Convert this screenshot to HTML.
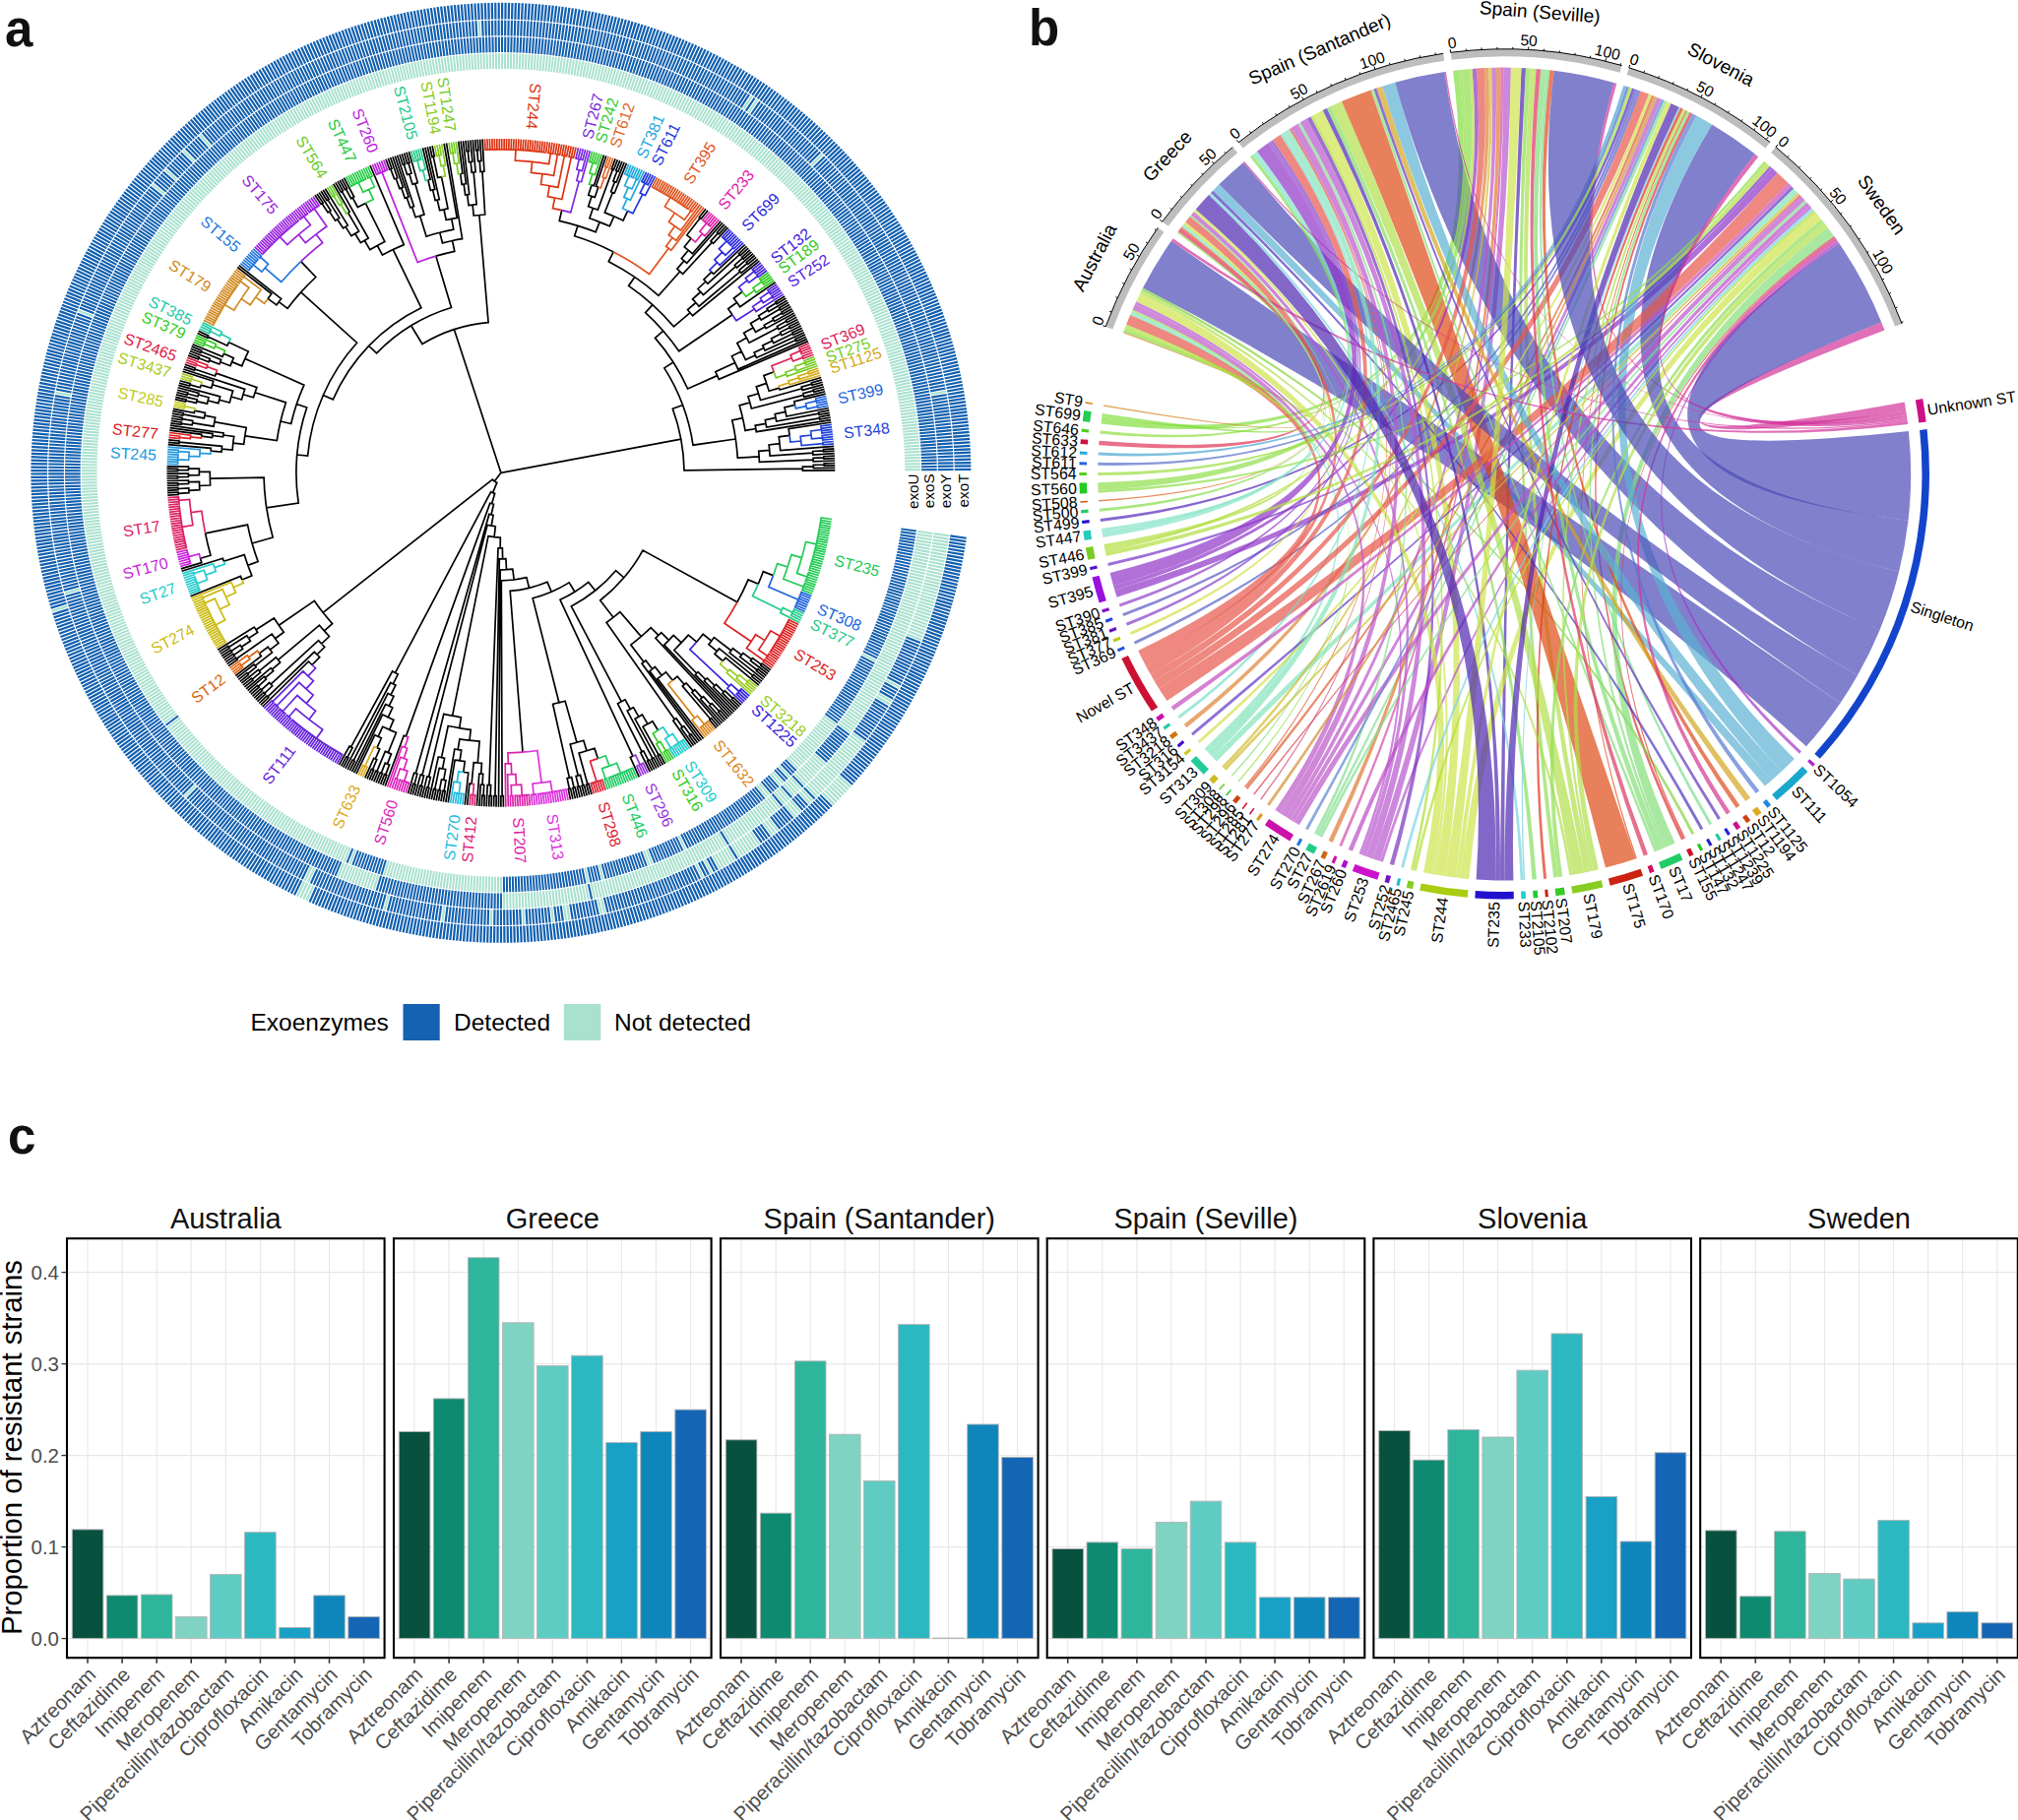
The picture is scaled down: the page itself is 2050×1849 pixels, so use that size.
<!DOCTYPE html>
<html><head><meta charset="utf-8"><title>Figure</title>
<style>html,body{margin:0;padding:0;background:#fff}svg{display:block}</style></head>
<body><svg width="2050" height="1849" viewBox="0 0 2050 1849">
<rect width="2050" height="1849" fill="#fff"/>
<g fill="none"><path d="M927.15 478.27A418.25 418.25 0 0 0 560.16 65.2" stroke="#a9e1cf" stroke-width="15.7" stroke-dasharray="1.995 1.028"/><path d="M559.14 65.08A418.25 418.25 0 0 0 103.46 377.58" stroke="#a9e1cf" stroke-width="15.7" stroke-dasharray="1.995 1.028"/><path d="M103.21 378.58A418.25 418.25 0 0 0 173.65 730.37" stroke="#a9e1cf" stroke-width="15.7" stroke-dasharray="1.995 1.028"/><path d="M174.26 731.2A418.25 418.25 0 0 0 175.46 732.79" stroke="#1260b0" stroke-width="15.7" stroke-dasharray="1.995 1.028"/><path d="M176.08 733.61A418.25 418.25 0 0 0 353.53 868.62" stroke="#a9e1cf" stroke-width="15.7" stroke-dasharray="1.995 1.028"/><path d="M354.48 869A418.25 418.25 0 0 0 356.34 869.73" stroke="#1260b0" stroke-width="15.7" stroke-dasharray="1.995 1.028"/><path d="M357.3 870.11A418.25 418.25 0 0 0 359.16 870.83" stroke="#a9e1cf" stroke-width="15.7" stroke-dasharray="1.995 1.028"/><path d="M360.12 871.19A418.25 418.25 0 0 0 390.65 881.48" stroke="#1260b0" stroke-width="15.7" stroke-dasharray="1.995 1.028"/><path d="M391.63 881.77A418.25 418.25 0 0 0 509.93 898.55" stroke="#a9e1cf" stroke-width="15.7" stroke-dasharray="1.995 1.028"/><path d="M510.96 898.54A418.25 418.25 0 0 0 593.98 889.81" stroke="#1260b0" stroke-width="15.7" stroke-dasharray="1.995 1.028"/><path d="M594.98 889.6A418.25 418.25 0 0 0 596.94 889.18" stroke="#a9e1cf" stroke-width="15.7" stroke-dasharray="1.995 1.028"/><path d="M597.94 888.96A418.25 418.25 0 0 0 608.72 886.46" stroke="#1260b0" stroke-width="15.7" stroke-dasharray="1.995 1.028"/><path d="M609.72 886.22A418.25 418.25 0 0 0 611.65 885.73" stroke="#a9e1cf" stroke-width="15.7" stroke-dasharray="1.995 1.028"/><path d="M612.65 885.48A418.25 418.25 0 0 0 654.92 872.23" stroke="#1260b0" stroke-width="15.7" stroke-dasharray="1.995 1.028"/><path d="M655.88 871.87A418.25 418.25 0 0 0 660.57 870.08" stroke="#a9e1cf" stroke-width="15.7" stroke-dasharray="1.995 1.028"/><path d="M661.52 869.71A418.25 418.25 0 0 0 691.04 856.81" stroke="#1260b0" stroke-width="15.7" stroke-dasharray="1.995 1.028"/><path d="M691.97 856.36A418.25 418.25 0 0 0 693.76 855.48" stroke="#a9e1cf" stroke-width="15.7" stroke-dasharray="1.995 1.028"/><path d="M694.68 855.02A418.25 418.25 0 0 0 772.5 805.03" stroke="#1260b0" stroke-width="15.7" stroke-dasharray="1.995 1.028"/><path d="M773.3 804.38A418.25 418.25 0 0 0 777.17 801.18" stroke="#a9e1cf" stroke-width="15.7" stroke-dasharray="1.995 1.028"/><path d="M777.96 800.52A418.25 418.25 0 0 0 786.33 793.29" stroke="#1260b0" stroke-width="15.7" stroke-dasharray="1.995 1.028"/><path d="M787.1 792.61A418.25 418.25 0 0 0 790.83 789.25" stroke="#a9e1cf" stroke-width="15.7" stroke-dasharray="1.995 1.028"/><path d="M791.58 788.56A418.25 418.25 0 0 0 795.26 785.14" stroke="#1260b0" stroke-width="15.7" stroke-dasharray="1.995 1.028"/><path d="M796.01 784.44A418.25 418.25 0 0 0 797.46 783.07" stroke="#a9e1cf" stroke-width="15.7" stroke-dasharray="1.995 1.028"/><path d="M798.2 782.36A418.25 418.25 0 0 0 803.96 776.74" stroke="#1260b0" stroke-width="15.7" stroke-dasharray="1.995 1.028"/><path d="M804.68 776.01A418.25 418.25 0 0 0 843.58 731.14" stroke="#a9e1cf" stroke-width="15.7" stroke-dasharray="1.995 1.028"/><path d="M844.2 730.32A418.25 418.25 0 0 0 881.85 669.61" stroke="#1260b0" stroke-width="15.7" stroke-dasharray="1.995 1.028"/><path d="M882.32 668.7A418.25 418.25 0 0 0 883.21 666.91" stroke="#a9e1cf" stroke-width="15.7" stroke-dasharray="1.995 1.028"/><path d="M883.67 665.99A418.25 418.25 0 0 0 923.22 537.52" stroke="#1260b0" stroke-width="15.7" stroke-dasharray="1.995 1.028"/><path d="M943.94 478.19A435.05 435.05 0 0 0 562.22 48.53" stroke="#1260b0" stroke-width="15.7" stroke-dasharray="2.075 1.069"/><path d="M561.16 48.4A435.05 435.05 0 0 0 87.17 373.46" stroke="#1260b0" stroke-width="15.7" stroke-dasharray="2.075 1.069"/><path d="M86.91 374.5A435.05 435.05 0 0 0 344.37 883.04" stroke="#1260b0" stroke-width="15.7" stroke-dasharray="2.075 1.069"/><path d="M345.36 883.44A435.05 435.05 0 0 0 382.88 896.7" stroke="#a9e1cf" stroke-width="15.7" stroke-dasharray="2.075 1.069"/><path d="M383.91 897.01A435.05 435.05 0 0 0 509.97 915.35" stroke="#1260b0" stroke-width="15.7" stroke-dasharray="2.075 1.069"/><path d="M511.04 915.34A435.05 435.05 0 0 0 597.4 906.25" stroke="#a9e1cf" stroke-width="15.7" stroke-dasharray="2.075 1.069"/><path d="M598.44 906.04A435.05 435.05 0 0 0 600.47 905.6" stroke="#1260b0" stroke-width="15.7" stroke-dasharray="2.075 1.069"/><path d="M601.52 905.38A435.05 435.05 0 0 0 734.27 852.43" stroke="#a9e1cf" stroke-width="15.7" stroke-dasharray="2.075 1.069"/><path d="M735.18 851.87A435.05 435.05 0 0 0 736.95 850.79" stroke="#1260b0" stroke-width="15.7" stroke-dasharray="2.075 1.069"/><path d="M737.86 850.23A435.05 435.05 0 0 0 787.94 814.07" stroke="#a9e1cf" stroke-width="15.7" stroke-dasharray="2.075 1.069"/><path d="M788.76 813.38A435.05 435.05 0 0 0 790.35 812.05" stroke="#1260b0" stroke-width="15.7" stroke-dasharray="2.075 1.069"/><path d="M791.16 811.35A435.05 435.05 0 0 0 797.47 805.87" stroke="#a9e1cf" stroke-width="15.7" stroke-dasharray="2.075 1.069"/><path d="M798.27 805.16A435.05 435.05 0 0 0 799.82 803.77" stroke="#1260b0" stroke-width="15.7" stroke-dasharray="2.075 1.069"/><path d="M800.61 803.06A435.05 435.05 0 0 0 809.05 795.23" stroke="#a9e1cf" stroke-width="15.7" stroke-dasharray="2.075 1.069"/><path d="M809.82 794.49A435.05 435.05 0 0 0 811.32 793.05" stroke="#1260b0" stroke-width="15.7" stroke-dasharray="2.075 1.069"/><path d="M812.09 792.31A435.05 435.05 0 0 0 833.11 770.39" stroke="#a9e1cf" stroke-width="15.7" stroke-dasharray="2.075 1.069"/><path d="M833.82 769.6A435.05 435.05 0 0 0 857.02 741.22" stroke="#1260b0" stroke-width="15.7" stroke-dasharray="2.075 1.069"/><path d="M857.66 740.36A435.05 435.05 0 0 0 939.86 539.82" stroke="#a9e1cf" stroke-width="15.7" stroke-dasharray="2.075 1.069"/><path d="M960.74 478.11A451.85 451.85 0 0 0 953.78 401.25" stroke="#1260b0" stroke-width="15.7" stroke-dasharray="2.155 1.110"/><path d="M953.59 400.16A451.85 451.85 0 0 0 953.2 398.04" stroke="#a9e1cf" stroke-width="15.7" stroke-dasharray="2.155 1.110"/><path d="M953 396.95A451.85 451.85 0 0 0 831.47 163.89" stroke="#1260b0" stroke-width="15.7" stroke-dasharray="2.155 1.110"/><path d="M830.7 163.1A451.85 451.85 0 0 0 829.18 161.57" stroke="#a9e1cf" stroke-width="15.7" stroke-dasharray="2.155 1.110"/><path d="M828.39 160.78A451.85 451.85 0 0 0 766.68 109.2" stroke="#1260b0" stroke-width="15.7" stroke-dasharray="2.155 1.110"/><path d="M765.77 108.57A451.85 451.85 0 0 0 764 107.35" stroke="#a9e1cf" stroke-width="15.7" stroke-dasharray="2.155 1.110"/><path d="M763.08 106.72A451.85 451.85 0 0 0 761.29 105.51" stroke="#1260b0" stroke-width="15.7" stroke-dasharray="2.155 1.110"/><path d="M760.37 104.89A451.85 451.85 0 0 0 758.58 103.7" stroke="#a9e1cf" stroke-width="15.7" stroke-dasharray="2.155 1.110"/><path d="M757.65 103.09A451.85 451.85 0 0 0 489.31 28.87" stroke="#1260b0" stroke-width="15.7" stroke-dasharray="2.155 1.110"/><path d="M488.2 28.92A451.85 451.85 0 0 0 486.05 29.03" stroke="#a9e1cf" stroke-width="15.7" stroke-dasharray="2.155 1.110"/><path d="M484.94 29.09A451.85 451.85 0 0 0 210.02 141.42" stroke="#1260b0" stroke-width="15.7" stroke-dasharray="2.155 1.110"/><path d="M209.18 142.16A451.85 451.85 0 0 0 207.57 143.59" stroke="#a9e1cf" stroke-width="15.7" stroke-dasharray="2.155 1.110"/><path d="M206.75 144.34A451.85 451.85 0 0 0 193.26 156.97" stroke="#1260b0" stroke-width="15.7" stroke-dasharray="2.155 1.110"/><path d="M192.47 157.75A451.85 451.85 0 0 0 190.93 159.26" stroke="#a9e1cf" stroke-width="15.7" stroke-dasharray="2.155 1.110"/><path d="M190.14 160.05A451.85 451.85 0 0 0 175.1 175.75" stroke="#1260b0" stroke-width="15.7" stroke-dasharray="2.155 1.110"/><path d="M174.36 176.58A451.85 451.85 0 0 0 172.91 178.18" stroke="#a9e1cf" stroke-width="15.7" stroke-dasharray="2.155 1.110"/><path d="M172.17 179A451.85 451.85 0 0 0 162.21 190.51" stroke="#1260b0" stroke-width="15.7" stroke-dasharray="2.155 1.110"/><path d="M161.5 191.36A451.85 451.85 0 0 0 160.13 193.03" stroke="#a9e1cf" stroke-width="15.7" stroke-dasharray="2.155 1.110"/><path d="M159.42 193.88A451.85 451.85 0 0 0 87.79 316.49" stroke="#1260b0" stroke-width="15.7" stroke-dasharray="2.155 1.110"/><path d="M87.39 317.52A451.85 451.85 0 0 0 86.62 319.53" stroke="#a9e1cf" stroke-width="15.7" stroke-dasharray="2.155 1.110"/><path d="M86.22 320.57A451.85 451.85 0 0 0 64.6 398.04" stroke="#1260b0" stroke-width="15.7" stroke-dasharray="2.155 1.110"/><path d="M64.4 399.13A451.85 451.85 0 0 0 64.02 401.25" stroke="#a9e1cf" stroke-width="15.7" stroke-dasharray="2.155 1.110"/><path d="M63.82 402.35A451.85 451.85 0 0 0 72.83 598.66" stroke="#1260b0" stroke-width="15.7" stroke-dasharray="2.155 1.110"/><path d="M73.12 599.74A451.85 451.85 0 0 0 73.7 601.81" stroke="#a9e1cf" stroke-width="15.7" stroke-dasharray="2.155 1.110"/><path d="M74 602.88A451.85 451.85 0 0 0 191.73 802.12" stroke="#1260b0" stroke-width="15.7" stroke-dasharray="2.155 1.110"/><path d="M192.52 802.9A451.85 451.85 0 0 0 194.06 804.41" stroke="#a9e1cf" stroke-width="15.7" stroke-dasharray="2.155 1.110"/><path d="M194.86 805.18A451.85 451.85 0 0 0 311.19 886.6" stroke="#1260b0" stroke-width="15.7" stroke-dasharray="2.155 1.110"/><path d="M312.19 887.08A451.85 451.85 0 0 0 317.08 889.41" stroke="#a9e1cf" stroke-width="15.7" stroke-dasharray="2.155 1.110"/><path d="M318.09 889.89A451.85 451.85 0 0 0 390.57 916.38" stroke="#1260b0" stroke-width="15.7" stroke-dasharray="2.155 1.110"/><path d="M391.65 916.67A451.85 451.85 0 0 0 393.73 917.23" stroke="#a9e1cf" stroke-width="15.7" stroke-dasharray="2.155 1.110"/><path d="M394.8 917.51A451.85 451.85 0 0 0 448.15 928.05" stroke="#1260b0" stroke-width="15.7" stroke-dasharray="2.155 1.110"/><path d="M449.25 928.2A451.85 451.85 0 0 0 451.39 928.47" stroke="#a9e1cf" stroke-width="15.7" stroke-dasharray="2.155 1.110"/><path d="M452.49 928.61A451.85 451.85 0 0 0 496.95 931.99" stroke="#1260b0" stroke-width="15.7" stroke-dasharray="2.155 1.110"/><path d="M498.06 932.02A451.85 451.85 0 0 0 500.22 932.07" stroke="#a9e1cf" stroke-width="15.7" stroke-dasharray="2.155 1.110"/><path d="M501.33 932.09A451.85 451.85 0 0 0 529.6 931.68" stroke="#1260b0" stroke-width="15.7" stroke-dasharray="2.155 1.110"/><path d="M530.71 931.62A451.85 451.85 0 0 0 532.86 931.51" stroke="#a9e1cf" stroke-width="15.7" stroke-dasharray="2.155 1.110"/><path d="M533.97 931.45A451.85 451.85 0 0 0 558.9 929.38" stroke="#1260b0" stroke-width="15.7" stroke-dasharray="2.155 1.110"/><path d="M560 929.25A451.85 451.85 0 0 0 562.14 929" stroke="#a9e1cf" stroke-width="15.7" stroke-dasharray="2.155 1.110"/><path d="M563.25 928.87A451.85 451.85 0 0 0 571.86 927.74" stroke="#1260b0" stroke-width="15.7" stroke-dasharray="2.155 1.110"/><path d="M572.96 927.59A451.85 451.85 0 0 0 578.32 926.79" stroke="#a9e1cf" stroke-width="15.7" stroke-dasharray="2.155 1.110"/><path d="M579.42 926.61A451.85 451.85 0 0 0 607.2 921.33" stroke="#1260b0" stroke-width="15.7" stroke-dasharray="2.155 1.110"/><path d="M608.28 921.09A451.85 451.85 0 0 0 613.56 919.86" stroke="#a9e1cf" stroke-width="15.7" stroke-dasharray="2.155 1.110"/><path d="M614.64 919.6A451.85 451.85 0 0 0 708.61 885.62" stroke="#1260b0" stroke-width="15.7" stroke-dasharray="2.155 1.110"/><path d="M709.61 885.13A451.85 451.85 0 0 0 711.54 884.16" stroke="#a9e1cf" stroke-width="15.7" stroke-dasharray="2.155 1.110"/><path d="M712.53 883.67A451.85 451.85 0 0 0 717.35 881.19" stroke="#1260b0" stroke-width="15.7" stroke-dasharray="2.155 1.110"/><path d="M718.34 880.68A451.85 451.85 0 0 0 720.25 879.68" stroke="#a9e1cf" stroke-width="15.7" stroke-dasharray="2.155 1.110"/><path d="M721.23 879.16A451.85 451.85 0 0 0 726 876.58" stroke="#1260b0" stroke-width="15.7" stroke-dasharray="2.155 1.110"/><path d="M726.97 876.05A451.85 451.85 0 0 0 742.97 866.8" stroke="#a9e1cf" stroke-width="15.7" stroke-dasharray="2.155 1.110"/><path d="M743.92 866.22A451.85 451.85 0 0 0 745.76 865.09" stroke="#1260b0" stroke-width="15.7" stroke-dasharray="2.155 1.110"/><path d="M746.7 864.51A451.85 451.85 0 0 0 767.6 850.76" stroke="#a9e1cf" stroke-width="15.7" stroke-dasharray="2.155 1.110"/><path d="M768.51 850.13A451.85 451.85 0 0 0 778.2 843.13" stroke="#1260b0" stroke-width="15.7" stroke-dasharray="2.155 1.110"/><path d="M779.09 842.47A451.85 451.85 0 0 0 786 837.21" stroke="#a9e1cf" stroke-width="15.7" stroke-dasharray="2.155 1.110"/><path d="M786.88 836.52A451.85 451.85 0 0 0 801.22 824.86" stroke="#1260b0" stroke-width="15.7" stroke-dasharray="2.155 1.110"/><path d="M802.06 824.14A451.85 451.85 0 0 0 808.62 818.44" stroke="#a9e1cf" stroke-width="15.7" stroke-dasharray="2.155 1.110"/><path d="M809.45 817.7A451.85 451.85 0 0 0 815.88 811.86" stroke="#1260b0" stroke-width="15.7" stroke-dasharray="2.155 1.110"/><path d="M816.69 811.1A451.85 451.85 0 0 0 820.64 807.39" stroke="#a9e1cf" stroke-width="15.7" stroke-dasharray="2.155 1.110"/><path d="M821.44 806.62A451.85 451.85 0 0 0 823 805.13" stroke="#1260b0" stroke-width="15.7" stroke-dasharray="2.155 1.110"/><path d="M823.79 804.35A451.85 451.85 0 0 0 872.42 748.67" stroke="#a9e1cf" stroke-width="15.7" stroke-dasharray="2.155 1.110"/><path d="M873.07 747.78A451.85 451.85 0 0 0 895.99 713.38" stroke="#1260b0" stroke-width="15.7" stroke-dasharray="2.155 1.110"/><path d="M896.56 712.43A451.85 451.85 0 0 0 899.32 707.76" stroke="#a9e1cf" stroke-width="15.7" stroke-dasharray="2.155 1.110"/><path d="M899.88 706.8A451.85 451.85 0 0 0 905.73 696.38" stroke="#1260b0" stroke-width="15.7" stroke-dasharray="2.155 1.110"/><path d="M906.26 695.41A451.85 451.85 0 0 0 907.28 693.51" stroke="#a9e1cf" stroke-width="15.7" stroke-dasharray="2.155 1.110"/><path d="M907.81 692.53A451.85 451.85 0 0 0 928.02 649.15" stroke="#1260b0" stroke-width="15.7" stroke-dasharray="2.155 1.110"/><path d="M928.43 648.12A451.85 451.85 0 0 0 956.5 542.12" stroke="#a9e1cf" stroke-width="15.7" stroke-dasharray="2.155 1.110"/><path d="M978.04 478.03A469.15 469.15 0 0 0 566.4 14.69" stroke="#1260b0" stroke-width="16.7" stroke-dasharray="2.238 1.153"/><path d="M565.25 14.55A469.15 469.15 0 0 0 54.12 365.08" stroke="#1260b0" stroke-width="16.7" stroke-dasharray="2.238 1.153"/><path d="M53.84 366.2A469.15 469.15 0 0 0 59.87 616.23" stroke="#1260b0" stroke-width="16.7" stroke-dasharray="2.238 1.153"/><path d="M60.21 617.34A469.15 469.15 0 0 0 60.87 619.47" stroke="#a9e1cf" stroke-width="16.7" stroke-dasharray="2.238 1.153"/><path d="M61.21 620.58A469.15 469.15 0 0 0 303.62 902.16" stroke="#1260b0" stroke-width="16.7" stroke-dasharray="2.238 1.153"/><path d="M304.66 902.66A469.15 469.15 0 0 0 315.9 907.91" stroke="#a9e1cf" stroke-width="16.7" stroke-dasharray="2.238 1.153"/><path d="M316.95 908.39A469.15 469.15 0 0 0 839.86 812.81" stroke="#1260b0" stroke-width="16.7" stroke-dasharray="2.238 1.153"/><path d="M840.68 812A469.15 469.15 0 0 0 858.53 793.13" stroke="#a9e1cf" stroke-width="16.7" stroke-dasharray="2.238 1.153"/><path d="M859.29 792.27A469.15 469.15 0 0 0 973.64 544.48" stroke="#1260b0" stroke-width="16.7" stroke-dasharray="2.238 1.153"/></g>
<g fill="none" stroke-width="1.7" stroke-linejoin="miter" stroke-linecap="butt"><path d="M508.9 480.3L691.8 446.1M691.8 446.1A186.1 186.1 0 0 1 695 477.8L815.4 476.1M815.4 476.1A306.6 306.6 0 0 1 815.4 478.1L848.3 477.8M815.4 476.1A306.6 306.6 0 0 0 815.4 474.2L826.3 474M826.3 474A317.5 317.5 0 0 1 826.4 475.7L848.3 475.4M826.3 474A317.5 317.5 0 0 0 826.3 472.3L837.2 472M837.2 472A328.5 328.5 0 0 1 837.3 473.2L848.2 472.9M837.2 472A328.5 328.5 0 0 0 837.2 470.8L848.2 470.5M691.8 446.1A186.1 186.1 0 0 0 683.3 415.3L693.6 411.5M693.6 411.5A197.1 197.1 0 0 1 704 452.2L747.3 446M747.3 446A240.9 240.9 0 0 1 749.3 465.2L771.1 463.9M771.1 463.9A262.8 262.8 0 0 1 771.4 469.4L826.1 467.1M826.1 467.1A317.5 317.5 0 0 1 826.2 468.8L848.1 468M826.1 467.1A317.5 317.5 0 0 0 826.1 465.4L837 464.9M837 464.9A328.5 328.5 0 0 1 837 466.1L848 465.6M837 464.9A328.5 328.5 0 0 0 836.9 463.7L847.9 463.1M771.1 463.9A262.8 262.8 0 0 0 770.7 458.3L781.7 457.4M781.7 457.4A273.7 273.7 0 0 1 782.1 463L825.8 460.2M825.8 460.2A317.5 317.5 0 0 1 825.9 462L847.7 460.7M825.8 460.2A317.5 317.5 0 0 0 825.7 458.5L836.6 457.8M836.6 457.8A328.5 328.5 0 0 1 836.7 458.9L847.6 458.2M836.6 457.8A328.5 328.5 0 0 0 836.5 456.6L847.4 455.8M781.7 457.4A273.7 273.7 0 0 0 781.1 451.9L792 450.7M792 450.7A284.7 284.7 0 0 1 792.7 457.7L847.2 453.3M792 450.7A284.7 284.7 0 0 0 791.2 443.8L802.1 442.3M802.1 442.3A295.6 295.6 0 0 0 801.1 435.6L844.4 429M747.3 446A240.9 240.9 0 0 0 743.8 427L754.5 424.6M754.5 424.6A251.8 251.8 0 0 1 757 437.4L767.8 435.5M767.8 435.5A262.8 262.8 0 0 1 768.3 438.7L844 426.6M767.8 435.5A262.8 262.8 0 0 0 767.2 432.3L778 430.3M778 430.3A273.7 273.7 0 0 1 778.7 434L832.6 424.8M832.6 424.8A328.5 328.5 0 0 1 832.8 426L843.6 424.1M832.6 424.8A328.5 328.5 0 0 0 832.4 423.6L843.2 421.7M778 430.3A273.7 273.7 0 0 0 777.3 426.6L788 424.4M788 424.4A284.7 284.7 0 0 1 788.7 428.1L831.8 420.1M831.8 420.1A328.5 328.5 0 0 1 832 421.3L842.8 419.3M831.8 420.1A328.5 328.5 0 0 0 831.6 418.9L842.3 416.9M788 424.4A284.7 284.7 0 0 0 787.2 420.7L798 418.4M798 418.4A295.6 295.6 0 0 1 798.9 423L841.9 414.5M798 418.4A295.6 295.6 0 0 0 796.9 413.8L807.6 411.4M807.6 411.4A306.6 306.6 0 0 0 806.8 407.9L838.7 400.1M754.5 424.6A251.8 251.8 0 0 0 751.2 411.9L761.8 408.9M761.8 408.9A262.8 262.8 0 0 1 763.4 415L816.4 401.4M816.4 401.4A317.5 317.5 0 0 1 816.9 403.1L838.1 397.7M816.4 401.4A317.5 317.5 0 0 0 816 399.7L826.6 396.9M826.6 396.9A328.5 328.5 0 0 1 826.9 398.1L837.5 395.4M826.6 396.9A328.5 328.5 0 0 0 826.3 395.8L836.9 393M761.8 408.9A262.8 262.8 0 0 0 760 402.9L770.5 399.7M770.5 399.7A273.7 273.7 0 0 1 772.5 406.5L814.7 394.7M814.7 394.7A317.5 317.5 0 0 1 815.1 396.4L836.2 390.6M814.7 394.7A317.5 317.5 0 0 0 814.2 393.1L824.7 390.1M824.7 390.1A328.5 328.5 0 0 1 825 391.2L835.6 388.3M824.7 390.1A328.5 328.5 0 0 0 824.4 388.9L834.9 385.9M770.5 399.7A273.7 273.7 0 0 0 768.3 392.9L778.7 389.4M778.7 389.4A284.7 284.7 0 0 1 781.2 397.3L791.7 394.1M791.7 394.1A295.6 295.6 0 0 1 792.2 396L834.2 383.5M778.7 389.4A284.7 284.7 0 0 0 775.9 381.6L786.2 377.8M693.6 411.5A197.1 197.1 0 0 0 674.8 373.9L684 368M684 368A208 208 0 0 1 698.6 395L728.6 381.6M728.6 381.6A240.9 240.9 0 0 1 730.3 385.4L820.9 346.6M728.6 381.6A240.9 240.9 0 0 0 726.8 377.7L746.7 368.4M746.7 368.4A262.8 262.8 0 0 1 749.7 375.1L819.9 344.4M746.7 368.4A262.8 262.8 0 0 0 743.4 361.8L753.2 356.9M753.2 356.9A273.7 273.7 0 0 1 757.4 365.5L767.3 360.9M767.3 360.9A284.7 284.7 0 0 1 768.5 363.5L808.4 345.5M808.4 345.5A328.5 328.5 0 0 1 808.9 346.6L818.9 342.2M808.4 345.5A328.5 328.5 0 0 0 807.9 344.4L817.9 339.9M767.3 360.9A284.7 284.7 0 0 0 766.1 358.2L776 353.5M776 353.5A295.6 295.6 0 0 1 777.1 356.1L816.9 337.7M776 353.5A295.6 295.6 0 0 0 774.7 351L784.6 346.2M784.6 346.2A306.6 306.6 0 0 1 785.7 348.5L805.4 339.1M805.4 339.1A328.5 328.5 0 0 1 805.9 340.1L815.8 335.5M805.4 339.1A328.5 328.5 0 0 0 804.9 338L814.8 333.2M784.6 346.2A306.6 306.6 0 0 0 783.5 344L793.3 339.1M793.3 339.1A317.5 317.5 0 0 1 794.1 340.7L813.7 331M793.3 339.1A317.5 317.5 0 0 0 792.5 337.6L802.3 332.7M802.3 332.7A328.5 328.5 0 0 1 802.8 333.7L812.6 328.8M802.3 332.7A328.5 328.5 0 0 0 801.8 331.6L811.5 326.7M753.2 356.9A273.7 273.7 0 0 0 748.8 348.5L758.4 343.2M758.4 343.2A284.7 284.7 0 0 1 761.1 348.2L790.2 333M790.2 333A317.5 317.5 0 0 1 791 334.5L810.4 324.5M790.2 333A317.5 317.5 0 0 0 789.4 331.5L799 326.3M799 326.3A328.5 328.5 0 0 1 799.6 327.4L809.3 322.3M799 326.3A328.5 328.5 0 0 0 798.5 325.3L808.1 320.1M758.4 343.2A284.7 284.7 0 0 0 755.6 338.3L765.1 332.9M765.1 332.9A295.6 295.6 0 0 1 767.6 337.3L777.2 332M777.2 332A306.6 306.6 0 0 1 778.1 333.7L807 318M777.2 332A306.6 306.6 0 0 0 776.2 330.3L785.8 324.9M785.8 324.9A317.5 317.5 0 0 1 786.6 326.4L805.8 315.8M785.8 324.9A317.5 317.5 0 0 0 784.9 323.4L794.5 318M794.5 318A328.5 328.5 0 0 1 795 319.1L804.6 313.7M794.5 318A328.5 328.5 0 0 0 793.9 317L803.4 311.5M765.1 332.9A295.6 295.6 0 0 0 762.5 328.5L771.9 322.9M771.9 322.9A306.6 306.6 0 0 1 773.2 325L792.1 313.9M792.1 313.9A328.5 328.5 0 0 1 792.7 314.9L802.1 309.4M792.1 313.9A328.5 328.5 0 0 0 791.5 312.9L800.9 307.3M771.9 322.9A306.6 306.6 0 0 0 770.6 320.7L780 315M780 315A317.5 317.5 0 0 1 780.9 316.5L799.6 305.2M780 315A317.5 317.5 0 0 0 779.1 313.6L788.4 307.8M788.4 307.8A328.5 328.5 0 0 1 789 308.8L798.4 303.1M788.4 307.8A328.5 328.5 0 0 0 787.8 306.8L797.1 301M684 368A208 208 0 0 0 665.5 343.4L673.8 336.2M673.8 336.2A219 219 0 0 1 689.7 356.8L743.9 319.7M743.9 319.7A284.7 284.7 0 0 0 739.7 313.7L748.6 307.3M748.6 307.3A295.6 295.6 0 0 1 751.7 311.7L787.6 286.7M748.6 307.3A295.6 295.6 0 0 0 745.4 303L754.2 296.4M673.8 336.2A219 219 0 0 0 655.6 317.7L662.9 309.6M662.9 309.6A229.9 229.9 0 0 1 684.4 331.8L701.1 317.7M701.1 317.7A251.8 251.8 0 0 1 703.6 320.7L771.4 265.1M701.1 317.7A251.8 251.8 0 0 0 698.6 314.7L706.8 307.5M706.8 307.5A262.8 262.8 0 0 1 710 311.2L751.9 275.9M751.9 275.9A317.5 317.5 0 0 1 753 277.3L769.8 263.3M751.9 275.9A317.5 317.5 0 0 0 750.8 274.6L759.1 267.5M759.1 267.5A328.5 328.5 0 0 1 759.9 268.4L768.2 261.4M759.1 267.5A328.5 328.5 0 0 0 758.3 266.6L766.7 259.5M706.8 307.5A262.8 262.8 0 0 0 703.6 303.9L711.7 296.5M711.7 296.5A273.7 273.7 0 0 1 714.5 299.6L747.4 270.7M747.4 270.7A317.5 317.5 0 0 1 748.5 272L765.1 257.6M747.4 270.7A317.5 317.5 0 0 0 746.3 269.4L754.4 262.2M754.4 262.2A328.5 328.5 0 0 1 755.2 263L763.4 255.8M754.4 262.2A328.5 328.5 0 0 0 753.7 261.3L761.8 254M711.7 296.5A273.7 273.7 0 0 0 708.9 293.5L716.9 286M716.9 286A284.7 284.7 0 0 1 718.9 288.2L751.3 258.6M751.3 258.6A328.5 328.5 0 0 1 752.1 259.5L760.2 252.1M751.3 258.6A328.5 328.5 0 0 0 750.5 257.8L758.5 250.3M716.9 286A284.7 284.7 0 0 0 714.9 283.9L722.8 276.3M722.8 276.3A295.6 295.6 0 0 1 724.9 278.4L756.8 248.5M662.9 309.6A229.9 229.9 0 0 0 638.6 290.4L644.7 281.4M644.7 281.4A240.9 240.9 0 0 1 669 300.3L690.8 275.8M690.8 275.8A273.7 273.7 0 0 1 693.7 278.4L723.3 246.1M723.3 246.1A317.5 317.5 0 0 1 724.6 247.3L739.5 231.2M723.3 246.1A317.5 317.5 0 0 0 722 245L729.4 236.9M729.4 236.9A328.5 328.5 0 0 1 730.3 237.7L737.7 229.6M729.4 236.9A328.5 328.5 0 0 0 728.5 236.1L735.8 227.9M690.8 275.8A273.7 273.7 0 0 0 687.8 273.2L695 264.9M695 264.9A284.7 284.7 0 0 1 697.7 267.3L734 226.3M695 264.9A284.7 284.7 0 0 0 692.3 262.6L699.3 254.2M699.3 254.2A295.6 295.6 0 0 1 703.4 257.7L732.2 224.7M699.3 254.2A295.6 295.6 0 0 0 695.2 250.8L702.1 242.3M702.1 242.3A306.6 306.6 0 0 0 697.8 238.8L711.2 221.6M711.2 221.6A328.5 328.5 0 0 1 712.2 222.3L719 213.7M711.2 221.6A328.5 328.5 0 0 0 710.3 220.8L717 212.2M644.7 281.4A240.9 240.9 0 0 0 618.3 265.7L623.2 255.9M623.2 255.9A251.8 251.8 0 0 0 583.6 239.8L586.9 229.4M586.9 229.4A262.8 262.8 0 0 1 605.1 235.8L609.1 225.6M609.1 225.6A273.7 273.7 0 0 1 619.3 229.8L623.7 219.8M623.7 219.8A284.7 284.7 0 0 1 633 224.1L637.7 214.2M623.7 219.8A284.7 284.7 0 0 0 614.3 215.9L622.4 195.5M622.4 195.5A306.6 306.6 0 0 1 624.2 196.2L636.5 165.8M622.4 195.5A306.6 306.6 0 0 0 620.6 194.8L624.5 184.6M624.5 184.6A317.5 317.5 0 0 1 626.1 185.2L634.2 164.9M624.5 184.6A317.5 317.5 0 0 0 622.9 184L626.9 173.8M626.9 173.8A328.5 328.5 0 0 1 628 174.2L631.9 164M626.9 173.8A328.5 328.5 0 0 0 625.8 173.3L629.7 163.1M609.1 225.6A273.7 273.7 0 0 0 598.9 221.8L602.4 211.5M602.4 211.5A284.7 284.7 0 0 1 607.3 213.2L622.4 172.1M622.4 172.1A328.5 328.5 0 0 1 623.5 172.5L627.4 162.2M622.4 172.1A328.5 328.5 0 0 0 621.3 171.7L625.1 161.4M602.4 211.5A284.7 284.7 0 0 0 597.6 209.8L601 199.4M601 199.4A295.6 295.6 0 0 1 604.3 200.5L607.8 190.1M607.8 190.1A306.6 306.6 0 0 0 605.4 189.3L615.8 158.2M601 199.4A295.6 295.6 0 0 0 597.7 198.3L601 187.9M601 187.9A306.6 306.6 0 0 1 603.3 188.7L613.5 157.4M586.9 229.4A262.8 262.8 0 0 0 568.2 224.3L570.7 213.6M508.9 480.3L461.3 334.6M461.3 334.6A153.3 153.3 0 0 1 496.1 327.6L486.9 218.5M486.9 218.5A262.8 262.8 0 0 1 492.7 218L490 174.3M490 174.3A306.6 306.6 0 0 1 491.9 174.2L490.1 141.4M490 174.3A306.6 306.6 0 0 0 488 174.5L487.3 163.5M487.3 163.5A317.5 317.5 0 0 1 489 163.4L487.6 141.6M487.3 163.5A317.5 317.5 0 0 0 485.6 163.7L484.8 152.7M484.8 152.7A328.5 328.5 0 0 1 486 152.7L485.2 141.7M484.8 152.7A328.5 328.5 0 0 0 483.6 152.8L482.8 141.9M486.9 218.5A262.8 262.8 0 0 0 481.2 219L480.1 208.1M480.1 208.1A273.7 273.7 0 0 1 484.1 207.7L481.1 175M481.1 175A306.6 306.6 0 0 1 483.1 174.8L480.3 142.1M481.1 175A306.6 306.6 0 0 0 479.2 175.2L478.2 164.3M478.2 164.3A317.5 317.5 0 0 1 479.9 164.1L477.9 142.3M478.2 164.3A317.5 317.5 0 0 0 476.4 164.5L475.3 153.6M475.3 153.6A328.5 328.5 0 0 1 476.5 153.5L475.4 142.6M475.3 153.6A328.5 328.5 0 0 0 474.1 153.7L473 142.8M480.1 208.1A273.7 273.7 0 0 0 476 208.6L474.7 197.7M474.7 197.7A284.7 284.7 0 0 1 476.7 197.5L470.5 143.1M474.7 197.7A284.7 284.7 0 0 0 472.6 198L471.2 187.1M471.2 187.1A295.6 295.6 0 0 1 473.4 186.8L468.1 143.4M471.2 187.1A295.6 295.6 0 0 0 469.1 187.4L467.7 176.5M467.7 176.5A306.6 306.6 0 0 1 469.9 176.2L465.7 143.7M461.3 334.6A153.3 153.3 0 0 0 429 349.5L417.6 330.8M417.6 330.8A175.2 175.2 0 0 1 458.5 312.5L442.8 260.1M442.8 260.1A229.9 229.9 0 0 1 461.8 255.3L459.5 244.5M459.5 244.5A240.9 240.9 0 0 1 469.6 242.7L453.5 145.4M459.5 244.5A240.9 240.9 0 0 0 449.5 246.9L446.8 236.3M446.8 236.3A251.8 251.8 0 0 1 460.8 233.1L458.7 222.4M458.7 222.4A262.8 262.8 0 0 1 464.2 221.4L451.1 145.9M458.7 222.4A262.8 262.8 0 0 0 453.2 223.5L450.9 212.8M450.9 212.8A273.7 273.7 0 0 1 455 211.9L448.5 179.7M448.5 179.7A306.6 306.6 0 0 0 444.7 180.5L440.2 159.1M440.2 159.1A328.5 328.5 0 0 1 441.3 158.9L439.1 148.2M440.2 159.1A328.5 328.5 0 0 0 439 159.4L436.7 148.7M450.9 212.8A273.7 273.7 0 0 0 446.7 213.7L444.2 203.1M444.2 203.1A284.7 284.7 0 0 1 446.3 202.6L434.3 149.2M444.2 203.1A284.7 284.7 0 0 0 442.2 203.6L439.6 192.9M439.6 192.9A295.6 295.6 0 0 1 441.8 192.4L431.9 149.8M439.6 192.9A295.6 295.6 0 0 0 437.4 193.5L434.8 182.8M434.8 182.8A306.6 306.6 0 0 1 437.2 182.3L429.5 150.3M446.8 236.3A251.8 251.8 0 0 0 433.1 240.2L426.6 219.3M426.6 219.3A273.7 273.7 0 0 1 431 217.9L421.7 186.4M421.7 186.4A306.6 306.6 0 0 1 424.3 185.6L415.3 154.1M421.7 186.4A306.6 306.6 0 0 0 419 187.2L415.8 176.8M415.8 176.8A317.5 317.5 0 0 1 418 176.1L414.9 165.6M414.9 165.6A328.5 328.5 0 0 1 416 165.3L412.9 154.8M414.9 165.6A328.5 328.5 0 0 0 413.7 165.9L410.6 155.5M415.8 176.8A317.5 317.5 0 0 0 413.6 177.4L410.3 167M410.3 167A328.5 328.5 0 0 1 411.5 166.6L408.2 156.2M410.3 167A328.5 328.5 0 0 0 409.2 167.3L405.9 156.9M426.6 219.3A273.7 273.7 0 0 0 422.1 220.7L418.6 210.3M418.6 210.3A284.7 284.7 0 0 1 420.5 209.7L403.5 157.7M418.6 210.3A284.7 284.7 0 0 0 416.8 211L413.2 200.6M413.2 200.6A295.6 295.6 0 0 1 415.1 200L401.2 158.4M413.2 200.6A295.6 295.6 0 0 0 411.3 201.3L407.7 190.9M407.7 190.9A306.6 306.6 0 0 1 409.5 190.3L398.9 159.2M407.7 190.9A306.6 306.6 0 0 0 405.9 191.6L402.2 181.3M402.2 181.3A317.5 317.5 0 0 1 403.8 180.7L396.6 160M402.2 181.3A317.5 317.5 0 0 0 400.6 181.8L396.8 171.6M396.8 171.6A328.5 328.5 0 0 1 398 171.2L394.3 160.8M396.8 171.6A328.5 328.5 0 0 0 395.7 172L392 161.7M417.6 330.8A175.2 175.2 0 0 0 382.6 358.9L374.7 351.3M374.7 351.3A186.1 186.1 0 0 1 427.9 312.7L399.3 253.6M399.3 253.6A251.8 251.8 0 0 1 410.3 248.6L376 168M399.3 253.6A251.8 251.8 0 0 0 388.5 259.1L383.3 249.5M383.3 249.5A262.8 262.8 0 0 1 390.9 245.5L371.3 206.4M371.3 206.4A306.6 306.6 0 0 0 363.4 210.5L358.2 200.8M358.2 200.8A317.5 317.5 0 0 1 359.7 200L349.4 180.7M358.2 200.8A317.5 317.5 0 0 0 356.7 201.7L351.4 192M351.4 192A328.5 328.5 0 0 1 352.5 191.5L347.3 181.9M351.4 192A328.5 328.5 0 0 0 350.4 192.6L345.1 183M383.3 249.5A262.8 262.8 0 0 0 375.8 253.7L370.3 244.3M370.3 244.3A273.7 273.7 0 0 1 374.2 242L347.3 194.4M347.3 194.4A328.5 328.5 0 0 1 348.3 193.8L343 184.2M347.3 194.4A328.5 328.5 0 0 0 346.3 194.9L340.8 185.4M370.3 244.3A273.7 273.7 0 0 0 366.4 246.6L360.7 237.3M360.7 237.3A284.7 284.7 0 0 1 364.6 234.9L353.5 216M353.5 216A306.6 306.6 0 0 1 355.2 215.1L338.7 186.7M360.7 237.3A284.7 284.7 0 0 0 356.8 239.7L351 230.4M351 230.4A295.6 295.6 0 0 1 353.3 228.9L330.3 191.7M351 230.4A295.6 295.6 0 0 0 348.6 231.9L342.7 222.7M342.7 222.7A306.6 306.6 0 0 1 344.8 221.4L333 202.9M333 202.9A328.5 328.5 0 0 1 334 202.3L328.2 193M333 202.9A328.5 328.5 0 0 0 332 203.5L326.1 194.3M342.7 222.7A306.6 306.6 0 0 0 340.6 224.1L334.6 214.9M334.6 214.9A317.5 317.5 0 0 1 336 214L324.1 195.6M334.6 214.9A317.5 317.5 0 0 0 333.1 215.9L327.1 206.8M327.1 206.8A328.5 328.5 0 0 1 328.1 206.1L322 197M327.1 206.8A328.5 328.5 0 0 0 326.1 207.4L320 198.3M374.7 351.3A186.1 186.1 0 0 0 338.3 405.9L328.3 401.5M328.3 401.5A197.1 197.1 0 0 1 362.6 348.2L305.7 296.9M305.7 296.9A273.7 273.7 0 0 1 320.8 281.5L305.7 265.6M305.7 296.9A273.7 273.7 0 0 0 292 313.4L283.3 306.7M283.3 306.7A284.7 284.7 0 0 1 285.7 303.6L242.8 269.6M283.3 306.7A284.7 284.7 0 0 0 280.9 309.9L272.1 303.4M272.1 303.4A295.6 295.6 0 0 1 275.8 298.5L241.3 271.5M328.3 401.5A197.1 197.1 0 0 0 312.6 463L301.7 462M301.7 462A208 208 0 0 1 311.7 414L301.3 410.5M301.3 410.5A219 219 0 0 1 308.9 391.2L248.9 364.4M248.9 364.4A284.7 284.7 0 0 1 252.3 357.1L232.5 347.7M232.5 347.7A306.6 306.6 0 0 0 230.9 351.2L211 341.9M211 341.9A328.5 328.5 0 0 1 211.5 340.9L201.6 336.2M211 341.9A328.5 328.5 0 0 0 210.5 343L200.6 338.4M248.9 364.4A284.7 284.7 0 0 0 245.7 371.8L235.6 367.6M235.6 367.6A295.6 295.6 0 0 1 237.3 363.6L227.3 359.3M227.3 359.3A306.6 306.6 0 0 0 226 362.3L195.6 349.7M235.6 367.6A295.6 295.6 0 0 0 234 371.7L223.8 367.7M223.8 367.7A306.6 306.6 0 0 1 224.7 365.4L204.4 357.2M204.4 357.2A328.5 328.5 0 0 1 204.8 356.1L194.7 351.9M204.4 357.2A328.5 328.5 0 0 0 204 358.3L193.8 354.2M223.8 367.7A306.6 306.6 0 0 0 222.9 370L212.6 366.1M212.6 366.1A317.5 317.5 0 0 1 213.3 364.5L192.9 356.5M212.6 366.1A317.5 317.5 0 0 0 212 367.7L201.8 363.8M201.8 363.8A328.5 328.5 0 0 1 202.2 362.7L192 358.8M201.8 363.8A328.5 328.5 0 0 0 201.4 364.9L191.1 361.1M301.3 410.5A219 219 0 0 0 295.7 430.5L285 428M285 428A229.9 229.9 0 0 1 290.4 408.9L259.1 398.7M259.1 398.7A262.8 262.8 0 0 1 260.9 393.6L219.5 379.1M219.5 379.1A306.6 306.6 0 0 0 218.5 382L197.8 375M197.8 375A328.5 328.5 0 0 1 198.2 373.9L187.8 370.3M197.8 375A328.5 328.5 0 0 0 197.4 376.1L187 372.6M259.1 398.7A262.8 262.8 0 0 0 257.5 403.8L247 400.7M247 400.7A273.7 273.7 0 0 1 248.7 395.4L186.3 375M247 400.7A273.7 273.7 0 0 0 245.5 406L234.9 403M234.9 403A284.7 284.7 0 0 1 236.7 397.1L215.7 390.7M215.7 390.7A306.6 306.6 0 0 1 216.8 387.3L185.5 377.3M215.7 390.7A306.6 306.6 0 0 0 214.7 394.2L204.2 391.1M204.2 391.1A317.5 317.5 0 0 0 203.4 393.8L192.9 390.9M192.9 390.9A328.5 328.5 0 0 1 193.2 389.7L182.7 386.7M192.9 390.9A328.5 328.5 0 0 0 192.5 392L182 389.1M234.9 403A284.7 284.7 0 0 0 233.3 409L222.7 406.2M222.7 406.2A295.6 295.6 0 0 1 223.6 402.9L181.3 391.4M222.7 406.2A295.6 295.6 0 0 0 221.9 409.6L211.2 407M211.2 407A306.6 306.6 0 0 1 212.1 403.8L201.4 401M201.4 401A317.5 317.5 0 0 1 201.9 399.4L180.7 393.8M201.4 401A317.5 317.5 0 0 0 201 402.7L190.4 400M190.4 400A328.5 328.5 0 0 1 190.7 398.9L180.1 396.2M190.4 400A328.5 328.5 0 0 0 190.1 401.2L179.5 398.5M211.2 407A306.6 306.6 0 0 0 210.5 410.2L199.8 407.7M199.8 407.7A317.5 317.5 0 0 1 200.2 406L178.9 400.9M199.8 407.7A317.5 317.5 0 0 0 199.4 409.4L188.7 407M188.7 407A328.5 328.5 0 0 1 189 405.8L178.3 403.3M188.7 407A328.5 328.5 0 0 0 188.5 408.1L177.8 405.7M285 428A229.9 229.9 0 0 0 281.3 447.6L248.8 442.9M248.8 442.9A262.8 262.8 0 0 1 250.2 434.4L217.8 428.7M217.8 428.7A295.6 295.6 0 0 1 218.7 424.2L207.9 422.1M207.9 422.1A306.6 306.6 0 0 1 208.5 419.4L197.7 417.2M197.7 417.2A317.5 317.5 0 0 0 197.3 419.5L175.8 415.3M207.9 422.1A306.6 306.6 0 0 0 207.4 424.9L185.9 420.9M185.9 420.9A328.5 328.5 0 0 1 186.1 419.7L175.3 417.7M185.9 420.9A328.5 328.5 0 0 0 185.7 422.1L174.9 420.1M217.8 428.7A295.6 295.6 0 0 0 217.1 433.2L195.5 429.7M195.5 429.7A317.5 317.5 0 0 1 195.8 427.4L185 425.6M185 425.6A328.5 328.5 0 0 1 185.2 424.4L174.5 422.5M185 425.6A328.5 328.5 0 0 0 184.8 426.7L174 425M195.5 429.7A317.5 317.5 0 0 0 195.1 431.9L184.3 430.3M184.3 430.3A328.5 328.5 0 0 1 184.5 429.1L173.7 427.4M184.3 430.3A328.5 328.5 0 0 0 184.1 431.4L173.3 429.8M248.8 442.9A262.8 262.8 0 0 0 247.7 451.4L236.8 450.2M236.8 450.2A273.7 273.7 0 0 1 237.7 443.4L226.8 442M226.8 442A284.7 284.7 0 0 1 227.1 440L172.9 432.2M226.8 442A284.7 284.7 0 0 0 226.6 443.9L215.7 442.5M215.7 442.5A295.6 295.6 0 0 1 216 440.6L172.6 434.7M215.7 442.5A295.6 295.6 0 0 0 215.5 444.5L204.6 443.2M204.6 443.2A306.6 306.6 0 0 1 204.8 441.3L172.3 437.1M236.8 450.2A273.7 273.7 0 0 0 236.2 457.1L225.3 456.1M225.3 456.1A284.7 284.7 0 0 1 225.5 453.3L181.9 449.1M181.9 449.1A328.5 328.5 0 0 1 182 447.9L171.2 446.8M181.9 449.1A328.5 328.5 0 0 0 181.8 450.3L170.9 449.3M225.3 456.1A284.7 284.7 0 0 0 225 459L214.1 458.2M214.1 458.2A295.6 295.6 0 0 1 214.3 455.4L170.7 451.7M301.7 462A208 208 0 0 0 303.2 511L270.7 515.9M270.7 515.9A240.9 240.9 0 0 1 268.1 485.1L213.4 486.2M213.4 486.2A295.6 295.6 0 0 1 213.3 479.4L202.3 479.4M202.3 479.4A306.6 306.6 0 0 1 202.4 476.1L191.4 475.9M191.4 475.9A317.5 317.5 0 0 1 191.5 474.2L169.6 473.8M191.4 475.9A317.5 317.5 0 0 0 191.4 477.6L180.5 477.5M180.5 477.5A328.5 328.5 0 0 1 180.5 476.4L169.5 476.2M180.5 477.5A328.5 328.5 0 0 0 180.5 478.7L169.5 478.7M202.3 479.4A306.6 306.6 0 0 0 202.4 482.7L191.4 482.8M191.4 482.8A317.5 317.5 0 0 1 191.4 481.1L169.5 481.1M191.4 482.8A317.5 317.5 0 0 0 191.4 484.5L180.5 484.7M180.5 484.7A328.5 328.5 0 0 1 180.5 483.5L169.5 483.6M180.5 484.7A328.5 328.5 0 0 0 180.5 485.9L169.5 486M213.4 486.2A295.6 295.6 0 0 0 213.6 493L202.6 493.5M202.6 493.5A306.6 306.6 0 0 1 202.5 489.4L191.5 489.7M191.5 489.7A317.5 317.5 0 0 1 191.5 488L169.6 488.5M191.5 489.7A317.5 317.5 0 0 0 191.6 491.4L180.6 491.8M180.6 491.8A328.5 328.5 0 0 1 180.6 490.6L169.7 490.9M180.6 491.8A328.5 328.5 0 0 0 180.7 493L169.8 493.4M202.6 493.5A306.6 306.6 0 0 0 202.8 497.7L191.9 498.3M191.9 498.3A317.5 317.5 0 0 1 191.8 496L180.8 496.5M180.8 496.5A328.5 328.5 0 0 1 180.8 495.3L169.9 495.8M180.8 496.5A328.5 328.5 0 0 0 180.9 497.7L170 498.3M191.9 498.3A317.5 317.5 0 0 0 192 500.6L181.1 501.3M181.1 501.3A328.5 328.5 0 0 1 181 500.1L170.1 500.7M181.1 501.3A328.5 328.5 0 0 0 181.2 502.5L170.3 503.2M270.7 515.9A240.9 240.9 0 0 0 277.2 546L256.1 552M256.1 552A262.8 262.8 0 0 1 251.5 533.1L208.6 541.8M208.6 541.8A306.6 306.6 0 0 0 214 564.2L203.5 567.2M203.5 567.2A317.5 317.5 0 0 0 204.8 571.6L183.8 577.9M256.1 552A262.8 262.8 0 0 0 262.1 570.5L251.8 574.3M251.8 574.3A273.7 273.7 0 0 1 248.2 563.6L227.3 570.2M227.3 570.2A295.6 295.6 0 0 1 226.4 567.3L184.5 580.2M251.8 574.3A273.7 273.7 0 0 0 255.9 584.8L245.8 589M245.8 589A284.7 284.7 0 0 1 244.4 585.4L193.5 605.7M508.9 480.3L502.3 489M502.3 489A10.9 10.9 0 0 1 500.3 487.1L328.1 622.3M328.1 622.3A229.9 229.9 0 0 1 319.4 610.4L283.3 635.2M283.3 635.2A273.7 273.7 0 0 1 278.4 628L260 639.8M260 639.8A295.6 295.6 0 0 1 258.3 637.1L221.2 660.3M260 639.8A295.6 295.6 0 0 0 261.7 642.5L252.6 648.5M252.6 648.5A306.6 306.6 0 0 1 250.8 645.7L232.3 657.5M232.3 657.5A328.5 328.5 0 0 1 231.7 656.5L222.5 662.4M232.3 657.5A328.5 328.5 0 0 0 233 658.5L223.8 664.4M252.6 648.5A306.6 306.6 0 0 0 254.4 651.2L245.3 657.3M245.3 657.3A317.5 317.5 0 0 1 244.1 655.4L234.9 661.5M234.9 661.5A328.5 328.5 0 0 1 234.3 660.5L225.1 666.5M234.9 661.5A328.5 328.5 0 0 0 235.6 662.5L226.5 668.5M245.3 657.3A317.5 317.5 0 0 0 246.6 659.2L237.6 665.4M237.6 665.4A328.5 328.5 0 0 1 236.9 664.4L227.9 670.6M237.6 665.4A328.5 328.5 0 0 0 238.3 666.4L229.2 672.6M283.3 635.2A273.7 273.7 0 0 0 288.3 642.3L279.5 648.8M279.5 648.8A284.7 284.7 0 0 1 276.1 644.1L240.3 669.3M240.3 669.3A328.5 328.5 0 0 1 239.6 668.3L230.6 674.6M240.3 669.3A328.5 328.5 0 0 0 241 670.3L232 676.6M279.5 648.8A284.7 284.7 0 0 0 283 653.4L274.3 660.1M274.3 660.1A295.6 295.6 0 0 1 272.2 657.3L263.4 663.9M263.4 663.9A306.6 306.6 0 0 0 265.4 666.5L239.3 686.5M274.3 660.1A295.6 295.6 0 0 0 276.4 662.8L259.2 676.4M259.2 676.4A317.5 317.5 0 0 1 258.1 675L240.8 688.4M259.2 676.4A317.5 317.5 0 0 0 260.2 677.7L251.7 684.5M251.7 684.5A328.5 328.5 0 0 1 250.9 683.6L242.3 690.4M251.7 684.5A328.5 328.5 0 0 0 252.4 685.5L243.9 692.3M328.1 622.3A229.9 229.9 0 0 0 337.6 633.6L329.4 640.9M329.4 640.9A240.9 240.9 0 0 1 324.5 635.2L282.5 670.4M282.5 670.4A295.6 295.6 0 0 1 280.4 667.8L263.5 681.7M263.5 681.7A317.5 317.5 0 0 1 262.4 680.4L245.4 694.2M263.5 681.7A317.5 317.5 0 0 0 264.6 683.1L256.2 690.1M256.2 690.1A328.5 328.5 0 0 1 255.4 689.1L246.9 696.1M256.2 690.1A328.5 328.5 0 0 0 256.9 691L248.5 698M282.5 670.4A295.6 295.6 0 0 0 284.7 673L276.4 680.1M276.4 680.1A306.6 306.6 0 0 1 275.1 678.6L250.1 699.9M276.4 680.1A306.6 306.6 0 0 0 277.7 681.6L269.4 688.7M269.4 688.7A317.5 317.5 0 0 1 268.3 687.4L251.7 701.7M269.4 688.7A317.5 317.5 0 0 0 270.5 690L262.3 697.3M262.3 697.3A328.5 328.5 0 0 1 261.5 696.4L253.3 703.6M262.3 697.3A328.5 328.5 0 0 0 263.1 698.2L254.9 705.4M329.4 640.9A240.9 240.9 0 0 0 334.5 646.5L326.6 654M326.6 654A251.8 251.8 0 0 1 323.5 650.7L275.1 695.2M275.1 695.2A317.5 317.5 0 0 1 273.6 693.5L265.5 700.8M265.5 700.8A328.5 328.5 0 0 1 264.7 699.9L256.5 707.3M265.5 700.8A328.5 328.5 0 0 0 266.3 701.7L258.2 709.1M275.1 695.2A317.5 317.5 0 0 0 276.7 696.8L268.7 704.3M268.7 704.3A328.5 328.5 0 0 1 267.9 703.4L259.9 710.9M268.7 704.3A328.5 328.5 0 0 0 269.5 705.2L261.5 712.7M326.6 654A251.8 251.8 0 0 0 329.8 657.3L322 665M322 665A262.8 262.8 0 0 1 319.3 662.3L272 707.8M272 707.8A328.5 328.5 0 0 1 271.1 706.9L263.2 714.5M272 707.8A328.5 328.5 0 0 0 272.8 708.6L264.9 716.2M322 665A262.8 262.8 0 0 0 324.7 667.7L317 675.5M317 675.5A273.7 273.7 0 0 1 313.5 672L266.6 718M502.3 489A10.9 10.9 0 0 0 504.8 490.4L500.6 500.6M500.6 500.6A21.9 21.9 0 0 1 498.7 499.7L401.4 683.6M401.4 683.6A229.9 229.9 0 0 1 398.6 682L356.6 758.9M356.6 758.9A317.5 317.5 0 0 1 355.1 758L344.4 777.2M356.6 758.9A317.5 317.5 0 0 0 358.1 759.7L352.9 769.3M352.9 769.3A328.5 328.5 0 0 1 351.8 768.8L346.6 778.4M352.9 769.3A328.5 328.5 0 0 0 353.9 769.9L348.7 779.5M401.4 683.6A229.9 229.9 0 0 0 404.3 685L399.3 694.8M399.3 694.8A240.9 240.9 0 0 1 396.8 693.5L350.9 780.7M399.3 694.8A240.9 240.9 0 0 0 401.9 696.1L397 705.9M397 705.9A251.8 251.8 0 0 1 394.1 704.4L359.2 772.6M359.2 772.6A328.5 328.5 0 0 1 358.1 772.1L353.1 781.8M359.2 772.6A328.5 328.5 0 0 0 360.2 773.2L355.3 782.9M397 705.9A251.8 251.8 0 0 0 400 707.3L395.2 717.2M395.2 717.2A262.8 262.8 0 0 1 391.7 715.5L357.5 784M395.2 717.2A262.8 262.8 0 0 0 398.8 718.9L394.2 728.8M394.2 728.8A273.7 273.7 0 0 1 388.6 726.1L359.7 785.1M394.2 728.8A273.7 273.7 0 0 0 399.9 731.4L395.6 741.4M395.6 741.4A284.7 284.7 0 0 1 388.7 738.3L384.1 748.3M384.1 748.3A295.6 295.6 0 0 1 380.8 746.7L361.9 786.2M384.1 748.3A295.6 295.6 0 0 0 387.4 749.8L382.9 759.8M382.9 759.8A306.6 306.6 0 0 0 385.7 761L381.3 771M381.3 771A317.5 317.5 0 0 1 379.7 770.3L370.8 790.3M381.3 771A317.5 317.5 0 0 0 382.8 771.7L378.5 781.8M378.5 781.8A328.5 328.5 0 0 1 377.4 781.3L373 791.3M378.5 781.8A328.5 328.5 0 0 0 379.6 782.2L375.3 792.3M395.6 741.4A284.7 284.7 0 0 0 402.5 744.3L394.3 764.6M394.3 764.6A306.6 306.6 0 0 1 391.3 763.4L382.9 783.6M382.9 783.6A328.5 328.5 0 0 1 381.8 783.2L377.5 793.2M382.9 783.6A328.5 328.5 0 0 0 384 784.1L379.8 794.2M394.3 764.6A306.6 306.6 0 0 0 397.4 765.9L393.5 776.1M393.5 776.1A317.5 317.5 0 0 1 391.3 775.2L387.3 785.4M387.3 785.4A328.5 328.5 0 0 1 386.2 785L382.1 795.1M387.3 785.4A328.5 328.5 0 0 0 388.4 785.8L384.3 796M393.5 776.1A317.5 317.5 0 0 0 395.6 776.9L391.7 787.1M391.7 787.1A328.5 328.5 0 0 1 390.6 786.7L386.6 796.9M391.7 787.1A328.5 328.5 0 0 0 392.8 787.5L388.9 797.8M500.6 500.6A21.9 21.9 0 0 0 502.7 501.3L499.6 511.8M499.6 511.8A32.8 32.8 0 0 1 497.8 511.2L412.4 748.1M412.4 748.1A284.7 284.7 0 0 1 410.2 747.3L391.2 798.6M499.6 511.8A32.8 32.8 0 0 0 501.5 512.3L499 523M499 523A43.8 43.8 0 0 1 496.9 522.4L422.3 785.8M422.3 785.8A317.5 317.5 0 0 1 420.6 785.3L414.5 806.3M422.3 785.8A317.5 317.5 0 0 0 423.9 786.2L421 796.8M421 796.8A328.5 328.5 0 0 1 419.8 796.4L416.9 807M421 796.8A328.5 328.5 0 0 0 422.1 797.1L419.2 807.6M499 523A43.8 43.8 0 0 0 501.1 523.4L499.2 534.2M499.2 534.2A54.7 54.7 0 0 1 495.1 533.3L428.9 787.6M428.9 787.6A317.5 317.5 0 0 1 427.2 787.1L421.6 808.3M428.9 787.6A317.5 317.5 0 0 0 430.6 788L427.9 798.6M427.9 798.6A328.5 328.5 0 0 1 426.7 798.3L424 808.9M427.9 798.6A328.5 328.5 0 0 0 429 798.9L426.4 809.5M499.2 534.2A54.7 54.7 0 0 0 503.3 534.8L502.1 545.6M502.1 545.6A65.7 65.7 0 0 1 496 544.7L459.6 727.2M459.6 727.2A251.8 251.8 0 0 1 450.8 725.3L435.6 789.2M435.6 789.2A317.5 317.5 0 0 1 433.9 788.8L428.7 810.1M435.6 789.2A317.5 317.5 0 0 0 437.3 789.6L434.8 800.3M434.8 800.3A328.5 328.5 0 0 1 433.6 800L431.1 810.7M434.8 800.3A328.5 328.5 0 0 0 435.9 800.5L433.5 811.2M459.6 727.2A251.8 251.8 0 0 0 468.4 728.8L466.7 739.6M466.7 739.6A262.8 262.8 0 0 1 455.2 737.5L448.5 769.7M448.5 769.7A295.6 295.6 0 0 1 445.3 769L435.9 811.8M448.5 769.7A295.6 295.6 0 0 0 451.6 770.3L449.5 781M449.5 781A306.6 306.6 0 0 1 446.2 780.4L441.7 801.8M441.7 801.8A328.5 328.5 0 0 1 440.6 801.6L438.3 812.3M441.7 801.8A328.5 328.5 0 0 0 442.9 802.1L440.7 812.8M449.5 781A306.6 306.6 0 0 0 452.7 781.7L450.7 792.4M450.7 792.4A317.5 317.5 0 0 1 448.5 792L446.4 802.8M446.4 802.8A328.5 328.5 0 0 1 445.2 802.5L443.1 813.3M446.4 802.8A328.5 328.5 0 0 0 447.6 803L445.5 813.7M450.7 792.4A317.5 317.5 0 0 0 453 792.8L451.1 803.6M451.1 803.6A328.5 328.5 0 0 1 449.9 803.4L447.9 814.2M451.1 803.6A328.5 328.5 0 0 0 452.2 803.8L450.3 814.6M466.7 739.6A262.8 262.8 0 0 0 478.2 741.3L477 752.1M477 752.1A273.7 273.7 0 0 1 466.9 750.8L465.2 761.6M465.2 761.6A284.7 284.7 0 0 1 461.8 761L452.8 815M465.2 761.6A284.7 284.7 0 0 0 468.7 762.1L467.1 772.9M467.1 772.9A295.6 295.6 0 0 1 462.1 772.2L455.2 815.4M467.1 772.9A295.6 295.6 0 0 0 472.2 773.6L470.8 784.5M470.8 784.5A306.6 306.6 0 0 0 475.8 785.1L472.2 817.7M477 752.1A273.7 273.7 0 0 0 487.1 753.1L485.3 775M485.3 775A295.6 295.6 0 0 1 481.2 774.6L479.1 796.4M479.1 796.4A317.5 317.5 0 0 1 476.9 796.2L474.6 818M485.3 775A295.6 295.6 0 0 0 489.4 775.3L488.7 786.2M488.7 786.2A306.6 306.6 0 0 1 486.8 786.1L484.4 818.8M488.7 786.2A306.6 306.6 0 0 0 490.7 786.3L490 797.2M490 797.2A317.5 317.5 0 0 1 488.3 797.1L486.9 819M490 797.2A317.5 317.5 0 0 0 491.7 797.3L491.1 808.3M491.1 808.3A328.5 328.5 0 0 1 489.9 808.2L489.3 819.1M491.1 808.3A328.5 328.5 0 0 0 492.3 808.3L491.8 819.3M502.1 545.6A65.7 65.7 0 0 0 508.3 546L508.2 556.9M508.2 556.9A76.6 76.6 0 0 1 506 556.9L496.9 797.6M496.9 797.6A317.5 317.5 0 0 1 495.2 797.5L494.2 819.4M496.9 797.6A317.5 317.5 0 0 0 498.6 797.6L498.2 808.6M498.2 808.6A328.5 328.5 0 0 1 497.1 808.5L496.7 819.5M498.2 808.6A328.5 328.5 0 0 0 499.4 808.6L499.1 819.6M508.2 556.9A76.6 76.6 0 0 0 510.4 556.9L510.6 567.9M510.6 567.9A87.6 87.6 0 0 1 507.3 567.9L503 808.7M503 808.7A328.5 328.5 0 0 1 501.8 808.7L501.6 819.6M503 808.7A328.5 328.5 0 0 0 504.2 808.7L504 819.7M510.6 567.9A87.6 87.6 0 0 0 513.9 567.7L514.5 578.7M514.5 578.7A98.5 98.5 0 0 1 508.2 578.8L506.5 819.7M514.5 578.7A98.5 98.5 0 0 0 520.8 578.1L522.2 589M522.2 589A109.5 109.5 0 0 1 509.3 589.8L510.1 808.7M510.1 808.7A328.5 328.5 0 0 1 508.9 808.8L508.9 819.7M510.1 808.7A328.5 328.5 0 0 0 511.3 808.7L511.4 819.7M522.2 589A109.5 109.5 0 0 0 534.9 586.7L537.5 597.3M537.5 597.3A120.4 120.4 0 0 1 518.2 600.4L531 764.1M537.5 597.3A120.4 120.4 0 0 0 555.9 591.2L560.2 601.2M560.2 601.2A131.4 131.4 0 0 1 541.1 607.7L567.9 713.8M567.9 713.8A240.9 240.9 0 0 1 561.6 715.3L578.4 790.1M578.4 790.1A317.5 317.5 0 0 1 576.1 790.6L578.4 801.3M578.4 801.3A328.5 328.5 0 0 1 577.3 801.6L579.5 812.3M578.4 801.3A328.5 328.5 0 0 0 579.6 801.1L581.9 811.7M578.4 790.1A317.5 317.5 0 0 0 580.6 789.6L583.1 800.3M583.1 800.3A328.5 328.5 0 0 1 581.9 800.5L584.3 811.2M583.1 800.3A328.5 328.5 0 0 0 584.2 800L586.7 810.7M567.9 713.8A240.9 240.9 0 0 0 574.1 712.2L586 754.3M586 754.3A284.7 284.7 0 0 1 579.2 756.1L587.3 788M587.3 788A317.5 317.5 0 0 1 585.1 788.5L587.7 799.2M587.7 799.2A328.5 328.5 0 0 1 586.5 799.4L589.1 810.1M587.7 799.2A328.5 328.5 0 0 0 588.8 798.9L591.5 809.5M587.3 788A317.5 317.5 0 0 0 589.5 787.4L592.3 798M592.3 798A328.5 328.5 0 0 1 591.1 798.3L593.9 808.9M592.3 798A328.5 328.5 0 0 0 593.4 797.7L596.2 808.3M586 754.3A284.7 284.7 0 0 0 592.8 752.3L596 762.8M596 762.8A295.6 295.6 0 0 1 588.1 765.1L596.9 796.8M596.9 796.8A328.5 328.5 0 0 1 595.7 797.1L598.6 807.6M596.9 796.8A328.5 328.5 0 0 0 598 796.4L601 807M596 762.8A295.6 295.6 0 0 0 603.9 760.2L607.4 770.6M560.2 601.2A131.4 131.4 0 0 0 578.2 591.9L583.9 601.2M583.9 601.2A142.3 142.3 0 0 1 569 609.3L642.9 768.2M642.9 768.2A317.5 317.5 0 0 1 640.3 769.4L649.3 789.3M583.9 601.2A142.3 142.3 0 0 0 597.8 591.4L604.7 600M604.7 600A153.3 153.3 0 0 1 580.3 615.9L631.3 712.8M631.3 712.8A262.8 262.8 0 0 1 627.5 714.8L652.1 763.7M652.1 763.7A317.5 317.5 0 0 1 650.6 764.4L660.4 784M652.1 763.7A317.5 317.5 0 0 0 653.7 762.9L658.7 772.6M658.7 772.6A328.5 328.5 0 0 1 657.6 773.2L662.6 782.9M658.7 772.6A328.5 328.5 0 0 0 659.7 772.1L664.8 781.8M631.3 712.8A262.8 262.8 0 0 0 635.1 710.8L640.3 720.4M640.3 720.4A273.7 273.7 0 0 1 637.2 722.1L662.9 770.4M662.9 770.4A328.5 328.5 0 0 1 661.8 771L666.9 780.7M662.9 770.4A328.5 328.5 0 0 0 663.9 769.9L669.1 779.5M640.3 720.4A273.7 273.7 0 0 0 643.4 718.7L648.8 728.2M648.8 728.2A284.7 284.7 0 0 1 645.1 730.3L671.3 778.3M648.8 728.2A284.7 284.7 0 0 0 652.5 726.1L658 735.6M658 735.6A295.6 295.6 0 0 1 653.1 738.3L669.1 767M669.1 767A328.5 328.5 0 0 1 668.1 767.6L673.4 777.2M669.1 767A328.5 328.5 0 0 0 670.2 766.4L675.5 776M658 735.6A295.6 295.6 0 0 0 662.8 732.7L668.5 742M604.7 600A153.3 153.3 0 0 0 625.6 579.7L633.9 586.8M633.9 586.8A164.2 164.2 0 0 1 609.7 610L623.1 627.2M623.1 627.2A186.1 186.1 0 0 1 616.1 632.5L685.4 730.9M685.4 730.9A306.6 306.6 0 0 1 683.8 732.1L702.6 759M685.4 730.9A306.6 306.6 0 0 0 687 729.8L693.3 738.7M693.3 738.7A317.5 317.5 0 0 1 691.9 739.7L704.6 757.6M693.3 738.7A317.5 317.5 0 0 0 694.7 737.7L701.2 746.6M701.2 746.6A328.5 328.5 0 0 1 700.2 747.3L706.6 756.2M701.2 746.6A328.5 328.5 0 0 0 702.1 745.9L708.6 754.8M623.1 627.2A186.1 186.1 0 0 0 629.9 621.7L651.3 646.6M651.3 646.6A219 219 0 0 1 640.8 655.1L654 672.5M654 672.5A240.9 240.9 0 0 1 652 674.1L710.5 753.3M654 672.5A240.9 240.9 0 0 0 656 671L662.7 679.7M662.7 679.7A251.8 251.8 0 0 1 660 681.8L712.5 751.9M662.7 679.7A251.8 251.8 0 0 0 665.4 677.5L672.2 686.1M672.2 686.1A262.8 262.8 0 0 1 668 689.4L714.5 750.4M672.2 686.1A262.8 262.8 0 0 0 676.4 682.8L683.4 691.2M683.4 691.2A273.7 273.7 0 0 0 688.1 687.2L695.2 695.5M695.2 695.5A284.7 284.7 0 0 1 693.3 697.1L721.7 730.5M721.7 730.5A328.5 328.5 0 0 1 720.8 731.3L727.9 739.6M721.7 730.5A328.5 328.5 0 0 0 722.6 729.7L729.7 738M695.2 695.5A284.7 284.7 0 0 0 697.1 693.9L704.4 702.1M704.4 702.1A295.6 295.6 0 0 1 702.8 703.4L731.6 736.4M704.4 702.1A295.6 295.6 0 0 0 705.8 700.7L713.1 708.9M713.1 708.9A306.6 306.6 0 0 1 711.7 710.2L733.4 734.8M713.1 708.9A306.6 306.6 0 0 0 714.6 707.6L721.9 715.7M721.9 715.7A317.5 317.5 0 0 1 720.7 716.9L735.3 733.2M721.9 715.7A317.5 317.5 0 0 0 723.2 714.6L730.6 722.6M730.6 722.6A328.5 328.5 0 0 1 729.7 723.4L737.1 731.6M730.6 722.6A328.5 328.5 0 0 0 731.5 721.8L738.9 729.9M651.3 646.6A219 219 0 0 0 661.2 637.6L668.9 645.4M668.9 645.4A229.9 229.9 0 0 1 665.9 648.3L740.7 728.2M668.9 645.4A229.9 229.9 0 0 0 671.8 642.6L679.5 650.3M679.5 650.3A240.9 240.9 0 0 1 674.7 655.1L742.5 726.5M679.5 650.3A240.9 240.9 0 0 0 684.2 645.4L692.2 652.9M692.2 652.9A251.8 251.8 0 0 1 684.8 660.5L707.7 684M707.7 684A284.7 284.7 0 0 1 706.3 685.4L744.2 724.9M707.7 684A284.7 284.7 0 0 0 709.1 682.6L716.8 690.4M716.8 690.4A295.6 295.6 0 0 1 715.4 691.8L746 723.1M716.8 690.4A295.6 295.6 0 0 0 718.3 689L726 696.7M726 696.7A306.6 306.6 0 0 1 724.6 698.1L747.8 721.4M726 696.7A306.6 306.6 0 0 0 727.4 695.3L735.2 703M735.2 703A317.5 317.5 0 0 1 734 704.2L749.5 719.7M735.2 703A317.5 317.5 0 0 0 736.4 701.8L744.2 709.4M744.2 709.4A328.5 328.5 0 0 1 743.4 710.3L751.2 717.9M744.2 709.4A328.5 328.5 0 0 0 745.1 708.6L752.9 716.2M692.2 652.9A251.8 251.8 0 0 0 699.3 645.1L707.6 652.2M707.6 652.2A262.8 262.8 0 0 0 714.2 644.3L722.7 651.2M722.7 651.2A273.7 273.7 0 0 1 719.9 654.7L728.3 661.7M728.3 661.7A284.7 284.7 0 0 1 726 664.4L734.3 671.5M734.3 671.5A295.6 295.6 0 0 0 737.1 668.2L770.9 696.1M728.3 661.7A284.7 284.7 0 0 0 730.6 658.9L764.7 686.3M764.7 686.3A328.5 328.5 0 0 1 763.9 687.3L772.4 694.2M764.7 686.3A328.5 328.5 0 0 0 765.4 685.4L774 692.3M722.7 651.2A273.7 273.7 0 0 0 725.5 647.6L742.8 661M742.8 661A295.6 295.6 0 0 1 741.1 663.2L775.5 690.3M742.8 661A295.6 295.6 0 0 0 744.5 658.8L753.3 665.4M753.3 665.4A306.6 306.6 0 0 1 751.7 667.4L769.1 680.7M769.1 680.7A328.5 328.5 0 0 1 768.4 681.7L777 688.4M769.1 680.7A328.5 328.5 0 0 0 769.8 679.8L778.5 686.5M753.3 665.4A306.6 306.6 0 0 0 754.8 663.4L763.5 669.9M763.5 669.9A317.5 317.5 0 0 1 762.5 671.3L780 684.5M763.5 669.9A317.5 317.5 0 0 0 764.6 668.6L773.4 675.1M773.4 675.1A328.5 328.5 0 0 1 772.7 676L781.5 682.5M773.4 675.1A328.5 328.5 0 0 0 774.1 674.1L782.9 680.6M633.9 586.8A164.2 164.2 0 0 0 653 559.1L749 611.7M749 611.7A273.7 273.7 0 0 0 760.1 588.9L770.2 593.3M770.2 593.3A284.7 284.7 0 0 0 775.3 580.7L785.5 584.6" stroke="#000"/><path d="M802.1 442.3A295.6 295.6 0 0 1 802.9 449.1L813.7 448M813.7 448A306.6 306.6 0 0 1 814.2 452.6L836 450.7M836 450.7A328.5 328.5 0 0 1 836.1 451.8L847 450.9M836 450.7A328.5 328.5 0 0 0 835.9 449.5L846.8 448.5M813.7 448A306.6 306.6 0 0 0 813.2 443.3L824.1 442M824.1 442A317.5 317.5 0 0 1 824.5 445.9L835.4 444.8M835.4 444.8A328.5 328.5 0 0 1 835.7 447.1L846.6 446M835.4 444.8L846.3 443.6M835.4 444.8A328.5 328.5 0 0 0 835.2 442.4L846 441.1M824.1 442A317.5 317.5 0 0 0 823.6 438L834.4 436.5M834.4 436.5A328.5 328.5 0 0 1 834.9 440L845.7 438.7M834.4 436.5A328.5 328.5 0 0 1 834.6 437.7L845.4 436.3M834.4 436.5A328.5 328.5 0 0 0 834.3 435.3L845.1 433.8M834.4 436.5A328.5 328.5 0 0 0 833.9 433L844.8 431.4" stroke="#1f44d8"/><path d="M807.6 411.4A306.6 306.6 0 0 1 808.4 414.9L819.1 412.6M819.1 412.6A317.5 317.5 0 0 1 819.7 415.4L830.4 413.1M830.4 413.1A328.5 328.5 0 0 1 830.6 414.3L841.4 412.1M830.4 413.1A328.5 328.5 0 0 0 830.2 412L840.9 409.7M819.1 412.6A317.5 317.5 0 0 0 818.5 409.8L829.1 407.3M829.1 407.3A328.5 328.5 0 0 1 829.7 409.6L840.4 407.3M829.1 407.3L839.8 404.9M829.1 407.3A328.5 328.5 0 0 0 828.6 405L839.3 402.5" stroke="#2266e0"/><path d="M791.7 394.1A295.6 295.6 0 0 0 791.1 392.2L801.5 388.9M801.5 388.9A306.6 306.6 0 0 1 802.1 390.8L833.5 381.2M801.5 388.9A306.6 306.6 0 0 0 800.9 387.1L811.4 383.7M811.4 383.7A317.5 317.5 0 0 1 811.9 385.4L832.8 378.8M811.4 383.7A317.5 317.5 0 0 0 810.8 382.1L821.3 378.7M821.3 378.7A328.5 328.5 0 0 1 821.6 379.9L832 376.5M821.3 378.7A328.5 328.5 0 0 0 820.9 377.6L831.3 374.2" stroke="#d4aa18"/><path d="M786.2 377.8A295.6 295.6 0 0 1 788.3 383.8L798.7 380.2M798.7 380.2A306.6 306.6 0 0 1 799.4 382.3L830.5 371.8M798.7 380.2A306.6 306.6 0 0 0 797.9 378.2L808.3 374.5M808.3 374.5A317.5 317.5 0 0 1 809 376.7L829.7 369.5M808.3 374.5A317.5 317.5 0 0 0 807.5 372.3L817.8 368.6M817.8 368.6A328.5 328.5 0 0 1 818.6 370.9L828.9 367.2M817.8 368.6L828.1 364.9M817.8 368.6A328.5 328.5 0 0 0 817 366.4L827.2 362.6M467.7 176.5A306.6 306.6 0 0 0 465.5 176.8L463.9 166M463.9 166A317.5 317.5 0 0 1 466.2 165.7L463.2 144M463.9 166A317.5 317.5 0 0 0 461.6 166.3L460 155.5M460 155.5A328.5 328.5 0 0 1 462.4 155.2L460.8 144.3M460 155.5L458.4 144.7M460 155.5A328.5 328.5 0 0 0 457.7 155.9L456 145.1" stroke="#77cc22"/><path d="M786.2 377.8A295.6 295.6 0 0 0 783.9 371.8L804.2 363.8M804.2 363.8A317.5 317.5 0 0 1 805.5 367L815.7 363.1M815.7 363.1A328.5 328.5 0 0 1 816.1 364.2L826.4 360.3M815.7 363.1A328.5 328.5 0 0 0 815.3 362L825.5 358M804.2 363.8A317.5 317.5 0 0 0 803 360.6L813.1 356.4M813.1 356.4A328.5 328.5 0 0 1 814.4 359.7L824.6 355.7M813.1 356.4A328.5 328.5 0 0 1 813.5 357.5L823.7 353.4M813.1 356.4A328.5 328.5 0 0 0 812.7 355.3L822.8 351.2M813.1 356.4A328.5 328.5 0 0 0 811.7 353.1L821.8 348.9" stroke="#dd2255"/><path d="M743.9 319.7A284.7 284.7 0 0 1 748 325.8L766.4 313.9M766.4 313.9A306.6 306.6 0 0 1 768 316.5L795.8 298.9M766.4 313.9A306.6 306.6 0 0 0 764.7 311.4L773.8 305.3M773.8 305.3A317.5 317.5 0 0 1 775.4 307.7L784.6 301.8M784.6 301.8A328.5 328.5 0 0 1 785.2 302.8L794.5 296.9M784.6 301.8A328.5 328.5 0 0 0 784 300.8L793.1 294.8M773.8 305.3A317.5 317.5 0 0 0 772.3 302.9L781.3 296.8M781.3 296.8A328.5 328.5 0 0 1 782.7 298.8L791.8 292.8M781.3 296.8L790.4 290.7M781.3 296.8A328.5 328.5 0 0 0 780 294.9L789 288.7" stroke="#5522dd"/><path d="M754.2 296.4A306.6 306.6 0 0 1 757.8 301.3L766.7 294.9M766.7 294.9A317.5 317.5 0 0 1 768.3 297.3L786.2 284.7M766.7 294.9A317.5 317.5 0 0 0 765 292.6L773.8 286.2M773.8 286.2A328.5 328.5 0 0 1 775.9 289L784.8 282.7M773.8 286.2A328.5 328.5 0 0 1 774.5 287.1L783.4 280.7M773.8 286.2A328.5 328.5 0 0 0 773.1 285.2L781.9 278.7M773.8 286.2A328.5 328.5 0 0 0 771.7 283.3L780.5 276.7M227.3 359.3A306.6 306.6 0 0 1 228.6 356.2L218.6 351.8M218.6 351.8A317.5 317.5 0 0 1 219.5 349.7L199.5 340.7M218.6 351.8A317.5 317.5 0 0 0 217.6 353.9L207.6 349.5M207.6 349.5A328.5 328.5 0 0 1 208.6 347.3L198.5 342.9M207.6 349.5L197.6 345.2M207.6 349.5A328.5 328.5 0 0 0 206.7 351.7L196.6 347.4M668.5 742A306.6 306.6 0 0 1 663.3 745.2L668.8 754.6M668.8 754.6A317.5 317.5 0 0 1 666.8 755.8L677.7 774.8M668.8 754.6A317.5 317.5 0 0 0 670.8 753.4L676.3 762.9M676.3 762.9A328.5 328.5 0 0 1 674.3 764.1L679.8 773.5M676.3 762.9L681.9 772.3M676.3 762.9A328.5 328.5 0 0 0 678.4 761.7L684 771" stroke="#33cc22"/><path d="M754.2 296.4A306.6 306.6 0 0 0 750.5 291.6L759.1 284.8M759.1 284.8A317.5 317.5 0 0 1 760.9 287.1L769.6 280.5M769.6 280.5A328.5 328.5 0 0 1 770.3 281.4L779 274.8M769.6 280.5A328.5 328.5 0 0 0 768.8 279.5L777.5 272.8M759.1 284.8A317.5 317.5 0 0 0 757.3 282.6L765.9 275.8M765.9 275.8A328.5 328.5 0 0 1 767.4 277.6L776 270.9M765.9 275.8L774.5 269M765.9 275.8A328.5 328.5 0 0 0 764.4 273.9L772.9 267" stroke="#4422dd"/><path d="M722.8 276.3A295.6 295.6 0 0 0 720.8 274.2L728.6 266.6M728.6 266.6A306.6 306.6 0 0 1 731.3 269.4L755.2 246.7M728.6 266.6A306.6 306.6 0 0 0 725.9 263.8L733.7 256.1M733.7 256.1A317.5 317.5 0 0 1 736.9 259.3L744.8 251.7M744.8 251.7A328.5 328.5 0 0 1 745.6 252.6L753.5 245M744.8 251.7A328.5 328.5 0 0 0 743.9 250.9L751.8 243.2M733.7 256.1A317.5 317.5 0 0 0 730.4 252.8L738 245M738 245A328.5 328.5 0 0 1 742.3 249.2L750 241.5M738 245A328.5 328.5 0 0 1 740.6 247.5L748.3 239.7M738 245A328.5 328.5 0 0 1 738.9 245.8L746.6 238M738 245A328.5 328.5 0 0 0 737.2 244.2L744.8 236.3M738 245A328.5 328.5 0 0 0 735.5 242.5L743 234.6M738 245A328.5 328.5 0 0 0 733.8 240.9L741.3 232.9" stroke="#2a2ae0"/><path d="M702.1 242.3A306.6 306.6 0 0 1 706.4 245.8L713.4 237.4M713.4 237.4A317.5 317.5 0 0 1 716 239.7L730.3 223.1M713.4 237.4A317.5 317.5 0 0 0 710.8 235.2L717.7 226.8M717.7 226.8A328.5 328.5 0 0 1 721.4 229.8L728.4 221.5M717.7 226.8A328.5 328.5 0 0 1 719.5 228.3L726.6 219.9M717.7 226.8L724.7 218.3M717.7 226.8A328.5 328.5 0 0 0 715.9 225.3L722.8 216.8M717.7 226.8A328.5 328.5 0 0 0 714 223.8L720.9 215.2" stroke="#e022aa"/><path d="M623.2 255.9A251.8 251.8 0 0 1 659.6 278.5L679.2 252.2M679.2 252.2A284.7 284.7 0 0 1 681.8 254.2L715.1 210.7M679.2 252.2A284.7 284.7 0 0 0 676.6 250.3L683 241.4M683 241.4A295.6 295.6 0 0 1 686.8 244.2L713.1 209.2M683 241.4A295.6 295.6 0 0 0 679.2 238.7L685.5 229.7M685.5 229.7A306.6 306.6 0 0 1 691.6 234.1L711.2 207.7M685.5 229.7A306.6 306.6 0 0 0 679.4 225.5L685.4 216.4M685.4 216.4A317.5 317.5 0 0 1 695.3 223.3L701.8 214.4M701.8 214.4A328.5 328.5 0 0 1 702.7 215.1L709.2 206.3M701.8 214.4A328.5 328.5 0 0 0 700.8 213.7L707.2 204.9M685.4 216.4A317.5 317.5 0 0 0 675.3 209.9L681 200.6M681 200.6A328.5 328.5 0 0 1 698.9 212.4L705.2 203.4M681 200.6A328.5 328.5 0 0 1 696.9 211L703.2 202M681 200.6A328.5 328.5 0 0 1 695 209.6L701.2 200.6M681 200.6A328.5 328.5 0 0 1 693 208.3L699.2 199.2M681 200.6A328.5 328.5 0 0 1 691 207L697.1 197.9M681 200.6A328.5 328.5 0 0 1 689.1 205.7L695.1 196.5M681 200.6A328.5 328.5 0 0 1 687.1 204.4L693 195.2M681 200.6A328.5 328.5 0 0 1 685.1 203.1L690.9 193.9M681 200.6A328.5 328.5 0 0 1 683.1 201.8L688.9 192.5M681 200.6L686.8 191.3M681 200.6A328.5 328.5 0 0 0 679 199.3L684.7 190M681 200.6A328.5 328.5 0 0 0 677 198.1L682.6 188.7M681 200.6A328.5 328.5 0 0 0 674.9 196.9L680.5 187.5M681 200.6A328.5 328.5 0 0 0 672.9 195.7L678.4 186.2M681 200.6A328.5 328.5 0 0 0 670.8 194.5L676.2 185M681 200.6A328.5 328.5 0 0 0 668.8 193.4L674.1 183.8M681 200.6A328.5 328.5 0 0 0 666.7 192.2L671.9 182.6M681 200.6A328.5 328.5 0 0 0 664.6 191.1L669.8 181.5M681 200.6A328.5 328.5 0 0 0 662.5 190L667.6 180.3" stroke="#e0531f"/><path d="M637.7 214.2A295.6 295.6 0 0 1 642.9 216.8L652.8 197.3M652.8 197.3A317.5 317.5 0 0 1 655.4 198.6L665.5 179.2M652.8 197.3A317.5 317.5 0 0 0 650.2 196L655.1 186.2M655.1 186.2A328.5 328.5 0 0 1 658.3 187.8L663.3 178M655.1 186.2A328.5 328.5 0 0 1 656.2 186.7L661.1 176.9M655.1 186.2A328.5 328.5 0 0 0 654 185.7L658.9 175.8M655.1 186.2A328.5 328.5 0 0 0 651.9 184.6L656.7 174.8" stroke="#2233dd"/><path d="M637.7 214.2A295.6 295.6 0 0 0 632.5 211.8L637.1 201.8M637.1 201.8A306.6 306.6 0 0 1 640.4 203.4L654.5 173.7M637.1 201.8A306.6 306.6 0 0 0 633.8 200.4L638.3 190.4M638.3 190.4A317.5 317.5 0 0 1 642 192L646.5 182.1M646.5 182.1A328.5 328.5 0 0 1 647.6 182.6L652.2 172.7M646.5 182.1A328.5 328.5 0 0 0 645.5 181.6L650 171.6M638.3 190.4A317.5 317.5 0 0 0 634.6 188.7L639 178.7M639 178.7A328.5 328.5 0 0 1 643.3 180.6L647.8 170.6M639 178.7A328.5 328.5 0 0 1 641.1 179.6L645.5 169.6M639 178.7L643.3 168.6M639 178.7A328.5 328.5 0 0 0 636.8 177.8L641 167.7M639 178.7A328.5 328.5 0 0 0 634.6 176.8L638.8 166.7" stroke="#22aadd"/><path d="M607.8 190.1A306.6 306.6 0 0 1 610.2 191L613.8 180.6M613.8 180.6A317.5 317.5 0 0 1 615.4 181.2L622.8 160.6M613.8 180.6A317.5 317.5 0 0 0 612.2 180.1L615.7 169.7M615.7 169.7A328.5 328.5 0 0 1 616.8 170.1L620.4 159.8M615.7 169.7A328.5 328.5 0 0 0 614.6 169.3L618.1 159" stroke="#e0672a"/><path d="M601 187.9A306.6 306.6 0 0 0 598.6 187.2L601.8 176.7M601.8 176.7A317.5 317.5 0 0 1 604.5 177.5L611.1 156.7M601.8 176.7A317.5 317.5 0 0 0 599 175.9L602.2 165.4M602.2 165.4A328.5 328.5 0 0 1 605.6 166.4L608.8 155.9M602.2 165.4A328.5 328.5 0 0 1 603.3 165.7L606.4 155.2M602.2 165.4A328.5 328.5 0 0 0 601 165L604.1 154.5M602.2 165.4A328.5 328.5 0 0 0 598.7 164.4L601.7 153.8" stroke="#33cc33"/><path d="M570.7 213.6A273.7 273.7 0 0 1 579.7 215.9L588.2 184.2M588.2 184.2A306.6 306.6 0 0 1 590.6 184.8L599.4 153.2M588.2 184.2A306.6 306.6 0 0 0 585.8 183.5L588.5 172.9M588.5 172.9A317.5 317.5 0 0 1 591.3 173.7L597 152.5M588.5 172.9A317.5 317.5 0 0 0 585.8 172.2L588.4 161.6M588.4 161.6A328.5 328.5 0 0 1 591.9 162.5L594.6 151.9M588.4 161.6A328.5 328.5 0 0 1 589.6 161.9L592.3 151.3M588.4 161.6A328.5 328.5 0 0 0 587.3 161.3L589.9 150.7M588.4 161.6A328.5 328.5 0 0 0 585 160.8L587.5 150.1" stroke="#7a2ae0"/><path d="M570.7 213.6A273.7 273.7 0 0 0 561.5 211.7L563.6 201M563.6 201A284.7 284.7 0 0 1 570.8 202.5L580.3 159.7M580.3 159.7A328.5 328.5 0 0 1 582.6 160.2L585.1 149.6M580.3 159.7L582.7 149M580.3 159.7A328.5 328.5 0 0 0 578 159.2L580.3 148.5M563.6 201A284.7 284.7 0 0 0 556.4 199.6L558.2 188.8M558.2 188.8A295.6 295.6 0 0 1 566.9 190.4L573.4 158.2M573.4 158.2A328.5 328.5 0 0 1 575.7 158.7L577.9 148M573.4 158.2L575.5 147.5M573.4 158.2A328.5 328.5 0 0 0 571 157.8L573.1 147M558.2 188.8A295.6 295.6 0 0 0 549.5 187.5L551 176.7M551 176.7A306.6 306.6 0 0 1 562.5 178.5L566.4 156.9M566.4 156.9A328.5 328.5 0 0 1 568.7 157.3L570.7 146.6M566.4 156.9L568.3 146.1M566.4 156.9A328.5 328.5 0 0 0 564 156.5L565.9 145.7M551 176.7A306.6 306.6 0 0 0 539.5 175.3L540.6 164.4M540.6 164.4A317.5 317.5 0 0 1 557.7 166.6L559.3 155.7M559.3 155.7A328.5 328.5 0 0 1 561.7 156.1L563.4 145.3M559.3 155.7L561 144.9M559.3 155.7A328.5 328.5 0 0 0 557 155.4L558.6 144.6M540.6 164.4A317.5 317.5 0 0 0 523.4 163.1L523.9 152.2M523.9 152.2A328.5 328.5 0 0 1 554.6 155L556.2 144.2M523.9 152.2A328.5 328.5 0 0 1 552.3 154.7L553.7 143.9M523.9 152.2A328.5 328.5 0 0 1 549.9 154.4L551.3 143.6M523.9 152.2A328.5 328.5 0 0 1 547.6 154.1L548.9 143.3M523.9 152.2A328.5 328.5 0 0 1 545.2 153.9L546.4 143M523.9 152.2A328.5 328.5 0 0 1 542.9 153.6L544 142.7M523.9 152.2A328.5 328.5 0 0 1 540.5 153.4L541.5 142.5M523.9 152.2A328.5 328.5 0 0 1 538.1 153.2L539.1 142.2M523.9 152.2A328.5 328.5 0 0 1 535.8 152.9L536.7 142M523.9 152.2A328.5 328.5 0 0 1 533.4 152.8L534.2 141.8M523.9 152.2A328.5 328.5 0 0 1 531 152.6L531.8 141.7M523.9 152.2A328.5 328.5 0 0 1 528.7 152.4L529.3 141.5M523.9 152.2A328.5 328.5 0 0 1 526.3 152.3L526.9 141.4M523.9 152.2L524.4 141.3M523.9 152.2A328.5 328.5 0 0 0 521.5 152.1L522 141.2M523.9 152.2A328.5 328.5 0 0 0 519.2 152L519.5 141.1M523.9 152.2A328.5 328.5 0 0 0 516.8 151.9L517.1 141M523.9 152.2A328.5 328.5 0 0 0 514.4 151.9L514.6 140.9M523.9 152.2A328.5 328.5 0 0 0 512.1 151.9L512.2 140.9M523.9 152.2A328.5 328.5 0 0 0 509.7 151.8L509.7 140.9M523.9 152.2A328.5 328.5 0 0 0 507.3 151.9L507.3 140.9M523.9 152.2A328.5 328.5 0 0 0 504.9 151.9L504.8 140.9M523.9 152.2A328.5 328.5 0 0 0 502.6 151.9L502.3 141M523.9 152.2A328.5 328.5 0 0 0 500.2 152L499.9 141M523.9 152.2A328.5 328.5 0 0 0 497.8 152L497.4 141.1M523.9 152.2A328.5 328.5 0 0 0 495.4 152.1L495 141.2M523.9 152.2A328.5 328.5 0 0 0 493.1 152.2L492.5 141.3" stroke="#dd3311"/><path d="M448.5 179.7A306.6 306.6 0 0 1 452.3 179L450.3 168.2M450.3 168.2A317.5 317.5 0 0 1 452.6 167.8L448.7 146.3M450.3 168.2A317.5 317.5 0 0 0 448.1 168.7L446 157.9M446 157.9A328.5 328.5 0 0 1 448.3 157.5L446.3 146.7M446 157.9L443.9 147.2M446 157.9A328.5 328.5 0 0 0 443.6 158.4L441.5 147.7" stroke="#88cc22"/><path d="M434.8 182.8A306.6 306.6 0 0 0 432.3 183.5L429.6 172.9M429.6 172.9A317.5 317.5 0 0 1 432.4 172.2L427.1 150.9M429.6 172.9A317.5 317.5 0 0 0 426.8 173.6L424 163M424 163A328.5 328.5 0 0 1 427.5 162.1L424.7 151.5M424 163A328.5 328.5 0 0 1 425.2 162.7L422.4 152.1M424 163A328.5 328.5 0 0 0 422.9 163.3L420 152.8M424 163A328.5 328.5 0 0 0 420.6 163.9L417.6 153.4M770.2 593.3A284.7 284.7 0 0 1 764.5 605.6L794 620.1M794 620.1A317.5 317.5 0 0 1 792.7 622.6L812.3 632.5M794 620.1A317.5 317.5 0 0 0 795.2 617.5L805.1 622.2M805.1 622.2A328.5 328.5 0 0 1 803.6 625.4L813.4 630.3M805.1 622.2A328.5 328.5 0 0 1 804.6 623.3L814.4 628.1M805.1 622.2A328.5 328.5 0 0 0 805.6 621.1L815.5 625.8M805.1 622.2A328.5 328.5 0 0 0 806.6 619L816.6 623.6" stroke="#22cc88"/><path d="M442.8 260.1A229.9 229.9 0 0 0 424.2 266.5L388 174.9M388 174.9A328.5 328.5 0 0 1 393.5 172.8L389.7 162.5M388 174.9A328.5 328.5 0 0 1 391.3 173.6L387.4 163.4M388 174.9A328.5 328.5 0 0 1 389.1 174.5L385.1 164.3M388 174.9A328.5 328.5 0 0 0 386.9 175.4L382.8 165.2M388 174.9A328.5 328.5 0 0 0 384.7 176.3L380.5 166.1M388 174.9A328.5 328.5 0 0 0 382.5 177.2L378.3 167.1" stroke="#bb22dd"/><path d="M371.3 206.4A306.6 306.6 0 0 1 379.2 202.5L374.6 192.6M374.6 192.6A317.5 317.5 0 0 1 380.4 190L375.9 180M375.9 180A328.5 328.5 0 0 1 378.1 179L373.7 169M375.9 180L371.5 170M375.9 180A328.5 328.5 0 0 0 373.8 180.9L369.3 171M374.6 192.6A317.5 317.5 0 0 0 368.9 195.3L364.1 185.5M364.1 185.5A328.5 328.5 0 0 1 371.6 181.9L367 172M364.1 185.5A328.5 328.5 0 0 1 369.4 182.9L364.8 173M364.1 185.5A328.5 328.5 0 0 1 367.3 183.9L362.6 174.1M364.1 185.5A328.5 328.5 0 0 1 365.2 185L360.4 175.1M364.1 185.5A328.5 328.5 0 0 0 363 186L358.2 176.2M364.1 185.5A328.5 328.5 0 0 0 360.9 187.1L356 177.3M364.1 185.5A328.5 328.5 0 0 0 358.8 188.2L353.8 178.4M364.1 185.5A328.5 328.5 0 0 0 356.7 189.3L351.6 179.5" stroke="#22cc44"/><path d="M353.5 216A306.6 306.6 0 0 0 351.8 217L346.2 207.6M346.2 207.6A317.5 317.5 0 0 1 347.7 206.8L336.6 187.9M346.2 207.6A317.5 317.5 0 0 0 344.8 208.5L339.1 199.1M339.1 199.1A328.5 328.5 0 0 1 340.1 198.5L334.5 189.1M339.1 199.1A328.5 328.5 0 0 0 338.1 199.8L332.4 190.4" stroke="#66cc22"/><path d="M305.7 265.6A295.6 295.6 0 0 1 327.7 246.7L321 238.1M321 238.1A306.6 306.6 0 0 1 331.9 230L319.2 212.1M319.2 212.1A328.5 328.5 0 0 1 324.1 208.8L318 199.7M319.2 212.1A328.5 328.5 0 0 1 322.2 210.1L315.9 201.1M319.2 212.1A328.5 328.5 0 0 1 320.2 211.5L313.9 202.5M319.2 212.1A328.5 328.5 0 0 0 318.3 212.8L311.9 203.9M319.2 212.1A328.5 328.5 0 0 0 316.3 214.2L309.9 205.3M319.2 212.1A328.5 328.5 0 0 0 314.4 215.6L307.9 206.8M321 238.1A306.6 306.6 0 0 0 310.4 246.7L303.4 238.3M303.4 238.3A317.5 317.5 0 0 1 315.4 228.6L308.7 219.9M308.7 219.9A328.5 328.5 0 0 1 312.5 217L306 208.2M308.7 219.9A328.5 328.5 0 0 1 310.6 218.5L304 209.7M308.7 219.9L302.1 211.2M308.7 219.9A328.5 328.5 0 0 0 306.9 221.3L300.1 212.7M308.7 219.9A328.5 328.5 0 0 0 305 222.8L298.2 214.2M303.4 238.3A317.5 317.5 0 0 0 291.8 248.6L284.3 240.6M284.3 240.6A328.5 328.5 0 0 1 303.1 224.3L296.3 215.8M284.3 240.6A328.5 328.5 0 0 1 301.3 225.8L294.4 217.3M284.3 240.6A328.5 328.5 0 0 1 299.5 227.3L292.5 218.9M284.3 240.6A328.5 328.5 0 0 1 297.6 228.8L290.6 220.4M284.3 240.6A328.5 328.5 0 0 1 295.8 230.3L288.7 222M284.3 240.6A328.5 328.5 0 0 1 294 231.9L286.9 223.6M284.3 240.6A328.5 328.5 0 0 1 292.2 233.5L285 225.2M284.3 240.6A328.5 328.5 0 0 1 290.4 235L283.2 226.8M284.3 240.6A328.5 328.5 0 0 1 288.7 236.6L281.3 228.5M284.3 240.6A328.5 328.5 0 0 1 286.9 238.2L279.5 230.1M284.3 240.6A328.5 328.5 0 0 1 285.2 239.8L277.7 231.8M284.3 240.6A328.5 328.5 0 0 0 283.5 241.4L275.9 233.5M284.3 240.6A328.5 328.5 0 0 0 281.7 243.1L274.2 235.2M284.3 240.6A328.5 328.5 0 0 0 280 244.7L272.4 236.9M284.3 240.6A328.5 328.5 0 0 0 278.3 246.4L270.6 238.6M284.3 240.6A328.5 328.5 0 0 0 276.6 248.1L268.9 240.3M284.3 240.6A328.5 328.5 0 0 0 275 249.7L267.2 242.1M284.3 240.6A328.5 328.5 0 0 0 273.3 251.4L265.5 243.8M284.3 240.6A328.5 328.5 0 0 0 271.7 253.1L263.8 245.6M284.3 240.6A328.5 328.5 0 0 0 270 254.9L262.1 247.4M284.3 240.6A328.5 328.5 0 0 0 268.4 256.6L260.4 249.1M284.3 240.6A328.5 328.5 0 0 0 266.8 258.3L258.7 250.9" stroke="#9922dd"/><path d="M305.7 265.6A295.6 295.6 0 0 0 285.7 286.5L269.1 272.2M269.1 272.2A317.5 317.5 0 0 1 272.5 268.3L264.4 261M264.4 261A328.5 328.5 0 0 1 265.2 260.1L257.1 252.8M264.4 261A328.5 328.5 0 0 0 263.6 261.9L255.4 254.6M269.1 272.2A317.5 317.5 0 0 0 265.8 276.1L257.4 269.1M257.4 269.1A328.5 328.5 0 0 1 262 263.6L253.8 256.4M257.4 269.1A328.5 328.5 0 0 1 260.5 265.4L252.2 258.3M257.4 269.1A328.5 328.5 0 0 1 258.9 267.2L250.6 260.1M257.4 269.1L249 262M257.4 269.1A328.5 328.5 0 0 0 255.9 270.9L247.4 263.9M257.4 269.1A328.5 328.5 0 0 0 254.4 272.7L245.9 265.8M257.4 269.1A328.5 328.5 0 0 0 252.9 274.6L244.3 267.7" stroke="#2277dd"/><path d="M272.1 303.4A295.6 295.6 0 0 0 268.5 308.3L259.6 301.9M259.6 301.9A306.6 306.6 0 0 1 265.2 294.4L247.8 281.1M247.8 281.1A328.5 328.5 0 0 1 248.5 280.2L239.8 273.5M247.8 281.1A328.5 328.5 0 0 0 247 282L238.3 275.4M259.6 301.9A306.6 306.6 0 0 0 254.2 309.7L245.1 303.6M245.1 303.6A317.5 317.5 0 0 1 253 292.3L244.2 285.8M244.2 285.8A328.5 328.5 0 0 1 245.6 283.9L236.8 277.4M244.2 285.8L235.4 279.4M244.2 285.8A328.5 328.5 0 0 0 242.8 287.8L233.9 281.3M245.1 303.6A317.5 317.5 0 0 0 237.7 315.2L228.3 309.5M228.3 309.5A328.5 328.5 0 0 1 241.4 289.7L232.5 283.3M228.3 309.5A328.5 328.5 0 0 1 240 291.6L231.1 285.3M228.3 309.5A328.5 328.5 0 0 1 238.7 293.6L229.7 287.4M228.3 309.5A328.5 328.5 0 0 1 237.3 295.5L228.3 289.4M228.3 309.5A328.5 328.5 0 0 1 236 297.5L226.9 291.4M228.3 309.5A328.5 328.5 0 0 1 234.7 299.5L225.6 293.5M228.3 309.5A328.5 328.5 0 0 1 233.4 301.5L224.2 295.5M228.3 309.5A328.5 328.5 0 0 1 232.1 303.5L222.9 297.6M228.3 309.5A328.5 328.5 0 0 1 230.8 305.5L221.6 299.6M228.3 309.5A328.5 328.5 0 0 1 229.6 307.5L220.3 301.7M228.3 309.5L219 303.8M228.3 309.5A328.5 328.5 0 0 0 227.1 311.5L217.7 305.9M228.3 309.5A328.5 328.5 0 0 0 225.9 313.6L216.5 308M228.3 309.5A328.5 328.5 0 0 0 224.7 315.6L215.2 310.1M228.3 309.5A328.5 328.5 0 0 0 223.5 317.7L214 312.3M228.3 309.5A328.5 328.5 0 0 0 222.4 319.8L212.8 314.4M228.3 309.5A328.5 328.5 0 0 0 221.2 321.8L211.6 316.5M228.3 309.5A328.5 328.5 0 0 0 220.1 323.9L210.4 318.7M228.3 309.5A328.5 328.5 0 0 0 218.9 326L209.3 320.9M228.3 309.5A328.5 328.5 0 0 0 217.8 328.1L208.1 323M228.3 309.5A328.5 328.5 0 0 0 216.7 330.2L207 325.2" stroke="#d08a22"/><path d="M232.5 347.7A306.6 306.6 0 0 1 234.2 344.2L224.4 339.3M224.4 339.3A317.5 317.5 0 0 1 225.4 337.3L205.9 327.4M224.4 339.3A317.5 317.5 0 0 0 223.4 341.4L213.6 336.6M213.6 336.6A328.5 328.5 0 0 1 214.6 334.5L204.8 329.6M213.6 336.6L203.7 331.8M213.6 336.6A328.5 328.5 0 0 0 212.5 338.7L202.6 334" stroke="#22ccaa"/><path d="M219.5 379.1A306.6 306.6 0 0 1 220.5 376.3L210.2 372.5M210.2 372.5A317.5 317.5 0 0 1 210.8 370.9L190.3 363.4M210.2 372.5A317.5 317.5 0 0 0 209.7 374.2L199.3 370.5M199.3 370.5A328.5 328.5 0 0 1 199.7 369.4L189.4 365.7M199.3 370.5A328.5 328.5 0 0 0 198.9 371.6L188.6 368" stroke="#dd2244"/><path d="M204.2 391.1A317.5 317.5 0 0 1 205 388.3L194.5 385.2M194.5 385.2A328.5 328.5 0 0 1 195.2 382.9L184.8 379.6M194.5 385.2L184.1 382M194.5 385.2A328.5 328.5 0 0 0 193.8 387.4L183.3 384.3" stroke="#aacc22"/><path d="M197.7 417.2A317.5 317.5 0 0 1 198.2 415L187.5 412.8M187.5 412.8A328.5 328.5 0 0 1 188 410.4L177.3 408.1M187.5 412.8L176.8 410.5M187.5 412.8A328.5 328.5 0 0 0 187 415.1L176.3 412.9" stroke="#c4cc22"/><path d="M204.6 443.2A306.6 306.6 0 0 0 204.4 445.1L193.5 443.9M193.5 443.9A317.5 317.5 0 0 1 193.7 442.2L172 439.5M193.5 443.9A317.5 317.5 0 0 0 193.3 445.6L182.4 444.4M182.4 444.4A328.5 328.5 0 0 1 182.5 443.2L171.7 442M182.4 444.4A328.5 328.5 0 0 0 182.3 445.6L171.4 444.4M749 611.7A273.7 273.7 0 0 1 735.9 633.3L763.1 651.7M763.1 651.7A306.6 306.6 0 0 1 758.4 658.5L776.2 671.2M776.2 671.2A328.5 328.5 0 0 1 775.5 672.2L784.4 678.6M776.2 671.2A328.5 328.5 0 0 0 776.9 670.2L785.8 676.6M763.1 651.7A306.6 306.6 0 0 0 767.6 644.7L776.9 650.6M776.9 650.6A317.5 317.5 0 0 1 770.6 660.2L779.6 666.4M779.6 666.4A328.5 328.5 0 0 1 778.2 668.3L787.2 674.6M779.6 666.4L788.6 672.6M779.6 666.4A328.5 328.5 0 0 0 780.9 664.4L790 670.5M776.9 650.6A317.5 317.5 0 0 0 782.9 640.8L792.3 646.3M792.3 646.3A328.5 328.5 0 0 1 782.2 662.4L791.3 668.5M792.3 646.3A328.5 328.5 0 0 1 783.5 660.4L792.7 666.4M792.3 646.3A328.5 328.5 0 0 1 784.8 658.5L794 664.4M792.3 646.3A328.5 328.5 0 0 1 786.1 656.5L795.4 662.3M792.3 646.3A328.5 328.5 0 0 1 787.4 654.4L796.7 660.2M792.3 646.3A328.5 328.5 0 0 1 788.6 652.4L798 658.2M792.3 646.3A328.5 328.5 0 0 1 789.9 650.4L799.2 656.1M792.3 646.3A328.5 328.5 0 0 1 791.1 648.4L800.5 654M792.3 646.3L801.7 651.9M792.3 646.3A328.5 328.5 0 0 0 793.5 644.3L803 649.7M792.3 646.3A328.5 328.5 0 0 0 794.7 642.2L804.2 647.6M792.3 646.3A328.5 328.5 0 0 0 795.8 640.1L805.4 645.5M792.3 646.3A328.5 328.5 0 0 0 797 638.1L806.6 643.3M792.3 646.3A328.5 328.5 0 0 0 798.1 636L807.8 641.2M792.3 646.3A328.5 328.5 0 0 0 799.2 633.9L808.9 639M792.3 646.3A328.5 328.5 0 0 0 800.3 631.8L810.1 636.8M792.3 646.3A328.5 328.5 0 0 0 801.4 629.7L811.2 634.6" stroke="#dd2222"/><path d="M214.1 458.2A295.6 295.6 0 0 0 213.9 461L203 460.3M203 460.3A306.6 306.6 0 0 1 203.3 456.7L170.5 454.2M203 460.3A306.6 306.6 0 0 0 202.8 463.9L191.9 463.3M191.9 463.3A317.5 317.5 0 0 1 192.1 459.3L181.2 458.6M181.2 458.6A328.5 328.5 0 0 1 181.2 457.4L170.3 456.6M181.2 458.6A328.5 328.5 0 0 0 181.1 459.8L170.2 459.1M191.9 463.3A317.5 317.5 0 0 0 191.7 467.3L180.7 466.9M180.7 466.9A328.5 328.5 0 0 1 181 462.1L170 461.5M180.7 466.9A328.5 328.5 0 0 1 180.8 464.5L169.9 464M180.7 466.9L169.8 466.4M180.7 466.9A328.5 328.5 0 0 0 180.6 469.2L169.7 468.9M180.7 466.9A328.5 328.5 0 0 0 180.6 471.6L169.6 471.3" stroke="#2299dd"/><path d="M208.6 541.8A306.6 306.6 0 0 1 204.8 519.2L194 520.6M194 520.6A317.5 317.5 0 0 1 192.6 507.4L181.7 508.4M181.7 508.4A328.5 328.5 0 0 1 181.4 504.8L170.4 505.6M181.7 508.4A328.5 328.5 0 0 1 181.6 507.2L170.6 508.1M181.7 508.4A328.5 328.5 0 0 0 181.8 509.6L170.8 510.5M181.7 508.4A328.5 328.5 0 0 0 182 511.9L171.1 513M194 520.6A317.5 317.5 0 0 0 195.9 533.6L185.1 535.4M185.1 535.4A328.5 328.5 0 0 1 182.2 514.3L171.3 515.4M185.1 535.4A328.5 328.5 0 0 1 182.5 516.6L171.6 517.9M185.1 535.4A328.5 328.5 0 0 1 182.7 519L171.9 520.3M185.1 535.4A328.5 328.5 0 0 1 183 521.4L172.2 522.7M185.1 535.4A328.5 328.5 0 0 1 183.3 523.7L172.5 525.2M185.1 535.4A328.5 328.5 0 0 1 183.7 526.1L172.8 527.6M185.1 535.4A328.5 328.5 0 0 1 184 528.4L173.2 530M185.1 535.4A328.5 328.5 0 0 1 184.3 530.8L173.5 532.4M185.1 535.4A328.5 328.5 0 0 1 184.7 533.1L173.9 534.9M185.1 535.4L174.3 537.3M185.1 535.4A328.5 328.5 0 0 0 185.5 537.8L174.7 539.7M185.1 535.4A328.5 328.5 0 0 0 185.9 540.1L175.2 542.1M185.1 535.4A328.5 328.5 0 0 0 186.4 542.5L175.6 544.5M185.1 535.4A328.5 328.5 0 0 0 186.8 544.8L176.1 546.9M185.1 535.4A328.5 328.5 0 0 0 187.3 547.1L176.6 549.3M185.1 535.4A328.5 328.5 0 0 0 187.8 549.4L177.1 551.7M185.1 535.4A328.5 328.5 0 0 0 188.3 551.8L177.6 554.1M185.1 535.4A328.5 328.5 0 0 0 188.8 554.1L178.2 556.5M185.1 535.4A328.5 328.5 0 0 0 189.4 556.4L178.7 558.9" stroke="#dd2266"/><path d="M203.5 567.2A317.5 317.5 0 0 1 202.3 562.7L191.7 565.6M191.7 565.6A328.5 328.5 0 0 1 189.9 558.7L179.3 561.3M191.7 565.6A328.5 328.5 0 0 1 190.5 561L179.9 563.7M191.7 565.6A328.5 328.5 0 0 1 191.1 563.3L180.5 566.1M191.7 565.6L181.1 568.4M191.7 565.6A328.5 328.5 0 0 0 192.3 567.9L181.8 570.8M191.7 565.6A328.5 328.5 0 0 0 193 570.2L182.4 573.2M191.7 565.6A328.5 328.5 0 0 0 193.6 572.4L183.1 575.5" stroke="#cc22dd"/><path d="M227.3 570.2A295.6 295.6 0 0 0 228.3 573.2L217.9 576.6M217.9 576.6A306.6 306.6 0 0 1 216.6 572.7L185.3 582.6M217.9 576.6A306.6 306.6 0 0 0 219.2 580.5L208.9 584.1M208.9 584.1A317.5 317.5 0 0 1 207.2 579.2L196.8 582.6M196.8 582.6A328.5 328.5 0 0 1 196.4 581.5L186 584.9M196.8 582.6A328.5 328.5 0 0 0 197.2 583.8L186.8 587.2M208.9 584.1A317.5 317.5 0 0 0 210.6 589L200.3 592.7M200.3 592.7A328.5 328.5 0 0 1 197.9 586L187.6 589.5M200.3 592.7A328.5 328.5 0 0 1 198.7 588.3L188.4 591.9M200.3 592.7A328.5 328.5 0 0 1 199.5 590.5L189.2 594.2M200.3 592.7L190 596.5M200.3 592.7A328.5 328.5 0 0 0 201.1 595L190.9 598.8M200.3 592.7A328.5 328.5 0 0 0 202 597.2L191.7 601.1M200.3 592.7A328.5 328.5 0 0 0 202.8 599.4L192.6 603.4M668.5 742A306.6 306.6 0 0 0 673.7 738.8L679.6 748M679.6 748A317.5 317.5 0 0 1 675.7 750.5L681.4 759.8M681.4 759.8A328.5 328.5 0 0 1 680.4 760.4L686.1 769.8M681.4 759.8A328.5 328.5 0 0 0 682.4 759.2L688.2 768.5M679.6 748A317.5 317.5 0 0 0 683.4 745.5L689.4 754.7M689.4 754.7A328.5 328.5 0 0 1 684.4 757.9L690.3 767.2M689.4 754.7A328.5 328.5 0 0 1 686.4 756.6L692.4 765.8M689.4 754.7A328.5 328.5 0 0 1 688.4 755.3L694.4 764.5M689.4 754.7A328.5 328.5 0 0 0 690.4 754L696.5 763.2M689.4 754.7A328.5 328.5 0 0 0 692.4 752.7L698.5 761.8M689.4 754.7A328.5 328.5 0 0 0 694.4 751.4L700.5 760.4" stroke="#22cccc"/><path d="M245.8 589A284.7 284.7 0 0 0 247.3 592.4L237.2 596.8M237.2 596.8A295.6 295.6 0 0 1 235 591.5L194.4 607.9M237.2 596.8A295.6 295.6 0 0 0 239.5 602L229.5 606.5M229.5 606.5A306.6 306.6 0 0 1 226.1 598.7L205.9 607.1M205.9 607.1A328.5 328.5 0 0 1 205.5 606L195.3 610.2M205.9 607.1A328.5 328.5 0 0 0 206.4 608.2L196.3 612.5M229.5 606.5A306.6 306.6 0 0 0 233.2 614.3L223.3 619.1M223.3 619.1A317.5 317.5 0 0 1 218.3 608.2L208.3 612.6M208.3 612.6A328.5 328.5 0 0 1 207.3 610.4L197.3 614.7M208.3 612.6L198.2 617M208.3 612.6A328.5 328.5 0 0 0 209.2 614.7L199.2 619.2M223.3 619.1A317.5 317.5 0 0 0 228.8 629.8L219.1 635M219.1 635A328.5 328.5 0 0 1 210.2 616.9L200.2 621.4M219.1 635A328.5 328.5 0 0 1 211.2 619L201.3 623.7M219.1 635A328.5 328.5 0 0 1 212.2 621.2L202.3 625.9M219.1 635A328.5 328.5 0 0 1 213.2 623.3L203.4 628.1M219.1 635A328.5 328.5 0 0 1 214.3 625.5L204.5 630.3M219.1 635A328.5 328.5 0 0 1 215.3 627.6L205.5 632.5M219.1 635A328.5 328.5 0 0 1 216.4 629.7L206.7 634.7M219.1 635A328.5 328.5 0 0 1 217.5 631.8L207.8 636.9M219.1 635A328.5 328.5 0 0 1 218.6 633.9L208.9 639M219.1 635A328.5 328.5 0 0 0 219.7 636L210.1 641.2M219.1 635A328.5 328.5 0 0 0 220.8 638.1L211.2 643.4M219.1 635A328.5 328.5 0 0 0 222 640.2L212.4 645.5M219.1 635A328.5 328.5 0 0 0 223.2 642.3L213.6 647.7M219.1 635A328.5 328.5 0 0 0 224.3 644.3L214.8 649.8M219.1 635A328.5 328.5 0 0 0 225.5 646.4L216.1 651.9M219.1 635A328.5 328.5 0 0 0 226.7 648.4L217.3 654M219.1 635A328.5 328.5 0 0 0 228 650.4L218.6 656.1M219.1 635A328.5 328.5 0 0 0 229.2 652.5L219.9 658.2" stroke="#ccbb11"/><path d="M263.4 663.9A306.6 306.6 0 0 1 261.4 661.2L252.6 667.7M252.6 667.7A317.5 317.5 0 0 1 251.2 665.8L233.5 678.6M252.6 667.7A317.5 317.5 0 0 0 253.9 669.5L245.2 676.1M245.2 676.1A328.5 328.5 0 0 1 243.7 674.1L234.9 680.6M245.2 676.1L236.4 682.6M245.2 676.1A328.5 328.5 0 0 0 246.6 678L237.8 684.5" stroke="#dd6611"/><path d="M317 675.5A273.7 273.7 0 0 0 320.6 678.9L313 686.9M313 686.9A284.7 284.7 0 0 1 307.9 681.8L276.9 712.8M276.9 712.8A328.5 328.5 0 0 1 276.1 712L268.3 719.7M276.9 712.8A328.5 328.5 0 0 0 277.8 713.7L270.1 721.5M313 686.9A284.7 284.7 0 0 0 318.3 691.7L311 699.9M311 699.9A295.6 295.6 0 0 1 304 693.3L281.2 717M281.2 717A328.5 328.5 0 0 1 279.5 715.3L271.8 723.2M281.2 717L273.6 724.9M281.2 717A328.5 328.5 0 0 0 282.9 718.6L275.4 726.6M311 699.9A295.6 295.6 0 0 0 318.2 706.2L311.2 714.6M311.2 714.6A306.6 306.6 0 0 1 302 706.5L287.2 722.7M287.2 722.7A328.5 328.5 0 0 1 284.6 720.3L277.2 728.3M287.2 722.7A328.5 328.5 0 0 1 286.4 721.9L279 729.9M287.2 722.7A328.5 328.5 0 0 0 288.1 723.5L280.8 731.6M287.2 722.7A328.5 328.5 0 0 0 289.9 725.1L282.6 733.2M311.2 714.6A306.6 306.6 0 0 0 320.6 722.2L313.9 730.9M313.9 730.9A317.5 317.5 0 0 1 300.6 719.9L293.4 728.2M293.4 728.2A328.5 328.5 0 0 1 291.7 726.6L284.4 734.9M293.4 728.2L286.3 736.5M293.4 728.2A328.5 328.5 0 0 0 295.2 729.8L288.1 738.1M313.9 730.9A317.5 317.5 0 0 0 327.8 741.1L321.5 750.1M321.5 750.1A328.5 328.5 0 0 1 297.1 731.3L290 739.7M321.5 750.1A328.5 328.5 0 0 1 298.9 732.8L291.9 741.2M321.5 750.1A328.5 328.5 0 0 1 300.7 734.3L293.8 742.8M321.5 750.1A328.5 328.5 0 0 1 302.5 735.8L295.7 744.4M321.5 750.1A328.5 328.5 0 0 1 304.4 737.3L297.6 745.9M321.5 750.1A328.5 328.5 0 0 1 306.3 738.8L299.5 747.4M321.5 750.1A328.5 328.5 0 0 1 308.1 740.2L301.4 748.9M321.5 750.1A328.5 328.5 0 0 1 310 741.7L303.4 750.4M321.5 750.1A328.5 328.5 0 0 1 311.9 743.1L305.3 751.9M321.5 750.1A328.5 328.5 0 0 1 313.8 744.5L307.3 753.3M321.5 750.1A328.5 328.5 0 0 1 315.7 745.9L309.3 754.8M321.5 750.1A328.5 328.5 0 0 1 317.7 747.3L311.3 756.2M321.5 750.1A328.5 328.5 0 0 1 319.6 748.7L313.3 757.7M321.5 750.1L315.3 759.1M321.5 750.1A328.5 328.5 0 0 0 323.5 751.4L317.3 760.5M321.5 750.1A328.5 328.5 0 0 0 325.5 752.7L319.3 761.8M321.5 750.1A328.5 328.5 0 0 0 327.4 754.1L321.4 763.2M321.5 750.1A328.5 328.5 0 0 0 329.4 755.4L323.4 764.5M321.5 750.1A328.5 328.5 0 0 0 331.4 756.7L325.5 765.9M321.5 750.1A328.5 328.5 0 0 0 333.4 757.9L327.6 767.2M321.5 750.1A328.5 328.5 0 0 0 335.4 759.2L329.6 768.5M321.5 750.1A328.5 328.5 0 0 0 337.4 760.4L331.7 769.8M321.5 750.1A328.5 328.5 0 0 0 339.5 761.7L333.8 771.1M321.5 750.1A328.5 328.5 0 0 0 341.5 762.9L335.9 772.3M321.5 750.1A328.5 328.5 0 0 0 343.6 764.1L338 773.6M321.5 750.1A328.5 328.5 0 0 0 345.6 765.3L340.2 774.8M321.5 750.1A328.5 328.5 0 0 0 347.7 766.5L342.3 776" stroke="#6622dd"/><path d="M382.9 759.8A306.6 306.6 0 0 1 380.1 758.5L370.9 778.4M370.9 778.4A328.5 328.5 0 0 1 368.8 777.4L364.1 787.3M370.9 778.4L366.3 788.3M370.9 778.4A328.5 328.5 0 0 0 373.1 779.3L368.5 789.3" stroke="#ddaa22"/><path d="M412.4 748.1A284.7 284.7 0 0 0 414.7 748.9L411.1 759.2M411.1 759.2A295.6 295.6 0 0 1 408.4 758.3L393.5 799.5M411.1 759.2A295.6 295.6 0 0 0 413.7 760.2L410.2 770.5M410.2 770.5A306.6 306.6 0 0 1 406.8 769.3L395.8 800.3M410.2 770.5A306.6 306.6 0 0 0 413.6 771.7L410.2 782.1M410.2 782.1A317.5 317.5 0 0 1 406.4 780.8L402.8 791.2M402.8 791.2A328.5 328.5 0 0 1 401.7 790.8L398.2 801.1M402.8 791.2A328.5 328.5 0 0 0 404 791.5L400.5 801.9M410.2 782.1A317.5 317.5 0 0 0 414 783.3L410.7 793.7M410.7 793.7A328.5 328.5 0 0 1 406.2 792.3L402.8 802.7M410.7 793.7A328.5 328.5 0 0 1 408.5 793L405.1 803.4M410.7 793.7L407.5 804.2M410.7 793.7A328.5 328.5 0 0 0 413 794.4L409.8 804.9M410.7 793.7A328.5 328.5 0 0 0 415.3 795.1L412.2 805.6" stroke="#dd22bb"/><path d="M470.8 784.5A306.6 306.6 0 0 1 465.9 783.8L464.3 794.7M464.3 794.7A317.5 317.5 0 0 1 460.9 794.2L457.6 815.8M464.3 794.7A317.5 317.5 0 0 0 467.7 795.1L466.3 806M466.3 806A328.5 328.5 0 0 1 461.6 805.3L460 816.2M466.3 806A328.5 328.5 0 0 1 464 805.7L462.5 816.5M466.3 806L464.9 816.8M466.3 806A328.5 328.5 0 0 0 468.7 806.3L467.3 817.1M466.3 806A328.5 328.5 0 0 0 471 806.6L469.8 817.4" stroke="#22bbdd"/><path d="M479.1 796.4A317.5 317.5 0 0 0 481.4 796.6L480.5 807.5M480.5 807.5A328.5 328.5 0 0 1 478.1 807.3L477.1 818.2M480.5 807.5L479.5 818.4M480.5 807.5A328.5 328.5 0 0 0 482.8 807.7L482 818.6" stroke="#dd2277"/><path d="M531 764.1A284.7 284.7 0 0 1 516 764.9L516.3 775.8M516.3 775.8A295.6 295.6 0 0 1 513.2 775.9L513.8 819.7M516.3 775.8A295.6 295.6 0 0 0 519.3 775.7L519.7 786.7M519.7 786.7A306.6 306.6 0 0 1 515.6 786.8L516.3 819.6M519.7 786.7A306.6 306.6 0 0 0 523.9 786.5L524.4 797.4M524.4 797.4A317.5 317.5 0 0 1 519.3 797.6L519.6 808.6M519.6 808.6A328.5 328.5 0 0 1 518.4 808.6L518.7 819.6M519.6 808.6A328.5 328.5 0 0 0 520.8 808.5L521.2 819.5M524.4 797.4A317.5 317.5 0 0 0 529.6 797.1L530.3 808.1M530.3 808.1A328.5 328.5 0 0 1 523.2 808.4L523.6 819.4M530.3 808.1A328.5 328.5 0 0 1 525.5 808.3L526.1 819.3M530.3 808.1A328.5 328.5 0 0 1 527.9 808.2L528.5 819.1M530.3 808.1L531 819M530.3 808.1A328.5 328.5 0 0 0 532.6 807.9L533.4 818.8M530.3 808.1A328.5 328.5 0 0 0 535 807.7L535.9 818.6M530.3 808.1A328.5 328.5 0 0 0 537.4 807.5L538.3 818.4" stroke="#dd22aa"/><path d="M531 764.1A284.7 284.7 0 0 0 545.9 762.5L550.1 795.1M550.1 795.1A317.5 317.5 0 0 1 541 796.2L542.1 807.1M542.1 807.1A328.5 328.5 0 0 1 539.7 807.3L540.8 818.2M542.1 807.1L543.2 818M542.1 807.1A328.5 328.5 0 0 0 544.5 806.8L545.7 817.7M550.1 795.1A317.5 317.5 0 0 0 559.2 793.8L560.9 804.6M560.9 804.6A328.5 328.5 0 0 1 546.8 806.6L548.1 817.4M560.9 804.6A328.5 328.5 0 0 1 549.2 806.3L550.5 817.1M560.9 804.6A328.5 328.5 0 0 1 551.5 806L553 816.8M560.9 804.6A328.5 328.5 0 0 1 553.9 805.7L555.4 816.5M560.9 804.6A328.5 328.5 0 0 1 556.2 805.3L557.8 816.2M560.9 804.6A328.5 328.5 0 0 1 558.6 805L560.2 815.8M560.9 804.6L562.7 815.4M560.9 804.6A328.5 328.5 0 0 0 563.3 804.2L565.1 815M560.9 804.6A328.5 328.5 0 0 0 565.6 803.8L567.5 814.6M560.9 804.6A328.5 328.5 0 0 0 568 803.4L569.9 814.2M560.9 804.6A328.5 328.5 0 0 0 570.3 803L572.3 813.7M560.9 804.6A328.5 328.5 0 0 0 572.6 802.5L574.7 813.3M560.9 804.6A328.5 328.5 0 0 0 574.9 802L577.1 812.8" stroke="#dd33dd"/><path d="M607.4 770.6A306.6 306.6 0 0 1 599.5 773.2L606 794.1M606 794.1A328.5 328.5 0 0 1 600.3 795.8L603.3 806.3M606 794.1A328.5 328.5 0 0 1 602.6 795.1L605.7 805.6M606 794.1A328.5 328.5 0 0 1 604.8 794.4L608 804.9M606 794.1A328.5 328.5 0 0 0 607.1 793.7L610.4 804.2M606 794.1A328.5 328.5 0 0 0 609.4 793L612.7 803.4M606 794.1A328.5 328.5 0 0 0 611.6 792.3L615.1 802.7" stroke="#dd2233"/><path d="M607.4 770.6A306.6 306.6 0 0 0 615.2 767.8L619 778.1M619 778.1A317.5 317.5 0 0 1 611.5 780.8L615 791.1M615 791.1A328.5 328.5 0 0 1 613.9 791.5L617.4 801.9M615 791.1A328.5 328.5 0 0 0 616.1 790.8L619.7 801.1M619 778.1A317.5 317.5 0 0 0 626.5 775.2L630.6 785.4M630.6 785.4A328.5 328.5 0 0 1 618.4 790L622 800.3M630.6 785.4A328.5 328.5 0 0 1 620.6 789.2L624.3 799.5M630.6 785.4A328.5 328.5 0 0 1 622.8 788.4L626.6 798.6M630.6 785.4A328.5 328.5 0 0 1 625.1 787.5L628.9 797.8M630.6 785.4A328.5 328.5 0 0 1 627.3 786.7L631.2 796.9M630.6 785.4A328.5 328.5 0 0 1 629.5 785.8L633.5 796M630.6 785.4A328.5 328.5 0 0 0 631.7 784.9L635.8 795.1M630.6 785.4A328.5 328.5 0 0 0 633.9 784L638.1 794.2M630.6 785.4A328.5 328.5 0 0 0 636.1 783.1L640.3 793.2M630.6 785.4A328.5 328.5 0 0 0 638.3 782.2L642.6 792.3M630.6 785.4A328.5 328.5 0 0 0 640.4 781.3L644.8 791.3M630.6 785.4A328.5 328.5 0 0 0 642.6 780.3L647.1 790.3" stroke="#22cc66"/><path d="M642.9 768.2A317.5 317.5 0 0 0 645.5 766.9L650.2 776.8M650.2 776.8A328.5 328.5 0 0 1 646.9 778.3L651.5 788.3M650.2 776.8A328.5 328.5 0 0 1 649.1 777.3L653.8 787.2M650.2 776.8A328.5 328.5 0 0 0 651.2 776.3L656 786.2M650.2 776.8A328.5 328.5 0 0 0 653.4 775.3L658.2 785.1" stroke="#9933dd"/><path d="M683.4 691.2A273.7 273.7 0 0 1 678.6 695.1L705.7 729.4M705.7 729.4A317.5 317.5 0 0 1 703 731.6L716.4 748.9M705.7 729.4A317.5 317.5 0 0 0 708.4 727.3L715.3 735.8M715.3 735.8A328.5 328.5 0 0 1 711.6 738.8L718.3 747.4M715.3 735.8A328.5 328.5 0 0 1 713.4 737.3L720.3 745.9M715.3 735.8L722.2 744.3M715.3 735.8A328.5 328.5 0 0 0 717.1 734.3L724.1 742.8M715.3 735.8A328.5 328.5 0 0 0 719 732.8L726 741.2" stroke="#dd8822"/><path d="M707.6 652.2A262.8 262.8 0 0 1 700.8 659.8L740.7 697.2M740.7 697.2A317.5 317.5 0 0 1 738.8 699.3L754.6 714.4M740.7 697.2A317.5 317.5 0 0 0 742.7 695.1L750.8 702.5M750.8 702.5A328.5 328.5 0 0 1 748.3 705.1L756.3 712.6M750.8 702.5A328.5 328.5 0 0 1 749.9 703.4L758 710.8M750.8 702.5A328.5 328.5 0 0 0 751.6 701.7L759.6 709M750.8 702.5A328.5 328.5 0 0 0 753.1 699.9L761.3 707.2" stroke="#3322dd"/><path d="M734.3 671.5A295.6 295.6 0 0 1 731.6 674.7L739.8 681.9M739.8 681.9A306.6 306.6 0 0 1 738.3 683.6L762.9 705.4M739.8 681.9A306.6 306.6 0 0 0 741.3 680.3L749.6 687.4M749.6 687.4A317.5 317.5 0 0 1 748.1 689.1L764.5 703.5M749.6 687.4A317.5 317.5 0 0 0 751 685.7L759.4 692.7M759.4 692.7A328.5 328.5 0 0 1 757.9 694.5L766.2 701.7M759.4 692.7L767.7 699.8M759.4 692.7A328.5 328.5 0 0 0 760.9 690.9L769.3 697.9" stroke="#99cc22"/><path d="M785.5 584.6A295.6 295.6 0 0 1 780.8 596.3L811 609.2M811 609.2A328.5 328.5 0 0 1 807.6 616.8L817.6 621.4M811 609.2A328.5 328.5 0 0 1 808.6 614.7L818.6 619.2M811 609.2A328.5 328.5 0 0 1 809.6 612.5L819.6 616.9M811 609.2A328.5 328.5 0 0 1 810.5 610.3L820.6 614.7M811 609.2A328.5 328.5 0 0 0 811.4 608.2L821.5 612.4M811 609.2A328.5 328.5 0 0 0 812.4 606L822.5 610.2M811 609.2A328.5 328.5 0 0 0 813.3 603.8L823.4 607.9M811 609.2A328.5 328.5 0 0 0 814.1 601.6L824.3 605.6" stroke="#2266dd"/><path d="M785.5 584.6A295.6 295.6 0 0 0 789.7 572.6L800.1 576M800.1 576A306.6 306.6 0 0 1 795.8 588.3L816.3 596M816.3 596A328.5 328.5 0 0 1 815 599.4L825.2 603.3M816.3 596A328.5 328.5 0 0 1 815.9 597.1L826.1 601M816.3 596A328.5 328.5 0 0 0 816.7 594.9L827 598.7M816.3 596A328.5 328.5 0 0 0 817.5 592.7L827.8 596.4M800.1 576A306.6 306.6 0 0 0 803.9 563.6L814.5 566.6M814.5 566.6A317.5 317.5 0 0 1 809.5 582.4L819.9 586M819.9 586A328.5 328.5 0 0 1 818.3 590.5L828.6 594.1M819.9 586A328.5 328.5 0 0 1 819.1 588.2L829.5 591.8M819.9 586L830.3 589.5M819.9 586A328.5 328.5 0 0 0 820.6 583.7L831 587.2M819.9 586A328.5 328.5 0 0 0 821.4 581.5L831.8 584.8M814.5 566.6A317.5 317.5 0 0 0 818.6 550.4L829.2 552.9M829.2 552.9A328.5 328.5 0 0 1 822.1 579.2L832.5 582.5M829.2 552.9A328.5 328.5 0 0 1 822.8 576.9L833.3 580.2M829.2 552.9A328.5 328.5 0 0 1 823.5 574.7L834 577.8M829.2 552.9A328.5 328.5 0 0 1 824.2 572.4L834.7 575.5M829.2 552.9A328.5 328.5 0 0 1 824.8 570.1L835.4 573.1M829.2 552.9A328.5 328.5 0 0 1 825.5 567.8L836 570.7M829.2 552.9A328.5 328.5 0 0 1 826.1 565.5L836.7 568.4M829.2 552.9A328.5 328.5 0 0 1 826.7 563.2L837.3 566M829.2 552.9A328.5 328.5 0 0 1 827.3 560.9L837.9 563.6M829.2 552.9A328.5 328.5 0 0 1 827.9 558.6L838.5 561.2M829.2 552.9A328.5 328.5 0 0 1 828.4 556.3L839.1 558.9M829.2 552.9A328.5 328.5 0 0 1 829 554L839.6 556.5M829.2 552.9A328.5 328.5 0 0 0 829.5 551.7L840.2 554.1M829.2 552.9A328.5 328.5 0 0 0 830 549.4L840.7 551.7M829.2 552.9A328.5 328.5 0 0 0 830.5 547.1L841.2 549.3M829.2 552.9A328.5 328.5 0 0 0 831 544.7L841.7 546.9M829.2 552.9A328.5 328.5 0 0 0 831.4 542.4L842.2 544.5M829.2 552.9A328.5 328.5 0 0 0 831.9 540.1L842.6 542.1M829.2 552.9A328.5 328.5 0 0 0 832.3 537.7L843.1 539.6M829.2 552.9A328.5 328.5 0 0 0 832.7 535.4L843.5 537.2M829.2 552.9A328.5 328.5 0 0 0 833.1 533.1L843.9 534.8M829.2 552.9A328.5 328.5 0 0 0 833.5 530.7L844.3 532.4M829.2 552.9A328.5 328.5 0 0 0 833.8 528.4L844.6 530M829.2 552.9A328.5 328.5 0 0 0 834.2 526L845 527.5" stroke="#22cc55"/></g>
<g font-family="'Liberation Sans',sans-serif" font-size="15.9"><text transform="translate(857.1,439.9) rotate(-6.6)" dy="5.6" fill="#1f44d8">ST348</text><text transform="translate(851.2,404.9) rotate(-12.4)" dy="5.6" fill="#2266e0">ST399</text><text transform="translate(843,374.3) rotate(-17.6)" dy="5.6" fill="#d4aa18">ST1125</text><text transform="translate(839.4,363.5) rotate(-19.5)" dy="5.6" fill="#77cc22">ST275</text><text transform="translate(834.5,350.5) rotate(-21.7)" dy="5.6" fill="#dd2255">ST369</text><text transform="translate(801.7,287.7) rotate(-33.3)" dy="5.6" fill="#5522dd">ST252</text><text transform="translate(792.4,274.1) rotate(-36)" dy="5.6" fill="#33cc22">ST189</text><text transform="translate(784.7,264) rotate(-38.1)" dy="5.6" fill="#4422dd">ST132</text><text transform="translate(756.1,231.9) rotate(-45.1)" dy="5.6" fill="#2a2ae0">ST699</text><text transform="translate(732.7,210.6) rotate(-50.3)" dy="5.6" fill="#e022aa">ST233</text><text transform="translate(698,185.2) rotate(-57.4)" dy="5.6" fill="#e0531f">ST395</text><text transform="translate(666.1,167) rotate(-63.4)" dy="5.6" fill="#2233dd">ST611</text><text transform="translate(651.2,160) rotate(-66.1)" dy="5.6" fill="#22aadd">ST381</text><text transform="translate(624.1,149.3) rotate(-70.8)" dy="5.6" fill="#e0672a">ST612</text><text transform="translate(609.6,144.6) rotate(-73.3)" dy="5.6" fill="#33cc33">ST242</text><text transform="translate(596.2,140.8) rotate(-75.6)" dy="5.6" fill="#7a2ae0">ST267</text><text transform="translate(540.1,131.2) rotate(95.1)" dy="5.6" text-anchor="end" fill="#dd3311">ST244</text><text transform="translate(458,133.5) rotate(81.6)" dy="5.6" text-anchor="end" fill="#77cc22">ST1247</text><text transform="translate(443,136.1) rotate(79.2)" dy="5.6" text-anchor="end" fill="#88cc22">ST1194</text><text transform="translate(419.5,141.4) rotate(75.2)" dy="5.6" text-anchor="end" fill="#22cc88">ST2105</text><text transform="translate(379.8,154.4) rotate(68.4)" dy="5.6" text-anchor="end" fill="#bb22dd">ST260</text><text transform="translate(357.8,164) rotate(64.5)" dy="5.6" text-anchor="end" fill="#22cc44">ST447</text><text transform="translate(328.8,179.6) rotate(59.1)" dy="5.6" text-anchor="end" fill="#66cc22">ST564</text><text transform="translate(279.6,215.2) rotate(49.1)" dy="5.6" text-anchor="end" fill="#9922dd">ST175</text><text transform="translate(242.1,252.9) rotate(40.4)" dy="5.6" text-anchor="end" fill="#2277dd">ST155</text><text transform="translate(212.9,292.7) rotate(32.4)" dy="5.6" text-anchor="end" fill="#d08a22">ST179</text><text transform="translate(194.3,325.8) rotate(26.2)" dy="5.6" text-anchor="end" fill="#22ccaa">ST385</text><text transform="translate(187.9,339.6) rotate(23.7)" dy="5.6" text-anchor="end" fill="#33cc22">ST379</text><text transform="translate(179,361.9) rotate(19.7)" dy="5.6" text-anchor="end" fill="#dd2244">ST2465</text><text transform="translate(173.4,378.8) rotate(16.8)" dy="5.6" text-anchor="end" fill="#aacc22">ST3437</text><text transform="translate(165.9,408.2) rotate(11.9)" dy="5.6" text-anchor="end" fill="#c4cc22">ST285</text><text transform="translate(160.6,440.7) rotate(6.5)" dy="5.6" text-anchor="end" fill="#dd2222">ST277</text><text transform="translate(158.9,462.2) rotate(3)" dy="5.6" text-anchor="end" fill="#2299dd">ST245</text><text transform="translate(162.6,534.1) rotate(-8.8)" dy="5.6" text-anchor="end" fill="#dd2266">ST17</text><text transform="translate(170.4,571.3) rotate(-15)" dy="5.6" text-anchor="end" fill="#cc22dd">ST170</text><text transform="translate(178.3,596.7) rotate(-19.4)" dy="5.6" text-anchor="end" fill="#22cccc">ST27</text><text transform="translate(196.2,638.6) rotate(-26.9)" dy="5.6" text-anchor="end" fill="#ccbb11">ST274</text><text transform="translate(226.7,688.2) rotate(-36.4)" dy="5.6" text-anchor="end" fill="#dd6611">ST12</text><text transform="translate(296.7,759.2) rotate(-52.7)" dy="5.6" text-anchor="end" fill="#6622dd">ST111</text><text transform="translate(361.6,798.4) rotate(-65.2)" dy="5.6" text-anchor="end" fill="#ddaa22">ST633</text><text transform="translate(399.3,813.2) rotate(-71.8)" dy="5.6" text-anchor="end" fill="#dd22bb">ST560</text><text transform="translate(462.2,827.7) rotate(-82.3)" dy="5.6" text-anchor="end" fill="#22bbdd">ST270</text><text transform="translate(478.6,829.5) rotate(-85)" dy="5.6" text-anchor="end" fill="#dd2277">ST412</text><text transform="translate(526.7,830.4) rotate(-272.9)" dy="5.6" fill="#dd22aa">ST207</text><text transform="translate(560.7,827) rotate(-278.5)" dy="5.6" fill="#dd33dd">ST313</text><text transform="translate(612.5,815.1) rotate(-287.2)" dy="5.6" fill="#dd2233">ST298</text><text transform="translate(636.4,806.8) rotate(-291.3)" dy="5.6" fill="#22cc66">ST446</text><text transform="translate(659.6,796.7) rotate(-295.5)" dy="5.6" fill="#9933dd">ST296</text><text transform="translate(686.5,782.5) rotate(-300.4)" dy="5.6" fill="#33cc22">ST316</text><text transform="translate(699.4,774.5) rotate(-302.9)" dy="5.6" fill="#22cccc">ST309</text><text transform="translate(728.2,753.7) rotate(-308.7)" dy="5.6" fill="#dd8822">ST1632</text><text transform="translate(766.1,718.4) rotate(-317.2)" dy="5.6" fill="#3322dd">ST1225</text><text transform="translate(774.6,708.9) rotate(-319.3)" dy="5.6" fill="#99cc22">ST3218</text><text transform="translate(808.1,662.9) rotate(-328.6)" dy="5.6" fill="#dd2222">ST253</text><text transform="translate(824.4,632.9) rotate(-334.2)" dy="5.6" fill="#22cc88">ST377</text><text transform="translate(831.3,617.9) rotate(-336.9)" dy="5.6" fill="#2266dd">ST308</text><text transform="translate(848,568.8) rotate(-345.4)" dy="5.6" fill="#22cc55">ST235</text><text transform="translate(932.6,481.4) rotate(-90)" text-anchor="end" font-size="15.3" fill="#000">exoU</text><text transform="translate(949.4,481.4) rotate(-90)" text-anchor="end" font-size="15.3" fill="#000">exoS</text><text transform="translate(966.2,481.4) rotate(-90)" text-anchor="end" font-size="15.3" fill="#000">exoY</text><text transform="translate(983.5,481.4) rotate(-90)" text-anchor="end" font-size="15.3" fill="#000">exoT</text></g>
<g fill-opacity="0.7" stroke="none"><path d="M1545.5 69A413 413 0 0 1 1550 69.2Q1528.2 481.6 1528.3 894.6A413 413 0 0 1 1523.8 894.6Q1528.2 481.6 1545.5 69Z" fill="#4f27b0"/><path d="M1844.5 216A413 413 0 0 1 1850.2 223Q1528.2 481.6 1492.4 893A413 413 0 0 1 1483.4 892.2Q1528.2 481.6 1844.5 216Z" fill="#cde44a"/><path d="M1232.1 193.7A413 413 0 0 1 1238.5 187.3Q1528.2 481.6 1799.8 792.7A413 413 0 0 1 1792.9 798.6Q1528.2 481.6 1232.1 193.7Z" fill="#5bb0d3"/><path d="M1716.6 114.1A413 413 0 0 1 1719.2 115.4Q1528.2 481.6 1710.8 852A413 413 0 0 1 1708.1 853.4Q1528.2 481.6 1716.6 114.1Z" fill="#de3333"/><path d="M1639.5 83.9A413 413 0 0 1 1642.4 84.7Q1528.2 481.6 1936.9 421.9A413 413 0 0 1 1937.3 424.9Q1528.2 481.6 1639.5 83.9Z" fill="#d3339a"/><path d="M1159.6 295.3A413 413 0 0 1 1161 292.6Q1528.2 481.6 1721.3 846.7A413 413 0 0 1 1718.6 848.1Q1528.2 481.6 1159.6 295.3Z" fill="#83d33e"/><path d="M1690.5 101.8A413 413 0 0 1 1693.3 103Q1528.2 481.6 1340.4 849.4A413 413 0 0 1 1337.7 848.1Q1528.2 481.6 1690.5 101.8Z" fill="#83de8e"/><path d="M1550 69.2A413 413 0 0 1 1554.6 69.4Q1528.2 481.6 1582.7 891A413 413 0 0 1 1578.2 891.6Q1528.2 481.6 1550 69.2Z" fill="#8ede55"/><path d="M1476 71.9A413 413 0 0 1 1482 71.2Q1528.2 481.6 1118.4 430.4A413 413 0 0 1 1119.2 424.4Q1528.2 481.6 1476 71.9Z" fill="#83de3e"/><path d="M1683.5 98.9A413 413 0 0 1 1687.7 100.7Q1528.2 481.6 1314.6 835.1A413 413 0 0 1 1310.7 832.7Q1528.2 481.6 1683.5 98.9Z" fill="#bc55c7"/><path d="M1161 292.6A413 413 0 0 1 1189.9 244.7Q1528.2 481.6 1869.5 714.2A413 413 0 0 1 1834.9 758.2Q1528.2 481.6 1161 292.6Z" fill="#4c4ab6"/><path d="M1519.8 68.7A413 413 0 0 1 1524.3 68.6Q1528.2 481.6 1353.7 855.9A413 413 0 0 1 1349.6 854Q1528.2 481.6 1519.8 68.7Z" fill="#de7733"/><path d="M1209.9 218.5A413 413 0 0 1 1212.8 215Q1528.2 481.6 1387.7 870A413 413 0 0 1 1383.4 868.4Q1528.2 481.6 1209.9 218.5Z" fill="#b655cd"/><path d="M1663.7 91.5A413 413 0 0 1 1666.6 92.5Q1528.2 481.6 1153.1 654.5A413 413 0 0 1 1151.9 651.7Q1528.2 481.6 1663.7 91.5Z" fill="#5560c7"/><path d="M1554.6 69.4A413 413 0 0 1 1560.6 69.9Q1528.2 481.6 1615.2 885.3A413 413 0 0 1 1609.3 886.6Q1528.2 481.6 1554.6 69.4Z" fill="#b0de4a"/><path d="M1677.9 96.7A413 413 0 0 1 1680.7 97.8Q1528.2 481.6 1267.5 801.9A413 413 0 0 1 1265.2 800Q1528.2 481.6 1677.9 96.7Z" fill="#de6033"/><path d="M1797.7 168.7A413 413 0 0 1 1800 170.6Q1528.2 481.6 1125.9 575A413 413 0 0 1 1125.2 572.1Q1528.2 481.6 1797.7 168.7Z" fill="#7733c7"/><path d="M1334.3 117A413 413 0 0 1 1343.7 112.1Q1528.2 481.6 1468.3 890.2A413 413 0 0 1 1457.9 888.6Q1528.2 481.6 1334.3 117Z" fill="#cde44a"/><path d="M1507.7 69.1A413 413 0 0 1 1512.2 68.9Q1528.2 481.6 1205.5 739.3A413 413 0 0 1 1202.7 735.8Q1528.2 481.6 1507.7 69.1Z" fill="#de8333"/><path d="M1800 170.6A413 413 0 0 1 1805.7 175.7Q1528.2 481.6 1134.6 606.8A413 413 0 0 1 1132.4 599.5Q1528.2 481.6 1800 170.6Z" fill="#8e33c7"/><path d="M1527.3 68.6A413 413 0 0 1 1534.9 68.7Q1528.2 481.6 1402 874.8A413 413 0 0 1 1394.8 872.5Q1528.2 481.6 1527.3 68.6Z" fill="#b655cd"/><path d="M1204.1 225.6A413 413 0 0 1 1208.9 219.7Q1528.2 481.6 1164.4 677.2A413 413 0 0 1 1160.9 670.5Q1528.2 481.6 1204.1 225.6Z" fill="#e7554a"/><path d="M1822 191.4A413 413 0 0 1 1826.3 195.7Q1528.2 481.6 1236 773.5A413 413 0 0 1 1231.8 769.2Q1528.2 481.6 1822 191.4Z" fill="#83e4bc"/><path d="M1148.1 320A413 413 0 0 1 1149.9 315.9Q1528.2 481.6 1226.6 763.7A413 413 0 0 1 1223.5 760.4Q1528.2 481.6 1148.1 320Z" fill="#83e4bc"/><path d="M1712.5 112A413 413 0 0 1 1713.9 112.7Q1528.2 481.6 1662.9 872A413 413 0 0 1 1661.5 872.5Q1528.2 481.6 1712.5 112Z" fill="#de4a16"/><path d="M1658 89.5A413 413 0 0 1 1660.8 90.5Q1528.2 481.6 1118 529.9A413 413 0 0 1 1117.7 526.9Q1528.2 481.6 1658 89.5Z" fill="#5527bc"/><path d="M1838.6 209.1A413 413 0 0 1 1840.5 211.4Q1528.2 481.6 1404.9 875.8A413 413 0 0 1 1402 874.8Q1528.2 481.6 1838.6 209.1Z" fill="#b655cd"/><path d="M1417.1 83.8A413 413 0 0 1 1467.4 73.1Q1528.2 481.6 1909.7 639.7A413 413 0 0 1 1887.1 685.9Q1528.2 481.6 1417.1 83.8Z" fill="#4c4ab6"/><path d="M1911.2 327.2A413 413 0 0 1 1914.5 335.6Q1528.2 481.6 1934.7 408.5A413 413 0 0 1 1936.2 417.4Q1528.2 481.6 1911.2 327.2Z" fill="#d3339a"/><path d="M1362.9 103.1A413 413 0 0 1 1392.5 91.5Q1528.2 481.6 1661.5 872.5A413 413 0 0 1 1631 881.6Q1528.2 481.6 1362.9 103.1Z" fill="#de4a16"/><path d="M1565.1 70.3A413 413 0 0 1 1571.2 70.8Q1528.2 481.6 1689.1 862A413 413 0 0 1 1683.5 864.3Q1528.2 481.6 1565.1 70.3Z" fill="#83de77"/><path d="M1856.8 231.4A413 413 0 0 1 1863.1 239.9Q1528.2 481.6 1701.6 856.4A413 413 0 0 1 1691.9 860.8Q1528.2 481.6 1856.8 231.4Z" fill="#83de77"/><path d="M1153 309A413 413 0 0 1 1154.3 306.2Q1528.2 481.6 1383.4 868.4A413 413 0 0 1 1380.6 867.3Q1528.2 481.6 1153 309Z" fill="#b655cd"/><path d="M1230 195.9A413 413 0 0 1 1232.1 193.7Q1528.2 481.6 1730.3 841.8A413 413 0 0 1 1727.6 843.3Q1528.2 481.6 1230 195.9Z" fill="#4a33bc"/><path d="M1819.9 189.2A413 413 0 0 1 1822 191.4Q1528.2 481.6 1212 747.3A413 413 0 0 1 1210 744.9Q1528.2 481.6 1819.9 189.2Z" fill="#6033c7"/><path d="M1196.8 235.2A413 413 0 0 1 1199.5 231.5Q1528.2 481.6 1116.2 452.3A413 413 0 0 1 1116.6 447.8Q1528.2 481.6 1196.8 235.2Z" fill="#de3355"/><path d="M1140.9 338.3A413 413 0 0 1 1141.4 336.9Q1528.2 481.6 1121 412.8A413 413 0 0 1 1121.2 411.3Q1528.2 481.6 1140.9 338.3Z" fill="#d3831c"/><path d="M1485 70.9A413 413 0 0 1 1492.6 70.1Q1528.2 481.6 1115.5 497.7A413 413 0 0 1 1115.3 490.2Q1528.2 481.6 1485 70.9Z" fill="#8ede4a"/><path d="M1739.1 126.5A413 413 0 0 1 1782.8 156.4Q1528.2 481.6 1938.5 528.7A413 413 0 0 1 1929.1 580.8Q1528.2 481.6 1739.1 126.5Z" fill="#4c4ab6"/><path d="M1574.2 71.2A413 413 0 0 1 1578.7 71.7Q1528.2 481.6 1767.4 818.3A413 413 0 0 1 1763.7 820.9Q1528.2 481.6 1574.2 71.2Z" fill="#de4a1c"/><path d="M1495.6 69.9A413 413 0 0 1 1500.1 69.6Q1528.2 481.6 1132.4 599.5A413 413 0 0 1 1131.1 595.2Q1528.2 481.6 1495.6 69.9Z" fill="#8e33c7"/><path d="M1512.2 68.9A413 413 0 0 1 1515.2 68.8Q1528.2 481.6 1243.4 780.7A413 413 0 0 1 1241.2 778.6Q1528.2 481.6 1512.2 68.9Z" fill="#d3bc33"/><path d="M1707.1 109.3A413 413 0 0 1 1709.8 110.7Q1528.2 481.6 1571.1 892.4A413 413 0 0 1 1568.1 892.7Q1528.2 481.6 1707.1 109.3Z" fill="#de331c"/><path d="M1723.3 117.6A413 413 0 0 1 1739.1 126.5Q1528.2 481.6 1822.9 770.9A413 413 0 0 1 1809.9 783.6Q1528.2 481.6 1723.3 117.6Z" fill="#5bb0d3"/><path d="M1347.8 110.1A413 413 0 0 1 1351.9 108.1Q1528.2 481.6 1560.9 893.3A413 413 0 0 1 1556.4 893.6Q1528.2 481.6 1347.8 110.1Z" fill="#83de60"/><path d="M1868.3 247.3A413 413 0 0 1 1911.2 327.2Q1528.2 481.6 1938.9 438.1A413 413 0 0 1 1938.5 528.7Q1528.2 481.6 1868.3 247.3Z" fill="#4c4ab6"/><path d="M1482 71.2A413 413 0 0 1 1485 70.9Q1528.2 481.6 1117.2 440.6A413 413 0 0 1 1117.6 437.6Q1528.2 481.6 1482 71.2Z" fill="#8ede3e"/><path d="M1351.9 108.1A413 413 0 0 1 1362.9 103.1Q1528.2 481.6 1609.3 886.6A413 413 0 0 1 1597.4 888.8Q1528.2 481.6 1351.9 108.1Z" fill="#b0de4a"/><path d="M1805.7 175.7A413 413 0 0 1 1816.7 186.1Q1528.2 481.6 1185.5 712.1A413 413 0 0 1 1177.3 699.4Q1528.2 481.6 1805.7 175.7Z" fill="#e7554a"/><path d="M1300.5 137.1A413 413 0 0 1 1303 135.4Q1528.2 481.6 1198.3 730.1A413 413 0 0 1 1196.5 727.6Q1528.2 481.6 1300.5 137.1Z" fill="#77dec7"/><path d="M1515.2 68.8A413 413 0 0 1 1519.8 68.7Q1528.2 481.6 1310.7 832.7A413 413 0 0 1 1306.9 830.3Q1528.2 481.6 1515.2 68.8Z" fill="#bc55c7"/><path d="M1238.5 187.3A413 413 0 0 1 1263.1 164.9Q1528.2 481.6 1887.1 685.9A413 413 0 0 1 1869.5 714.2Q1528.2 481.6 1238.5 187.3Z" fill="#4c4ab6"/><path d="M1292.9 142.2A413 413 0 0 1 1300.5 137.1Q1528.2 481.6 1168.8 685.1A413 413 0 0 1 1164.4 677.2Q1528.2 481.6 1292.9 142.2Z" fill="#e7554a"/><path d="M1705.7 108.7A413 413 0 0 1 1707.1 109.3Q1528.2 481.6 1549.2 894.1A413 413 0 0 1 1547.6 894.1Q1528.2 481.6 1705.7 108.7Z" fill="#77d3de"/><path d="M1318.4 125.8A413 413 0 0 1 1321 124.3Q1528.2 481.6 1337.7 848.1A413 413 0 0 1 1335 846.6Q1528.2 481.6 1318.4 125.8Z" fill="#83de8e"/><path d="M1309.4 131.3A413 413 0 0 1 1310.7 130.5Q1528.2 481.6 1265.2 800A413 413 0 0 1 1264 799.1Q1528.2 481.6 1309.4 131.3Z" fill="#de6033"/><path d="M1144.1 329.8A413 413 0 0 1 1148.1 320Q1528.2 481.6 1160.9 670.5A413 413 0 0 1 1156.2 661Q1528.2 481.6 1144.1 329.8Z" fill="#e7554a"/><path d="M1666.6 92.5A413 413 0 0 1 1675.1 95.6Q1528.2 481.6 1177.3 699.4A413 413 0 0 1 1172.6 691.7Q1528.2 481.6 1666.6 92.5Z" fill="#e7554a"/><path d="M1227.9 198.1A413 413 0 0 1 1230 195.9Q1528.2 481.6 1547.6 894.1A413 413 0 0 1 1544.6 894.3Q1528.2 481.6 1227.9 198.1Z" fill="#77d3de"/><path d="M1571.2 70.8A413 413 0 0 1 1574.2 71.2Q1528.2 481.6 1739.1 836.7A413 413 0 0 1 1736.5 838.2Q1528.2 481.6 1571.2 70.8Z" fill="#77de8e"/><path d="M1327.6 120.6A413 413 0 0 1 1331.6 118.4Q1528.2 481.6 1416.1 879.1A413 413 0 0 1 1411.8 877.9Q1528.2 481.6 1327.6 120.6Z" fill="#7733bc"/><path d="M1404 87.7A413 413 0 0 1 1417.1 83.8Q1528.2 481.6 1809.9 783.6A413 413 0 0 1 1799.8 792.7Q1528.2 481.6 1404 87.7Z" fill="#5bb0d3"/><path d="M1158.2 298A413 413 0 0 1 1159.6 295.3Q1528.2 481.6 1597.4 888.8A413 413 0 0 1 1594.4 889.3Q1528.2 481.6 1158.2 298Z" fill="#b0de4a"/><path d="M1212.8 215A413 413 0 0 1 1214.7 212.7Q1528.2 481.6 1457.9 888.6A413 413 0 0 1 1454.9 888Q1528.2 481.6 1212.8 215Z" fill="#cde44a"/><path d="M1697.5 104.9A413 413 0 0 1 1705.7 108.7Q1528.2 481.6 1537.4 894.5A413 413 0 0 1 1528.3 894.6Q1528.2 481.6 1697.5 104.9Z" fill="#4f27b0"/><path d="M1826.3 195.7A413 413 0 0 1 1828.4 197.9Q1528.2 481.6 1245.6 782.7A413 413 0 0 1 1243.4 780.7Q1528.2 481.6 1826.3 195.7Z" fill="#d3bc33"/><path d="M1524.3 68.6A413 413 0 0 1 1527.3 68.6Q1528.2 481.6 1363 860.1A413 413 0 0 1 1360.3 858.9Q1528.2 481.6 1524.3 68.6Z" fill="#d34aa5"/><path d="M1154.3 306.2A413 413 0 0 1 1158.2 298Q1528.2 481.6 1454.9 888A413 413 0 0 1 1446 886.3Q1528.2 481.6 1154.3 306.2Z" fill="#cde44a"/><path d="M1675.1 95.6A413 413 0 0 1 1677.9 96.7Q1528.2 481.6 1218.7 755A413 413 0 0 1 1216.7 752.7Q1528.2 481.6 1675.1 95.6Z" fill="#d3de4a"/><path d="M1331.6 118.4A413 413 0 0 1 1334.3 117Q1528.2 481.6 1436 884.2A413 413 0 0 1 1433 883.5Q1528.2 481.6 1331.6 118.4Z" fill="#b0de33"/><path d="M1272.3 157.5A413 413 0 0 1 1277 153.7Q1528.2 481.6 1120.3 546A413 413 0 0 1 1119.4 540Q1528.2 481.6 1272.3 157.5Z" fill="#83e4c7"/><path d="M1713.9 112.7A413 413 0 0 1 1716.6 114.1Q1528.2 481.6 1691.9 860.8A413 413 0 0 1 1689.1 862Q1528.2 481.6 1713.9 112.7Z" fill="#83de77"/><path d="M1835.5 205.7A413 413 0 0 1 1838.6 209.1Q1528.2 481.6 1373.9 864.7A413 413 0 0 1 1369.7 863Q1528.2 481.6 1835.5 205.7Z" fill="#bc4ac7"/><path d="M1199.5 231.5A413 413 0 0 1 1200.4 230.3Q1528.2 481.6 1116.1 509.5A413 413 0 0 1 1116 508Q1528.2 481.6 1199.5 231.5Z" fill="#de6016"/><path d="M1263.1 164.9A413 413 0 0 1 1264.3 163.9Q1528.2 481.6 1937.5 426.4A413 413 0 0 1 1937.7 427.9Q1528.2 481.6 1263.1 164.9Z" fill="#d3339a"/><path d="M1866.6 244.8A413 413 0 0 1 1868.3 247.3Q1528.2 481.6 1830 763.5A413 413 0 0 1 1827.9 765.7Q1528.2 481.6 1866.6 244.8Z" fill="#a533c7"/><path d="M1343.7 112.1A413 413 0 0 1 1347.8 110.1Q1528.2 481.6 1523.8 894.6A413 413 0 0 1 1519.2 894.5Q1528.2 481.6 1343.7 112.1Z" fill="#4f27b0"/><path d="M1398.2 89.6A413 413 0 0 1 1404 87.7Q1528.2 481.6 1778.1 810.4A413 413 0 0 1 1773.2 814.1Q1528.2 481.6 1398.2 89.6Z" fill="#d3a51c"/><path d="M1840.5 211.4A413 413 0 0 1 1842.5 213.7Q1528.2 481.6 1426 881.8A413 413 0 0 1 1423.1 881Q1528.2 481.6 1840.5 211.4Z" fill="#77d3ea"/><path d="M1311.9 129.7A413 413 0 0 1 1318.4 125.8Q1528.2 481.6 1306.9 830.3A413 413 0 0 1 1300.5 826.2Q1528.2 481.6 1311.9 129.7Z" fill="#bc55c7"/><path d="M1660.8 90.5A413 413 0 0 1 1663.7 91.5Q1528.2 481.6 1141.3 626.1A413 413 0 0 1 1140.3 623.3Q1528.2 481.6 1660.8 90.5Z" fill="#5555c7"/><path d="M1842.5 213.7A413 413 0 0 1 1844.5 216Q1528.2 481.6 1438.9 884.8A413 413 0 0 1 1436 884.2Q1528.2 481.6 1842.5 213.7Z" fill="#b0de33"/><path d="M1500.1 69.6A413 413 0 0 1 1507.7 69.1Q1528.2 481.6 1172.6 691.7A413 413 0 0 1 1168.8 685.1Q1528.2 481.6 1500.1 69.6Z" fill="#e7554a"/><path d="M1310.7 130.5A413 413 0 0 1 1311.9 129.7Q1528.2 481.6 1281.3 812.7A413 413 0 0 1 1280.1 811.8Q1528.2 481.6 1310.7 130.5Z" fill="#d34a77"/><path d="M1288 145.6A413 413 0 0 1 1290.5 143.9Q1528.2 481.6 1137.8 616.5A413 413 0 0 1 1136.9 613.6Q1528.2 481.6 1288 145.6Z" fill="#8e3ec7"/><path d="M1709.8 110.7A413 413 0 0 1 1712.5 112Q1528.2 481.6 1618.1 884.7A413 413 0 0 1 1615.2 885.3Q1528.2 481.6 1709.8 110.7Z" fill="#b0de4a"/><path d="M1467.4 73.1A413 413 0 0 1 1468.9 72.9Q1528.2 481.6 1937.3 424.9A413 413 0 0 1 1937.5 426.4Q1528.2 481.6 1467.4 73.1Z" fill="#d3339a"/><path d="M1850.2 223A413 413 0 0 1 1853.1 226.6Q1528.2 481.6 1587.2 890.4A413 413 0 0 1 1582.7 891Q1528.2 481.6 1850.2 223Z" fill="#8ede55"/><path d="M1189.9 244.7A413 413 0 0 1 1191.6 242.2Q1528.2 481.6 1937.7 427.9A413 413 0 0 1 1938.1 430.9Q1528.2 481.6 1189.9 244.7Z" fill="#d3339a"/><path d="M1141.4 336.9A413 413 0 0 1 1142.5 334.1Q1528.2 481.6 1119.4 422.9A413 413 0 0 1 1119.8 419.9Q1528.2 481.6 1141.4 336.9Z" fill="#83de3e"/><path d="M1395.4 90.5A413 413 0 0 1 1398.2 89.6Q1528.2 481.6 1747.9 831.3A413 413 0 0 1 1745.3 832.9Q1528.2 481.6 1395.4 90.5Z" fill="#6033bc"/><path d="M1791.9 163.8A413 413 0 0 1 1794.3 165.7Q1528.2 481.6 1115.6 500.8A413 413 0 0 1 1115.5 497.7Q1528.2 481.6 1791.9 163.8Z" fill="#8ede4a"/><path d="M1303 135.4A413 413 0 0 1 1309.4 131.3Q1528.2 481.6 1231.8 769.2A413 413 0 0 1 1226.6 763.7Q1528.2 481.6 1303 135.4Z" fill="#83e4bc"/><path d="M1269.9 159.4A413 413 0 0 1 1272.3 157.5Q1528.2 481.6 1117 519.7A413 413 0 0 1 1116.7 516.7Q1528.2 481.6 1269.9 159.4Z" fill="#83de4a"/><path d="M1693.3 103A413 413 0 0 1 1697.5 104.9Q1528.2 481.6 1483.4 892.2A413 413 0 0 1 1478.9 891.6Q1528.2 481.6 1693.3 103Z" fill="#cde44a"/><path d="M1833.5 203.5A413 413 0 0 1 1835.5 205.7Q1528.2 481.6 1343.1 850.8A413 413 0 0 1 1340.4 849.4Q1528.2 481.6 1833.5 203.5Z" fill="#83de8e"/><path d="M1202.3 227.9A413 413 0 0 1 1204.1 225.6Q1528.2 481.6 1148.9 645.1A413 413 0 0 1 1147.8 642.3Q1528.2 481.6 1202.3 227.9Z" fill="#d3de3e"/><path d="M1290.5 143.9A413 413 0 0 1 1292.9 142.2Q1528.2 481.6 1145 635.7A413 413 0 0 1 1143.9 632.8Q1528.2 481.6 1290.5 143.9Z" fill="#833ec7"/><path d="M1492.6 70.1A413 413 0 0 1 1495.6 69.9Q1528.2 481.6 1122.8 560.6A413 413 0 0 1 1122.2 557.6Q1528.2 481.6 1492.6 70.1Z" fill="#b0de3e"/><path d="M1864 241.1A413 413 0 0 1 1866.6 244.8Q1528.2 481.6 1757.7 825A413 413 0 0 1 1753.9 827.5Q1528.2 481.6 1864 241.1Z" fill="#d3338e"/><path d="M1208.9 219.7A413 413 0 0 1 1209.9 218.5Q1528.2 481.6 1252 788.6A413 413 0 0 1 1250.9 787.6Q1528.2 481.6 1208.9 219.7Z" fill="#83de77"/><path d="M1534.9 68.7A413 413 0 0 1 1545.5 69Q1528.2 481.6 1478.9 891.6A413 413 0 0 1 1468.3 890.2Q1528.2 481.6 1534.9 68.7Z" fill="#cde44a"/><path d="M1277 153.7A413 413 0 0 1 1288 145.6Q1528.2 481.6 1131.1 595.2A413 413 0 0 1 1127.6 582Q1528.2 481.6 1277 153.7Z" fill="#8e33c7"/><path d="M1142.5 334.1A413 413 0 0 1 1144.1 329.8Q1528.2 481.6 1122.2 557.6A413 413 0 0 1 1121.4 553.1Q1528.2 481.6 1142.5 334.1Z" fill="#b0de3e"/><path d="M1195.9 236.4A413 413 0 0 1 1196.8 235.2Q1528.2 481.6 1119.2 424.4A413 413 0 0 1 1119.4 422.9Q1528.2 481.6 1195.9 236.4Z" fill="#83de3e"/><path d="M1200.4 230.3A413 413 0 0 1 1202.3 227.9Q1528.2 481.6 1119.4 540A413 413 0 0 1 1118.9 537Q1528.2 481.6 1200.4 230.3Z" fill="#83e4c7"/><path d="M1816.7 186.1A413 413 0 0 1 1819.9 189.2Q1528.2 481.6 1192.2 721.8A413 413 0 0 1 1189.6 718.1Q1528.2 481.6 1816.7 186.1Z" fill="#c74abc"/><path d="M1863.1 239.9A413 413 0 0 1 1864 241.1Q1528.2 481.6 1712.2 851.4A413 413 0 0 1 1710.8 852Q1528.2 481.6 1863.1 239.9Z" fill="#de3333"/><path d="M1392.5 91.5A413 413 0 0 1 1395.4 90.5Q1528.2 481.6 1683.5 864.3A413 413 0 0 1 1680.7 865.4Q1528.2 481.6 1392.5 91.5Z" fill="#83de77"/><path d="M1829.4 199A413 413 0 0 1 1833.5 203.5Q1528.2 481.6 1319.8 838.2A413 413 0 0 1 1314.6 835.1Q1528.2 481.6 1829.4 199Z" fill="#bc55c7"/><path d="M1853.1 226.6A413 413 0 0 1 1856.8 231.4Q1528.2 481.6 1624 883.3A413 413 0 0 1 1618.1 884.7Q1528.2 481.6 1853.1 226.6Z" fill="#b0de4a"/><path d="M1652.2 87.7A413 413 0 0 1 1655.1 88.6Q1528.2 481.6 1115.3 472.7A413 413 0 0 1 1115.4 469.7Q1528.2 481.6 1652.2 87.7Z" fill="#556cc7"/><path d="M1794.3 165.7A413 413 0 0 1 1797.7 168.7Q1528.2 481.6 1123.7 565A413 413 0 0 1 1122.8 560.6Q1528.2 481.6 1794.3 165.7Z" fill="#b0de3e"/><path d="M1782.8 156.4A413 413 0 0 1 1786.3 159.2Q1528.2 481.6 1936.2 417.4A413 413 0 0 1 1936.9 421.9Q1528.2 481.6 1782.8 156.4Z" fill="#d3339a"/><path d="M1649.3 86.8A413 413 0 0 1 1652.2 87.7Q1528.2 481.6 1115.6 462.5A413 413 0 0 1 1115.8 459.5Q1528.2 481.6 1649.3 86.8Z" fill="#4aa5d3"/><path d="M1578.7 71.7A413 413 0 0 1 1639.5 83.9Q1528.2 481.6 1929.1 580.8A413 413 0 0 1 1909.7 639.7Q1528.2 481.6 1578.7 71.7Z" fill="#4c4ab6"/><path d="M1150.5 314.5A413 413 0 0 1 1153 309Q1528.2 481.6 1300.5 826.2A413 413 0 0 1 1295.5 822.8Q1528.2 481.6 1150.5 314.5Z" fill="#bc55c7"/><path d="M1149.9 315.9A413 413 0 0 1 1150.5 314.5Q1528.2 481.6 1258.5 794.4A413 413 0 0 1 1257.4 793.4Q1528.2 481.6 1149.9 315.9Z" fill="#9ade4a"/><path d="M1321 124.3A413 413 0 0 1 1327.6 120.6Q1528.2 481.6 1394.8 872.5A413 413 0 0 1 1387.7 870Q1528.2 481.6 1321 124.3Z" fill="#b655cd"/><path d="M1828.4 197.9A413 413 0 0 1 1829.4 199Q1528.2 481.6 1274.4 807.4A413 413 0 0 1 1273.2 806.4Q1528.2 481.6 1828.4 197.9Z" fill="#de334a"/><path d="M1655.1 88.6A413 413 0 0 1 1658 89.5Q1528.2 481.6 1115.2 483A413 413 0 0 1 1115.2 479.9Q1528.2 481.6 1655.1 88.6Z" fill="#9ade3e"/><path d="M1214.7 212.7A413 413 0 0 1 1227.9 198.1Q1528.2 481.6 1519.2 894.5A413 413 0 0 1 1499.6 893.6Q1528.2 481.6 1214.7 212.7Z" fill="#4f27b0"/><path d="M1719.2 115.4A413 413 0 0 1 1723.3 117.6Q1528.2 481.6 1787.3 803.2A413 413 0 0 1 1783.8 806Q1528.2 481.6 1719.2 115.4Z" fill="#5577d3"/><path d="M1687.7 100.7A413 413 0 0 1 1690.5 101.8Q1528.2 481.6 1328.7 843.2A413 413 0 0 1 1326.1 841.7Q1528.2 481.6 1687.7 100.7Z" fill="#6083d3"/><path d="M1680.7 97.8A413 413 0 0 1 1683.5 98.9Q1528.2 481.6 1289.6 818.7A413 413 0 0 1 1287.1 816.9Q1528.2 481.6 1680.7 97.8Z" fill="#d38e33"/><path d="M1560.6 69.9A413 413 0 0 1 1565.1 70.3Q1528.2 481.6 1674 868A413 413 0 0 1 1669.7 869.6Q1528.2 481.6 1560.6 69.9Z" fill="#de3360"/></g>
<path d="M1123.2 331.8A431.8 431.8 0 0 1 1176.3 231.3L1182.4 235.7A424.3 424.3 0 0 0 1130.3 334.4Z" fill="#bdbdbd"/><path d="M1123.2 331.8A431.8 431.8 0 0 1 1176.3 231.3M1123.2 331.8L1120.4 330.8M1129 317.1L1127.1 316.3M1135.3 302.5L1133.5 301.7M1142.1 288.3L1140.3 287.4M1149.5 274.2L1147.7 273.3M1157.3 260.5L1154.7 259M1165.7 247L1164 246M1174.5 233.9L1172.9 232.8" fill="none" stroke="#000" stroke-width="1"/><path d="M1180.7 225.2A431.8 431.8 0 0 1 1252.3 149.4L1257.1 155.2A424.3 424.3 0 0 0 1186.8 229.7Z" fill="#bdbdbd"/><path d="M1180.7 225.2A431.8 431.8 0 0 1 1252.3 149.4M1180.7 225.2L1178.3 223.4M1190.4 212.7L1188.8 211.4M1200.5 200.5L1198.9 199.2M1211 188.6L1209.5 187.3M1221.9 177.2L1220.5 175.8M1233.3 166.2L1231.2 164M1245.1 155.6L1243.7 154.1" fill="none" stroke="#000" stroke-width="1"/><path d="M1258.1 144.7A431.8 431.8 0 0 1 1466.2 54.3L1467.2 61.7A424.3 424.3 0 0 0 1262.8 150.5Z" fill="#bdbdbd"/><path d="M1258.1 144.7A431.8 431.8 0 0 1 1466.2 54.3M1258.1 144.7L1256.3 142.3M1270.7 135L1269.5 133.4M1283.5 125.8L1282.4 124.2M1296.7 117.1L1295.7 115.4M1310.3 108.8L1309.2 107.1M1324.1 101.1L1322.6 98.5M1338.1 93.9L1337.3 92.1M1352.5 87.2L1351.7 85.3M1367.1 81L1366.3 79.1M1381.8 75.4L1381.2 73.5M1396.8 70.3L1395.9 67.4M1412 65.7L1411.5 63.8M1427.3 61.8L1426.8 59.8M1442.8 58.3L1442.4 56.4M1458.3 55.5L1458 53.5" fill="none" stroke="#000" stroke-width="1"/><path d="M1473.6 53.3A431.8 431.8 0 0 1 1647.6 66.6L1645.5 73.8A424.3 424.3 0 0 0 1474.6 60.7Z" fill="#bdbdbd"/><path d="M1473.6 53.3A431.8 431.8 0 0 1 1647.6 66.6M1473.6 53.3L1473.2 50.3M1489.4 51.6L1489.2 49.6M1505.1 50.4L1505 48.4M1521 49.9L1520.9 47.9M1536.8 49.9L1536.8 47.9M1552.6 50.5L1552.8 47.5M1568.4 51.7L1568.6 49.7M1584.1 53.4L1584.4 51.5M1599.8 55.8L1600.1 53.8M1615.3 58.7L1615.7 56.7M1630.8 62.2L1631.5 59.2M1646.1 66.2L1646.6 64.3" fill="none" stroke="#000" stroke-width="1"/><path d="M1654.8 68.8A431.8 431.8 0 0 1 1798.1 144.5L1793.4 150.4A424.3 424.3 0 0 0 1652.6 76Z" fill="#bdbdbd"/><path d="M1654.8 68.8A431.8 431.8 0 0 1 1798.1 144.5M1654.8 68.8L1655.7 65.9M1669.9 73.7L1670.5 71.8M1684.7 79.2L1685.4 77.3M1699.4 85.2L1700.2 83.3M1713.8 91.7L1714.6 89.9M1727.9 98.8L1729.3 96.1M1741.8 106.4L1742.8 104.6M1755.4 114.4L1756.5 112.7M1768.8 123L1769.9 121.4M1781.7 132.1L1782.9 130.4M1794.4 141.6L1796.2 139.2" fill="none" stroke="#000" stroke-width="1"/><path d="M1803.9 149.3A431.8 431.8 0 0 1 1932.1 329L1925.1 331.6A424.3 424.3 0 0 0 1799.1 155.1Z" fill="#bdbdbd"/><path d="M1803.9 149.3A431.8 431.8 0 0 1 1932.1 329M1803.9 149.3L1805.9 147M1815.9 159.6L1817.3 158.1M1827.5 170.4L1828.9 169M1838.7 181.6L1840.2 180.2M1849.5 193.2L1851 191.8M1859.9 205.1L1862.2 203.2M1869.8 217.5L1871.4 216.2M1879.2 230.2L1880.9 229M1888.2 243.2L1889.9 242.1M1896.7 256.6L1898.4 255.5M1904.7 270.2L1907.3 268.7M1912.2 284.2L1914 283.2M1919.2 298.4L1921 297.5M1925.6 312.8L1927.5 312M1931.6 327.5L1933.4 326.8" fill="none" stroke="#000" stroke-width="1"/><path d="M1953.2 405.1A431.8 431.8 0 0 1 1956.7 428.6L1949.3 429.5A424.3 424.3 0 0 0 1945.8 406.5Z" fill="#cc1188"/><path d="M1957.6 436.1A431.8 431.8 0 0 1 1848.8 770.8L1843.3 765.8A424.3 424.3 0 0 0 1950.1 436.9Z" fill="#1344cc"/><path d="M1843.8 776.3A431.8 431.8 0 0 1 1841.6 778.7L1836.1 773.5A424.3 424.3 0 0 0 1838.3 771.2Z" fill="#aa22cc"/><path d="M1836.4 784.1A431.8 431.8 0 0 1 1805 813L1800.1 807.3A424.3 424.3 0 0 0 1831 778.8Z" fill="#18a8cc"/><path d="M1799.1 817.8A431.8 431.8 0 0 1 1795.4 820.8L1790.8 814.9A424.3 424.3 0 0 0 1794.4 812Z" fill="#2288dd"/><path d="M1789.5 825.4A431.8 431.8 0 0 1 1784.4 829.2L1779.9 823.2A424.3 424.3 0 0 0 1784.9 819.4Z" fill="#ddaa22"/><path d="M1778.3 833.6A431.8 431.8 0 0 1 1774.4 836.3L1770.1 830.2A424.3 424.3 0 0 0 1773.9 827.5Z" fill="#cc4411"/><path d="M1768.2 840.6A431.8 431.8 0 0 1 1764.2 843.2L1760.1 836.9A424.3 424.3 0 0 0 1764 834.3Z" fill="#cc1188"/><path d="M1757.9 847.3A431.8 431.8 0 0 1 1755.2 848.9L1751.2 842.6A424.3 424.3 0 0 0 1753.9 840.9Z" fill="#2222dd"/><path d="M1748.7 852.8A431.8 431.8 0 0 1 1746 854.4L1742.2 848A424.3 424.3 0 0 0 1744.9 846.4Z" fill="#22cc99"/><path d="M1739.5 858.2A431.8 431.8 0 0 1 1736.7 859.7L1733.1 853.2A424.3 424.3 0 0 0 1735.8 851.7Z" fill="#2222cc"/><path d="M1730.1 863.3A431.8 431.8 0 0 1 1727.3 864.8L1723.8 858.1A424.3 424.3 0 0 0 1726.6 856.7Z" fill="#22cc22"/><path d="M1720.5 868.2A431.8 431.8 0 0 1 1716.3 870.3L1713 863.5A424.3 424.3 0 0 0 1717.2 861.5Z" fill="#cc1122"/><path d="M1709.5 873.5A431.8 431.8 0 0 1 1687.6 882.9L1684.9 875.9A424.3 424.3 0 0 0 1706.3 866.7Z" fill="#22cc66"/><path d="M1680.6 885.6A431.8 431.8 0 0 1 1676.2 887.3L1673.6 880.2A424.3 424.3 0 0 0 1678 878.6Z" fill="#cc1166"/><path d="M1669.1 889.8A431.8 431.8 0 0 1 1635.7 899.8L1633.9 892.5A424.3 424.3 0 0 0 1666.6 882.7Z" fill="#cc2211"/><path d="M1628.4 901.6A431.8 431.8 0 0 1 1597.4 907.8L1596.2 900.4A424.3 424.3 0 0 0 1626.7 894.3Z" fill="#88cc22"/><path d="M1589.9 909A431.8 431.8 0 0 1 1580.5 910.2L1579.6 902.8A424.3 424.3 0 0 0 1588.9 901.5Z" fill="#33cc22"/><path d="M1573 911.1A431.8 431.8 0 0 1 1569.9 911.4L1569.2 903.9A424.3 424.3 0 0 0 1572.2 903.6Z" fill="#cc2211"/><path d="M1562.4 912A431.8 431.8 0 0 1 1557.6 912.4L1557.1 904.9A424.3 424.3 0 0 0 1561.8 904.6Z" fill="#22cc33"/><path d="M1550.1 912.8A431.8 431.8 0 0 1 1545.4 913.1L1545.1 905.6A424.3 424.3 0 0 0 1549.7 905.4Z" fill="#22cccc"/><path d="M1537.8 913.3A431.8 431.8 0 0 1 1498.3 912.4L1498.8 904.9A424.3 424.3 0 0 0 1537.7 905.8Z" fill="#2211cc"/><path d="M1490.8 911.8A431.8 431.8 0 0 1 1442.2 904.8L1443.7 897.4A424.3 424.3 0 0 0 1491.4 904.3Z" fill="#aacc11"/><path d="M1434.9 903.2A431.8 431.8 0 0 1 1428.7 901.8L1430.4 894.5A424.3 424.3 0 0 0 1436.5 895.9Z" fill="#88cc22"/><path d="M1421.4 900A431.8 431.8 0 0 1 1418.3 899.2L1420.2 891.9A424.3 424.3 0 0 0 1423.2 892.7Z" fill="#22bbdd"/><path d="M1411 897.2A431.8 431.8 0 0 1 1406.5 895.9L1408.6 888.7A424.3 424.3 0 0 0 1413.1 890Z" fill="#7711cc"/><path d="M1399.3 893.7A431.8 431.8 0 0 1 1373.8 884.9L1376.5 877.9A424.3 424.3 0 0 0 1401.5 886.5Z" fill="#cc11cc"/><path d="M1366.8 882.1A431.8 431.8 0 0 1 1362.4 880.3L1365.3 873.4A424.3 424.3 0 0 0 1369.6 875.2Z" fill="#aa11cc"/><path d="M1355.5 877.4A431.8 431.8 0 0 1 1352.6 876.1L1355.7 869.2A424.3 424.3 0 0 0 1358.5 870.5Z" fill="#cc11aa"/><path d="M1345.8 873A431.8 431.8 0 0 1 1341.5 870.9L1344.7 864.2A424.3 424.3 0 0 0 1348.9 866.2Z" fill="#cc6611"/><path d="M1334.7 867.6A431.8 431.8 0 0 1 1326.3 863.3L1329.8 856.6A424.3 424.3 0 0 0 1338.1 860.9Z" fill="#22cc88"/><path d="M1319.6 859.7A431.8 431.8 0 0 1 1316.9 858.1L1320.5 851.6A424.3 424.3 0 0 0 1323.2 853.1Z" fill="#2277dd"/><path d="M1310.3 854.4A431.8 431.8 0 0 1 1284.9 838.3L1289.1 832.1A424.3 424.3 0 0 0 1314.1 847.9Z" fill="#cc11aa"/><path d="M1278.7 834A431.8 431.8 0 0 1 1276.1 832.2L1280.5 826.1A424.3 424.3 0 0 0 1283 827.9Z" fill="#dd9922"/><path d="M1270.1 827.7A431.8 431.8 0 0 1 1268.8 826.8L1273.3 820.8A424.3 424.3 0 0 0 1274.5 821.7Z" fill="#cc1166"/><path d="M1262.8 822.2A431.8 431.8 0 0 1 1261.6 821.2L1266.2 815.3A424.3 424.3 0 0 0 1267.4 816.3Z" fill="#cc1133"/><path d="M1255.7 816.5A431.8 431.8 0 0 1 1252 813.5L1256.8 807.7A424.3 424.3 0 0 0 1260.4 810.7Z" fill="#cc4411"/><path d="M1246.2 808.6A431.8 431.8 0 0 1 1245.1 807.6L1250 801.9A424.3 424.3 0 0 0 1251.1 803Z" fill="#22cc33"/><path d="M1239.4 802.6A431.8 431.8 0 0 1 1238.2 801.6L1243.3 796A424.3 424.3 0 0 0 1244.4 797Z" fill="#66cc22"/><path d="M1232.7 796.4A431.8 431.8 0 0 1 1228.1 792.1L1233.3 786.7A424.3 424.3 0 0 0 1237.8 791Z" fill="#ccbb22"/><path d="M1222.7 786.8A431.8 431.8 0 0 1 1209.6 773.1L1215.1 768A424.3 424.3 0 0 0 1228 781.5Z" fill="#22cc99"/><path d="M1204.6 767.5A431.8 431.8 0 0 1 1202.5 765.1L1208.1 760.2A424.3 424.3 0 0 0 1210.2 762.5Z" fill="#cccc11"/><path d="M1197.6 759.4A431.8 431.8 0 0 1 1195.6 756.9L1201.3 752.1A424.3 424.3 0 0 0 1203.3 754.5Z" fill="#4411cc"/><path d="M1190.8 751.1A431.8 431.8 0 0 1 1187.9 747.3L1193.8 742.7A424.3 424.3 0 0 0 1196.7 746.4Z" fill="#cc7711"/><path d="M1183.3 741.4A431.8 431.8 0 0 1 1181.4 738.8L1187.4 734.4A424.3 424.3 0 0 0 1189.3 736.9Z" fill="#22ccaa"/><path d="M1176.9 732.7A431.8 431.8 0 0 1 1174.2 728.9L1180.4 724.6A424.3 424.3 0 0 0 1183 728.4Z" fill="#cc11aa"/><path d="M1169.9 722.6A431.8 431.8 0 0 1 1139.3 669.1L1146 665.9A424.3 424.3 0 0 0 1176.2 718.5Z" fill="#cc1133"/><path d="M1136 662.3A431.8 431.8 0 0 1 1134.7 659.4L1141.6 656.4A424.3 424.3 0 0 0 1142.9 659.2Z" fill="#2255dd"/><path d="M1131.7 652.6A431.8 431.8 0 0 1 1130.4 649.6L1137.3 646.7A424.3 424.3 0 0 0 1138.6 649.6Z" fill="#bbcc11"/><path d="M1127.6 642.7A431.8 431.8 0 0 1 1126.4 639.7L1133.4 637A424.3 424.3 0 0 0 1134.5 639.9Z" fill="#6611cc"/><path d="M1123.7 632.7A431.8 431.8 0 0 1 1122.6 629.7L1129.6 627.2A424.3 424.3 0 0 0 1130.7 630.1Z" fill="#2244dd"/><path d="M1120.1 622.6A431.8 431.8 0 0 1 1119.1 619.6L1126.2 617.2A424.3 424.3 0 0 0 1127.2 620.2Z" fill="#8811cc"/><path d="M1116.7 612.5A431.8 431.8 0 0 1 1109.4 586.6L1116.6 584.8A424.3 424.3 0 0 0 1123.9 610.2Z" fill="#9911dd"/><path d="M1107.6 579.3A431.8 431.8 0 0 1 1106.9 576.2L1114.2 574.5A424.3 424.3 0 0 0 1114.9 577.6Z" fill="#5511cc"/><path d="M1105.3 568.8A431.8 431.8 0 0 1 1102.9 556.4L1110.3 555.1A424.3 424.3 0 0 0 1112.6 567.3Z" fill="#77cc22"/><path d="M1101.7 548.9A431.8 431.8 0 0 1 1100.3 539.5L1107.7 538.5A424.3 424.3 0 0 0 1109.1 547.8Z" fill="#22ccbb"/><path d="M1099.4 532.1A431.8 431.8 0 0 1 1099 528.9L1106.5 528.1A424.3 424.3 0 0 0 1106.8 531.2Z" fill="#2211cc"/><path d="M1098.2 521.4A431.8 431.8 0 0 1 1098 518.3L1105.4 517.6A424.3 424.3 0 0 0 1105.7 520.7Z" fill="#22cc66"/><path d="M1097.4 510.7A431.8 431.8 0 0 1 1097.3 509.2L1104.8 508.7A424.3 424.3 0 0 0 1104.9 510.2Z" fill="#cc5511"/><path d="M1096.9 501.6A431.8 431.8 0 0 1 1096.5 490.6L1104 490.4A424.3 424.3 0 0 0 1104.4 501.3Z" fill="#22cc22"/><path d="M1096.4 483A431.8 431.8 0 0 1 1096.4 479.9L1103.9 479.9A424.3 424.3 0 0 0 1103.9 483Z" fill="#55cc22"/><path d="M1096.5 472.3A431.8 431.8 0 0 1 1096.6 469.2L1104.1 469.4A424.3 424.3 0 0 0 1104 472.5Z" fill="#2266dd"/><path d="M1096.9 461.6A431.8 431.8 0 0 1 1097 458.5L1104.5 458.9A424.3 424.3 0 0 0 1104.4 462Z" fill="#22aadd"/><path d="M1097.5 451A431.8 431.8 0 0 1 1097.9 446.2L1105.3 446.8A424.3 424.3 0 0 0 1105 451.5Z" fill="#cc1144"/><path d="M1098.5 438.7A431.8 431.8 0 0 1 1098.9 435.6L1106.3 436.4A424.3 424.3 0 0 0 1106 439.5Z" fill="#55cc22"/><path d="M1099.7 428.1A431.8 431.8 0 0 1 1101.2 417.1L1108.7 418.2A424.3 424.3 0 0 0 1107.2 429Z" fill="#22cc55"/><path d="M1102.4 409.7A431.8 431.8 0 0 1 1102.7 408.1L1110.1 409.4A424.3 424.3 0 0 0 1109.8 410.9Z" fill="#dd8822"/>
<g font-family="'Liberation Sans',sans-serif" fill="#000"><text transform="translate(1119.5,330.4) rotate(-69.7)" dx="-1.5" font-size="15.6" text-anchor="start">0</text><text transform="translate(1153.9,258.4) rotate(-59.2)" dx="0" font-size="15.6" text-anchor="middle">50</text><text transform="translate(1117.7,264.6) rotate(-62.1)" font-size="19.1" text-anchor="middle">Australia</text><text transform="translate(1177.5,222.9) rotate(-53.6)" dx="-1.5" font-size="15.6" text-anchor="start">0</text><text transform="translate(1230.6,163.3) rotate(-43.1)" dx="0" font-size="15.6" text-anchor="middle">50</text><text transform="translate(1190.6,162.9) rotate(-46.6)" font-size="19.1" text-anchor="middle">Greece</text><text transform="translate(1255.6,141.6) rotate(-38.7)" dx="-1.5" font-size="15.6" text-anchor="start">0</text><text transform="translate(1322.2,97.6) rotate(-28.2)" dx="0" font-size="15.6" text-anchor="middle">50</text><text transform="translate(1395.6,66.5) rotate(-17.7)" dx="0" font-size="15.6" text-anchor="middle">100</text><text transform="translate(1343.1,55.8) rotate(-23.5)" font-size="19.1" text-anchor="middle">Spain (Santander)</text><text transform="translate(1473.1,49.3) rotate(-7.3)" dx="-1.5" font-size="15.6" text-anchor="start">0</text><text transform="translate(1552.8,46.5) rotate(3.2)" dx="0" font-size="15.6" text-anchor="middle">50</text><text transform="translate(1631.7,58.3) rotate(13.7)" dx="0" font-size="15.6" text-anchor="middle">100</text><text transform="translate(1563.8,18.7) rotate(4.4)" font-size="19.1" text-anchor="middle">Spain (Seville)</text><text transform="translate(1656,65) rotate(17.1)" dx="-1.5" font-size="15.6" text-anchor="start">0</text><text transform="translate(1729.8,95.2) rotate(27.6)" dx="0" font-size="15.6" text-anchor="middle">50</text><text transform="translate(1796.8,138.4) rotate(38.1)" dx="3.5" font-size="15.6" text-anchor="end">100</text><text transform="translate(1745.2,71.1) rotate(27.9)" font-size="19.1" text-anchor="middle">Slovenia</text><text transform="translate(1806.5,146.2) rotate(39.7)" dx="-1.5" font-size="15.6" text-anchor="start">0</text><text transform="translate(1863,202.6) rotate(50.2)" dx="0" font-size="15.6" text-anchor="middle">50</text><text transform="translate(1908.2,268.3) rotate(60.7)" dx="0" font-size="15.6" text-anchor="middle">100</text><text transform="translate(1906.2,211.9) rotate(54.5)" font-size="19.1" text-anchor="middle">Sweden</text><text transform="translate(1957.9,416.4) rotate(-8.6)" dy="5.4" font-size="15.9">Unknown ST</text><text transform="translate(1941.5,615.9) rotate(18)" dy="5.4" font-size="15.9">Singleton</text><text transform="translate(1844.7,779.4) rotate(43.3)" dy="5.4" font-size="15.9">ST1054</text><text transform="translate(1822.9,801) rotate(47.3)" dy="5.4" font-size="15.9">ST111</text><text transform="translate(1799,821.5) rotate(51.5)" dy="5.4" font-size="15.9">ST1125</text><text transform="translate(1788.6,829.5) rotate(53.2)" dy="5.4" font-size="15.9">ST1194</text><text transform="translate(1777.9,837.3) rotate(54.9)" dy="5.4" font-size="15.9">ST12</text><text transform="translate(1767.7,844.2) rotate(56.6)" dy="5.4" font-size="15.9">ST1225</text><text transform="translate(1758,850.5) rotate(58.1)" dy="5.4" font-size="15.9">ST1239</text><text transform="translate(1748.8,856.1) rotate(59.5)" dy="5.4" font-size="15.9">ST1247</text><text transform="translate(1739.4,861.4) rotate(60.9)" dy="5.4" font-size="15.9">ST132</text><text transform="translate(1730,866.5) rotate(62.3)" dy="5.4" font-size="15.9">ST147</text><text transform="translate(1719.6,871.8) rotate(63.9)" dy="5.4" font-size="15.9">ST155</text><text transform="translate(1699.7,880.9) rotate(66.8)" dy="5.4" font-size="15.9">ST17</text><text transform="translate(1679.4,889.1) rotate(69.6)" dy="5.4" font-size="15.9">ST170</text><text transform="translate(1653.3,897.8) rotate(73.3)" dy="5.4" font-size="15.9">ST175</text><text transform="translate(1613.5,907.7) rotate(78.7)" dy="5.4" font-size="15.9">ST179</text><text transform="translate(1585.6,912.4) rotate(82.4)" dy="5.4" font-size="15.9">ST207</text><text transform="translate(1571.7,914) rotate(84.3)" dy="5.4" font-size="15.9">ST2102</text><text transform="translate(1560.2,915) rotate(85.8)" dy="5.4" font-size="15.9">ST2105</text><text transform="translate(1547.9,915.8) rotate(87.4)" dy="5.4" font-size="15.9">ST233</text><text transform="translate(1518,916.1) rotate(271.3)" dy="5.4" font-size="15.9" text-anchor="end">ST235</text><text transform="translate(1466,911.7) rotate(278.2)" dy="5.4" font-size="15.9" text-anchor="end">ST244</text><text transform="translate(1431.2,905.2) rotate(282.9)" dy="5.4" font-size="15.9" text-anchor="end">ST245</text><text transform="translate(1419.1,902.3) rotate(284.5)" dy="5.4" font-size="15.9" text-anchor="end">ST2465</text><text transform="translate(1408,899.2) rotate(286.1)" dy="5.4" font-size="15.9" text-anchor="end">ST252</text><text transform="translate(1385.6,892.1) rotate(289.2)" dy="5.4" font-size="15.9" text-anchor="end">ST253</text><text transform="translate(1363.6,883.8) rotate(292.3)" dy="5.4" font-size="15.9" text-anchor="end">ST260</text><text transform="translate(1352.9,879.3) rotate(293.8)" dy="5.4" font-size="15.9" text-anchor="end">ST2619</text><text transform="translate(1342.4,874.5) rotate(295.3)" dy="5.4" font-size="15.9" text-anchor="end">ST267</text><text transform="translate(1329.2,868) rotate(297.3)" dy="5.4" font-size="15.9" text-anchor="end">ST27</text><text transform="translate(1316.9,861.4) rotate(299.1)" dy="5.4" font-size="15.9" text-anchor="end">ST270</text><text transform="translate(1296,849) rotate(302.3)" dy="5.4" font-size="15.9" text-anchor="end">ST274</text><text transform="translate(1275.8,835.4) rotate(305.5)" dy="5.4" font-size="15.9" text-anchor="end">ST277</text><text transform="translate(1267.7,829.5) rotate(306.8)" dy="5.4" font-size="15.9" text-anchor="end">ST281</text><text transform="translate(1260.5,823.9) rotate(308)" dy="5.4" font-size="15.9" text-anchor="end">ST285</text><text transform="translate(1252.1,817.2) rotate(309.5)" dy="5.4" font-size="15.9" text-anchor="end">ST296</text><text transform="translate(1243.8,810.2) rotate(310.9)" dy="5.4" font-size="15.9" text-anchor="end">ST298</text><text transform="translate(1236.9,804.2) rotate(312.1)" dy="5.4" font-size="15.9" text-anchor="end">ST308</text><text transform="translate(1228.5,796.3) rotate(313.6)" dy="5.4" font-size="15.9" text-anchor="end">ST309</text><text transform="translate(1214.1,781.9) rotate(316.3)" dy="5.4" font-size="15.9" text-anchor="end">ST313</text><text transform="translate(1201.4,768.1) rotate(318.8)" dy="5.4" font-size="15.9" text-anchor="end">ST3154</text><text transform="translate(1194.4,759.9) rotate(320.2)" dy="5.4" font-size="15.9" text-anchor="end">ST316</text><text transform="translate(1187.1,750.9) rotate(321.7)" dy="5.4" font-size="15.9" text-anchor="end">ST3218</text><text transform="translate(1180.1,741.8) rotate(323.2)" dy="5.4" font-size="15.9" text-anchor="end">ST3437</text><text transform="translate(1173.3,732.4) rotate(324.8)" dy="5.4" font-size="15.9" text-anchor="end">ST348</text><text transform="translate(1151.2,697.8) rotate(330.2)" dy="5.4" font-size="15.9" text-anchor="end">Novel ST</text><text transform="translate(1132.8,662) rotate(335.5)" dy="5.4" font-size="15.9" text-anchor="end">ST369</text><text transform="translate(1128.5,652.2) rotate(336.9)" dy="5.4" font-size="15.9" text-anchor="end">ST377</text><text transform="translate(1124.4,642.2) rotate(338.3)" dy="5.4" font-size="15.9" text-anchor="end">ST381</text><text transform="translate(1120.5,632.2) rotate(339.7)" dy="5.4" font-size="15.9" text-anchor="end">ST385</text><text transform="translate(1116.9,622) rotate(341.1)" dy="5.4" font-size="15.9" text-anchor="end">ST390</text><text transform="translate(1110.1,600.3) rotate(344.1)" dy="5.4" font-size="15.9" text-anchor="end">ST395</text><text transform="translate(1104.5,578.3) rotate(347.1)" dy="5.4" font-size="15.9" text-anchor="end">ST399</text><text transform="translate(1101.3,563.1) rotate(349.2)" dy="5.4" font-size="15.9" text-anchor="end">ST446</text><text transform="translate(1098.2,544.6) rotate(351.7)" dy="5.4" font-size="15.9" text-anchor="end">ST447</text><text transform="translate(1096.4,530.8) rotate(353.5)" dy="5.4" font-size="15.9" text-anchor="end">ST499</text><text transform="translate(1095.3,520.1) rotate(354.9)" dy="5.4" font-size="15.9" text-anchor="end">ST500</text><text transform="translate(1094.5,510.1) rotate(356.2)" dy="5.4" font-size="15.9" text-anchor="end">ST508</text><text transform="translate(1093.8,496.2) rotate(358.1)" dy="5.4" font-size="15.9" text-anchor="end">ST560</text><text transform="translate(1093.6,481.5) rotate(360)" dy="5.4" font-size="15.9" text-anchor="end">ST564</text><text transform="translate(1093.7,470.7) rotate(361.4)" dy="5.4" font-size="15.9" text-anchor="end">ST611</text><text transform="translate(1094.1,459.9) rotate(362.9)" dy="5.4" font-size="15.9" text-anchor="end">ST612</text><text transform="translate(1094.9,448.4) rotate(364.4)" dy="5.4" font-size="15.9" text-anchor="end">ST633</text><text transform="translate(1095.9,436.9) rotate(365.9)" dy="5.4" font-size="15.9" text-anchor="end">ST646</text><text transform="translate(1097.7,422.2) rotate(367.9)" dy="5.4" font-size="15.9" text-anchor="end">ST699</text><text transform="translate(1099.8,408.4) rotate(369.7)" dy="5.4" font-size="15.9" text-anchor="end">ST9</text></g>
<g font-family="'Liberation Sans',sans-serif">
<text x="60" y="1671.9" font-size="20.5" fill="#4d4d4d" text-anchor="end">0.0</text>
<path d="M62.5 1664.6H68" stroke="#333" stroke-width="1.3"/>
<text x="60" y="1578.9" font-size="20.5" fill="#4d4d4d" text-anchor="end">0.1</text>
<path d="M62.5 1571.6H68" stroke="#333" stroke-width="1.3"/>
<text x="60" y="1485.9" font-size="20.5" fill="#4d4d4d" text-anchor="end">0.2</text>
<path d="M62.5 1478.6H68" stroke="#333" stroke-width="1.3"/>
<text x="60" y="1392.9" font-size="20.5" fill="#4d4d4d" text-anchor="end">0.3</text>
<path d="M62.5 1385.6H68" stroke="#333" stroke-width="1.3"/>
<text x="60" y="1299.9" font-size="20.5" fill="#4d4d4d" text-anchor="end">0.4</text>
<path d="M62.5 1292.6H68" stroke="#333" stroke-width="1.3"/>
<text transform="translate(21.5,1470.5) rotate(-90)" font-size="29.3" text-anchor="middle" fill="#000">Proportion of resistant strains</text>
<path d="M68 1664.6h322.6M68 1571.6h322.6M68 1478.6h322.6M68 1385.6h322.6M68 1292.6h322.6M89 1258.2V1684.2M124.1 1258.2V1684.2M159.2 1258.2V1684.2M194.2 1258.2V1684.2M229.3 1258.2V1684.2M264.4 1258.2V1684.2M299.4 1258.2V1684.2M334.5 1258.2V1684.2M369.6 1258.2V1684.2" stroke="#e7e7e7" stroke-width="1.1" fill="none"/>
<rect x="73.3" y="1553.9" width="31.6" height="110.7" fill="#08513f" stroke="#b5b5b5" stroke-width="0.9"/>
<rect x="108.3" y="1620.9" width="31.6" height="43.7" fill="#0e8a70" stroke="#b5b5b5" stroke-width="0.9"/>
<rect x="143.4" y="1620" width="31.6" height="44.6" fill="#2eb59b" stroke="#b5b5b5" stroke-width="0.9"/>
<rect x="178.5" y="1642.6" width="31.6" height="22" fill="#7fd3c3" stroke="#b5b5b5" stroke-width="0.9"/>
<rect x="213.5" y="1599.5" width="31.6" height="65.1" fill="#5fccc4" stroke="#b5b5b5" stroke-width="0.9"/>
<rect x="248.6" y="1556.7" width="31.6" height="107.9" fill="#2cb8c0" stroke="#b5b5b5" stroke-width="0.9"/>
<rect x="283.7" y="1653.4" width="31.6" height="11.2" fill="#18a0c6" stroke="#b5b5b5" stroke-width="0.9"/>
<rect x="318.7" y="1620.9" width="31.6" height="43.7" fill="#0f86bb" stroke="#b5b5b5" stroke-width="0.9"/>
<rect x="353.8" y="1642.6" width="31.6" height="22" fill="#1565b5" stroke="#b5b5b5" stroke-width="0.9"/>
<rect x="68" y="1258.2" width="322.6" height="426" fill="none" stroke="#000" stroke-width="2.1"/>
<text x="229.3" y="1248" font-size="29" text-anchor="middle" fill="#111">Australia</text>
<text transform="translate(98.5,1702.7) rotate(-45)" font-size="20.5" fill="#4d4d4d" text-anchor="end">Aztreonam</text>
<text transform="translate(133.6,1702.7) rotate(-45)" font-size="20.5" fill="#4d4d4d" text-anchor="end">Ceftazidime</text>
<text transform="translate(168.7,1702.7) rotate(-45)" font-size="20.5" fill="#4d4d4d" text-anchor="end">Imipenem</text>
<text transform="translate(203.7,1702.7) rotate(-45)" font-size="20.5" fill="#4d4d4d" text-anchor="end">Meropenem</text>
<text transform="translate(238.8,1702.7) rotate(-45)" font-size="20.5" fill="#4d4d4d" text-anchor="end">Piperacillin/tazobactam</text>
<text transform="translate(273.9,1702.7) rotate(-45)" font-size="20.5" fill="#4d4d4d" text-anchor="end">Ciprofloxacin</text>
<text transform="translate(308.9,1702.7) rotate(-45)" font-size="20.5" fill="#4d4d4d" text-anchor="end">Amikacin</text>
<text transform="translate(344,1702.7) rotate(-45)" font-size="20.5" fill="#4d4d4d" text-anchor="end">Gentamycin</text>
<text transform="translate(379.1,1702.7) rotate(-45)" font-size="20.5" fill="#4d4d4d" text-anchor="end">Tobramycin</text>
<path d="M89 1685.2v4.6M124.1 1685.2v4.6M159.2 1685.2v4.6M194.2 1685.2v4.6M229.3 1685.2v4.6M264.4 1685.2v4.6M299.4 1685.2v4.6M334.5 1685.2v4.6M369.6 1685.2v4.6" stroke="#333" stroke-width="1.6"/>
<path d="M400 1664.6h322.6M400 1571.6h322.6M400 1478.6h322.6M400 1385.6h322.6M400 1292.6h322.6M421 1258.2V1684.2M456.1 1258.2V1684.2M491.2 1258.2V1684.2M526.2 1258.2V1684.2M561.3 1258.2V1684.2M596.4 1258.2V1684.2M631.4 1258.2V1684.2M666.5 1258.2V1684.2M701.6 1258.2V1684.2" stroke="#e7e7e7" stroke-width="1.1" fill="none"/>
<rect x="405.3" y="1454.4" width="31.6" height="210.2" fill="#08513f" stroke="#b5b5b5" stroke-width="0.9"/>
<rect x="440.3" y="1420.9" width="31.6" height="243.7" fill="#0e8a70" stroke="#b5b5b5" stroke-width="0.9"/>
<rect x="475.4" y="1277.7" width="31.6" height="386.9" fill="#2eb59b" stroke="#b5b5b5" stroke-width="0.9"/>
<rect x="510.5" y="1343.8" width="31.6" height="320.8" fill="#7fd3c3" stroke="#b5b5b5" stroke-width="0.9"/>
<rect x="545.5" y="1387.5" width="31.6" height="277.1" fill="#5fccc4" stroke="#b5b5b5" stroke-width="0.9"/>
<rect x="580.6" y="1377.2" width="31.6" height="287.4" fill="#2cb8c0" stroke="#b5b5b5" stroke-width="0.9"/>
<rect x="615.7" y="1465.6" width="31.6" height="199" fill="#18a0c6" stroke="#b5b5b5" stroke-width="0.9"/>
<rect x="650.7" y="1454.4" width="31.6" height="210.2" fill="#0f86bb" stroke="#b5b5b5" stroke-width="0.9"/>
<rect x="685.8" y="1432.1" width="31.6" height="232.5" fill="#1565b5" stroke="#b5b5b5" stroke-width="0.9"/>
<rect x="400" y="1258.2" width="322.6" height="426" fill="none" stroke="#000" stroke-width="2.1"/>
<text x="561.3" y="1248" font-size="29" text-anchor="middle" fill="#111">Greece</text>
<text transform="translate(430.5,1702.7) rotate(-45)" font-size="20.5" fill="#4d4d4d" text-anchor="end">Aztreonam</text>
<text transform="translate(465.6,1702.7) rotate(-45)" font-size="20.5" fill="#4d4d4d" text-anchor="end">Ceftazidime</text>
<text transform="translate(500.7,1702.7) rotate(-45)" font-size="20.5" fill="#4d4d4d" text-anchor="end">Imipenem</text>
<text transform="translate(535.7,1702.7) rotate(-45)" font-size="20.5" fill="#4d4d4d" text-anchor="end">Meropenem</text>
<text transform="translate(570.8,1702.7) rotate(-45)" font-size="20.5" fill="#4d4d4d" text-anchor="end">Piperacillin/tazobactam</text>
<text transform="translate(605.9,1702.7) rotate(-45)" font-size="20.5" fill="#4d4d4d" text-anchor="end">Ciprofloxacin</text>
<text transform="translate(640.9,1702.7) rotate(-45)" font-size="20.5" fill="#4d4d4d" text-anchor="end">Amikacin</text>
<text transform="translate(676,1702.7) rotate(-45)" font-size="20.5" fill="#4d4d4d" text-anchor="end">Gentamycin</text>
<text transform="translate(711.1,1702.7) rotate(-45)" font-size="20.5" fill="#4d4d4d" text-anchor="end">Tobramycin</text>
<path d="M421 1685.2v4.6M456.1 1685.2v4.6M491.2 1685.2v4.6M526.2 1685.2v4.6M561.3 1685.2v4.6M596.4 1685.2v4.6M631.4 1685.2v4.6M666.5 1685.2v4.6M701.6 1685.2v4.6" stroke="#333" stroke-width="1.6"/>
<path d="M732 1664.6h322.6M732 1571.6h322.6M732 1478.6h322.6M732 1385.6h322.6M732 1292.6h322.6M753 1258.2V1684.2M788.1 1258.2V1684.2M823.2 1258.2V1684.2M858.2 1258.2V1684.2M893.3 1258.2V1684.2M928.4 1258.2V1684.2M963.4 1258.2V1684.2M998.5 1258.2V1684.2M1033.6 1258.2V1684.2" stroke="#e7e7e7" stroke-width="1.1" fill="none"/>
<rect x="737.3" y="1462.8" width="31.6" height="201.8" fill="#08513f" stroke="#b5b5b5" stroke-width="0.9"/>
<rect x="772.3" y="1537.2" width="31.6" height="127.4" fill="#0e8a70" stroke="#b5b5b5" stroke-width="0.9"/>
<rect x="807.4" y="1382.8" width="31.6" height="281.8" fill="#2eb59b" stroke="#b5b5b5" stroke-width="0.9"/>
<rect x="842.5" y="1457.2" width="31.6" height="207.4" fill="#7fd3c3" stroke="#b5b5b5" stroke-width="0.9"/>
<rect x="877.5" y="1504.6" width="31.6" height="160" fill="#5fccc4" stroke="#b5b5b5" stroke-width="0.9"/>
<rect x="912.6" y="1345.6" width="31.6" height="319" fill="#2cb8c0" stroke="#b5b5b5" stroke-width="0.9"/>
<rect x="947.7" y="1664.1" width="31.6" height="0.5" fill="#18a0c6" stroke="#b5b5b5" stroke-width="0.9"/>
<rect x="982.7" y="1447" width="31.6" height="217.6" fill="#0f86bb" stroke="#b5b5b5" stroke-width="0.9"/>
<rect x="1017.8" y="1480.5" width="31.6" height="184.1" fill="#1565b5" stroke="#b5b5b5" stroke-width="0.9"/>
<rect x="732" y="1258.2" width="322.6" height="426" fill="none" stroke="#000" stroke-width="2.1"/>
<text x="893.3" y="1248" font-size="29" text-anchor="middle" fill="#111">Spain (Santander)</text>
<text transform="translate(762.5,1702.7) rotate(-45)" font-size="20.5" fill="#4d4d4d" text-anchor="end">Aztreonam</text>
<text transform="translate(797.6,1702.7) rotate(-45)" font-size="20.5" fill="#4d4d4d" text-anchor="end">Ceftazidime</text>
<text transform="translate(832.7,1702.7) rotate(-45)" font-size="20.5" fill="#4d4d4d" text-anchor="end">Imipenem</text>
<text transform="translate(867.7,1702.7) rotate(-45)" font-size="20.5" fill="#4d4d4d" text-anchor="end">Meropenem</text>
<text transform="translate(902.8,1702.7) rotate(-45)" font-size="20.5" fill="#4d4d4d" text-anchor="end">Piperacillin/tazobactam</text>
<text transform="translate(937.9,1702.7) rotate(-45)" font-size="20.5" fill="#4d4d4d" text-anchor="end">Ciprofloxacin</text>
<text transform="translate(972.9,1702.7) rotate(-45)" font-size="20.5" fill="#4d4d4d" text-anchor="end">Amikacin</text>
<text transform="translate(1008,1702.7) rotate(-45)" font-size="20.5" fill="#4d4d4d" text-anchor="end">Gentamycin</text>
<text transform="translate(1043.1,1702.7) rotate(-45)" font-size="20.5" fill="#4d4d4d" text-anchor="end">Tobramycin</text>
<path d="M753 1685.2v4.6M788.1 1685.2v4.6M823.2 1685.2v4.6M858.2 1685.2v4.6M893.3 1685.2v4.6M928.4 1685.2v4.6M963.4 1685.2v4.6M998.5 1685.2v4.6M1033.6 1685.2v4.6" stroke="#333" stroke-width="1.6"/>
<path d="M1063.7 1664.6h322.6M1063.7 1571.6h322.6M1063.7 1478.6h322.6M1063.7 1385.6h322.6M1063.7 1292.6h322.6M1084.7 1258.2V1684.2M1119.8 1258.2V1684.2M1154.9 1258.2V1684.2M1189.9 1258.2V1684.2M1225 1258.2V1684.2M1260.1 1258.2V1684.2M1295.1 1258.2V1684.2M1330.2 1258.2V1684.2M1365.3 1258.2V1684.2" stroke="#e7e7e7" stroke-width="1.1" fill="none"/>
<rect x="1069" y="1573.5" width="31.6" height="91.1" fill="#08513f" stroke="#b5b5b5" stroke-width="0.9"/>
<rect x="1104" y="1566.9" width="31.6" height="97.6" fill="#0e8a70" stroke="#b5b5b5" stroke-width="0.9"/>
<rect x="1139.1" y="1573.5" width="31.6" height="91.1" fill="#2eb59b" stroke="#b5b5b5" stroke-width="0.9"/>
<rect x="1174.2" y="1546.5" width="31.6" height="118.1" fill="#7fd3c3" stroke="#b5b5b5" stroke-width="0.9"/>
<rect x="1209.2" y="1525.1" width="31.6" height="139.5" fill="#5fccc4" stroke="#b5b5b5" stroke-width="0.9"/>
<rect x="1244.3" y="1566.9" width="31.6" height="97.6" fill="#2cb8c0" stroke="#b5b5b5" stroke-width="0.9"/>
<rect x="1279.4" y="1622.8" width="31.6" height="41.9" fill="#18a0c6" stroke="#b5b5b5" stroke-width="0.9"/>
<rect x="1314.4" y="1622.8" width="31.6" height="41.9" fill="#0f86bb" stroke="#b5b5b5" stroke-width="0.9"/>
<rect x="1349.5" y="1622.8" width="31.6" height="41.9" fill="#1565b5" stroke="#b5b5b5" stroke-width="0.9"/>
<rect x="1063.7" y="1258.2" width="322.6" height="426" fill="none" stroke="#000" stroke-width="2.1"/>
<text x="1225" y="1248" font-size="29" text-anchor="middle" fill="#111">Spain (Seville)</text>
<text transform="translate(1094.2,1702.7) rotate(-45)" font-size="20.5" fill="#4d4d4d" text-anchor="end">Aztreonam</text>
<text transform="translate(1129.3,1702.7) rotate(-45)" font-size="20.5" fill="#4d4d4d" text-anchor="end">Ceftazidime</text>
<text transform="translate(1164.4,1702.7) rotate(-45)" font-size="20.5" fill="#4d4d4d" text-anchor="end">Imipenem</text>
<text transform="translate(1199.4,1702.7) rotate(-45)" font-size="20.5" fill="#4d4d4d" text-anchor="end">Meropenem</text>
<text transform="translate(1234.5,1702.7) rotate(-45)" font-size="20.5" fill="#4d4d4d" text-anchor="end">Piperacillin/tazobactam</text>
<text transform="translate(1269.6,1702.7) rotate(-45)" font-size="20.5" fill="#4d4d4d" text-anchor="end">Ciprofloxacin</text>
<text transform="translate(1304.6,1702.7) rotate(-45)" font-size="20.5" fill="#4d4d4d" text-anchor="end">Amikacin</text>
<text transform="translate(1339.7,1702.7) rotate(-45)" font-size="20.5" fill="#4d4d4d" text-anchor="end">Gentamycin</text>
<text transform="translate(1374.8,1702.7) rotate(-45)" font-size="20.5" fill="#4d4d4d" text-anchor="end">Tobramycin</text>
<path d="M1084.7 1685.2v4.6M1119.8 1685.2v4.6M1154.9 1685.2v4.6M1189.9 1685.2v4.6M1225 1685.2v4.6M1260.1 1685.2v4.6M1295.1 1685.2v4.6M1330.2 1685.2v4.6M1365.3 1685.2v4.6" stroke="#333" stroke-width="1.6"/>
<path d="M1395.4 1664.6h322.6M1395.4 1571.6h322.6M1395.4 1478.6h322.6M1395.4 1385.6h322.6M1395.4 1292.6h322.6M1416.4 1258.2V1684.2M1451.5 1258.2V1684.2M1486.6 1258.2V1684.2M1521.6 1258.2V1684.2M1556.7 1258.2V1684.2M1591.8 1258.2V1684.2M1626.8 1258.2V1684.2M1661.9 1258.2V1684.2M1697 1258.2V1684.2" stroke="#e7e7e7" stroke-width="1.1" fill="none"/>
<rect x="1400.7" y="1453.5" width="31.6" height="211.1" fill="#08513f" stroke="#b5b5b5" stroke-width="0.9"/>
<rect x="1435.7" y="1483.2" width="31.6" height="181.3" fill="#0e8a70" stroke="#b5b5b5" stroke-width="0.9"/>
<rect x="1470.8" y="1452.6" width="31.6" height="212" fill="#2eb59b" stroke="#b5b5b5" stroke-width="0.9"/>
<rect x="1505.9" y="1460" width="31.6" height="204.6" fill="#7fd3c3" stroke="#b5b5b5" stroke-width="0.9"/>
<rect x="1540.9" y="1392.1" width="31.6" height="272.5" fill="#5fccc4" stroke="#b5b5b5" stroke-width="0.9"/>
<rect x="1576" y="1354.9" width="31.6" height="309.7" fill="#2cb8c0" stroke="#b5b5b5" stroke-width="0.9"/>
<rect x="1611.1" y="1520.4" width="31.6" height="144.2" fill="#18a0c6" stroke="#b5b5b5" stroke-width="0.9"/>
<rect x="1646.1" y="1566" width="31.6" height="98.6" fill="#0f86bb" stroke="#b5b5b5" stroke-width="0.9"/>
<rect x="1681.2" y="1475.8" width="31.6" height="188.8" fill="#1565b5" stroke="#b5b5b5" stroke-width="0.9"/>
<rect x="1395.4" y="1258.2" width="322.6" height="426" fill="none" stroke="#000" stroke-width="2.1"/>
<text x="1556.7" y="1248" font-size="29" text-anchor="middle" fill="#111">Slovenia</text>
<text transform="translate(1425.9,1702.7) rotate(-45)" font-size="20.5" fill="#4d4d4d" text-anchor="end">Aztreonam</text>
<text transform="translate(1461,1702.7) rotate(-45)" font-size="20.5" fill="#4d4d4d" text-anchor="end">Ceftazidime</text>
<text transform="translate(1496.1,1702.7) rotate(-45)" font-size="20.5" fill="#4d4d4d" text-anchor="end">Imipenem</text>
<text transform="translate(1531.1,1702.7) rotate(-45)" font-size="20.5" fill="#4d4d4d" text-anchor="end">Meropenem</text>
<text transform="translate(1566.2,1702.7) rotate(-45)" font-size="20.5" fill="#4d4d4d" text-anchor="end">Piperacillin/tazobactam</text>
<text transform="translate(1601.3,1702.7) rotate(-45)" font-size="20.5" fill="#4d4d4d" text-anchor="end">Ciprofloxacin</text>
<text transform="translate(1636.3,1702.7) rotate(-45)" font-size="20.5" fill="#4d4d4d" text-anchor="end">Amikacin</text>
<text transform="translate(1671.4,1702.7) rotate(-45)" font-size="20.5" fill="#4d4d4d" text-anchor="end">Gentamycin</text>
<text transform="translate(1706.5,1702.7) rotate(-45)" font-size="20.5" fill="#4d4d4d" text-anchor="end">Tobramycin</text>
<path d="M1416.4 1685.2v4.6M1451.5 1685.2v4.6M1486.6 1685.2v4.6M1521.6 1685.2v4.6M1556.7 1685.2v4.6M1591.8 1685.2v4.6M1626.8 1685.2v4.6M1661.9 1685.2v4.6M1697 1685.2v4.6" stroke="#333" stroke-width="1.6"/>
<path d="M1727.2 1664.6h322.6M1727.2 1571.6h322.6M1727.2 1478.6h322.6M1727.2 1385.6h322.6M1727.2 1292.6h322.6M1748.2 1258.2V1684.2M1783.3 1258.2V1684.2M1818.4 1258.2V1684.2M1853.4 1258.2V1684.2M1888.5 1258.2V1684.2M1923.6 1258.2V1684.2M1958.6 1258.2V1684.2M1993.7 1258.2V1684.2M2028.8 1258.2V1684.2" stroke="#e7e7e7" stroke-width="1.1" fill="none"/>
<rect x="1732.5" y="1554.9" width="31.6" height="109.7" fill="#08513f" stroke="#b5b5b5" stroke-width="0.9"/>
<rect x="1767.5" y="1621.8" width="31.6" height="42.8" fill="#0e8a70" stroke="#b5b5b5" stroke-width="0.9"/>
<rect x="1802.6" y="1555.8" width="31.6" height="108.8" fill="#2eb59b" stroke="#b5b5b5" stroke-width="0.9"/>
<rect x="1837.7" y="1598.6" width="31.6" height="66" fill="#7fd3c3" stroke="#b5b5b5" stroke-width="0.9"/>
<rect x="1872.7" y="1604.1" width="31.6" height="60.5" fill="#5fccc4" stroke="#b5b5b5" stroke-width="0.9"/>
<rect x="1907.8" y="1544.6" width="31.6" height="120" fill="#2cb8c0" stroke="#b5b5b5" stroke-width="0.9"/>
<rect x="1942.9" y="1648.8" width="31.6" height="15.8" fill="#18a0c6" stroke="#b5b5b5" stroke-width="0.9"/>
<rect x="1977.9" y="1637.6" width="31.6" height="27" fill="#0f86bb" stroke="#b5b5b5" stroke-width="0.9"/>
<rect x="2013" y="1648.8" width="31.6" height="15.8" fill="#1565b5" stroke="#b5b5b5" stroke-width="0.9"/>
<rect x="1727.2" y="1258.2" width="322.6" height="426" fill="none" stroke="#000" stroke-width="2.1"/>
<text x="1888.5" y="1248" font-size="29" text-anchor="middle" fill="#111">Sweden</text>
<text transform="translate(1757.7,1702.7) rotate(-45)" font-size="20.5" fill="#4d4d4d" text-anchor="end">Aztreonam</text>
<text transform="translate(1792.8,1702.7) rotate(-45)" font-size="20.5" fill="#4d4d4d" text-anchor="end">Ceftazidime</text>
<text transform="translate(1827.9,1702.7) rotate(-45)" font-size="20.5" fill="#4d4d4d" text-anchor="end">Imipenem</text>
<text transform="translate(1862.9,1702.7) rotate(-45)" font-size="20.5" fill="#4d4d4d" text-anchor="end">Meropenem</text>
<text transform="translate(1898,1702.7) rotate(-45)" font-size="20.5" fill="#4d4d4d" text-anchor="end">Piperacillin/tazobactam</text>
<text transform="translate(1933.1,1702.7) rotate(-45)" font-size="20.5" fill="#4d4d4d" text-anchor="end">Ciprofloxacin</text>
<text transform="translate(1968.1,1702.7) rotate(-45)" font-size="20.5" fill="#4d4d4d" text-anchor="end">Amikacin</text>
<text transform="translate(2003.2,1702.7) rotate(-45)" font-size="20.5" fill="#4d4d4d" text-anchor="end">Gentamycin</text>
<text transform="translate(2038.3,1702.7) rotate(-45)" font-size="20.5" fill="#4d4d4d" text-anchor="end">Tobramycin</text>
<path d="M1748.2 1685.2v4.6M1783.3 1685.2v4.6M1818.4 1685.2v4.6M1853.4 1685.2v4.6M1888.5 1685.2v4.6M1923.6 1685.2v4.6M1958.6 1685.2v4.6M1993.7 1685.2v4.6M2028.8 1685.2v4.6" stroke="#333" stroke-width="1.6"/>
</g>
<g font-family="'Liberation Sans',sans-serif">
<text x="5" y="46.5" font-size="51" font-weight="bold" fill="#111">a</text>
<text x="1045" y="46.3" font-size="51" font-weight="bold" fill="#111">b</text>
<text x="8" y="1172.2" font-size="51" font-weight="bold" fill="#111">c</text>
<text x="254.5" y="1046.8" font-size="24.5" fill="#000">Exoenzymes</text>
<rect x="409.5" y="1020" width="37.2" height="37" fill="#1462b0"/>
<text x="461" y="1046.8" font-size="24.5" fill="#000">Detected</text>
<rect x="572.8" y="1020" width="37.5" height="37" fill="#a9e1cf"/>
<text x="624" y="1046.8" font-size="24.5" fill="#000">Not detected</text>
</g>
</svg></body></html>
